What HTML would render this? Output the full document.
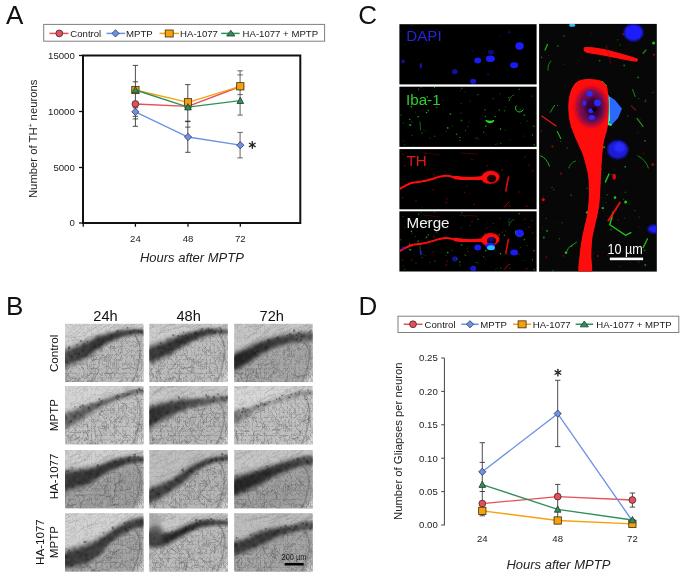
<!DOCTYPE html>
<html><head><meta charset="utf-8"><style>
html,body{margin:0;padding:0;background:#fff;}
body{width:685px;height:578px;overflow:hidden;position:relative;font-family:"Liberation Sans",sans-serif;}
svg{position:absolute;left:0;top:0;filter:blur(0.3px);}
svg text{font-family:"Liberation Sans",sans-serif;}
</style></head><body>
<svg width="685" height="578" viewBox="0 0 685 578">
<defs><filter id="b04" x="-20%" y="-20%" width="140%" height="140%"><feGaussianBlur stdDeviation="0.45"/></filter><filter id="b3" x="-20%" y="-20%" width="140%" height="140%"><feGaussianBlur stdDeviation="3"/></filter><filter id="b2" x="-20%" y="-20%" width="140%" height="140%"><feGaussianBlur stdDeviation="2.2"/></filter><filter id="b15" x="-20%" y="-20%" width="140%" height="140%"><feGaussianBlur stdDeviation="1.6"/></filter><filter id="tex0" x="0" y="0" width="100%" height="100%"><feTurbulence type="turbulence" baseFrequency="0.26 0.22" numOctaves="2" seed="3"/><feColorMatrix type="matrix" values="0 0 0 0 0.1  0 0 0 0 0.1  0 0 0 0 0.1  -4.5 0 0 0 1.1"/><feGaussianBlur stdDeviation="0.4"/></filter><filter id="mot0" x="0" y="0" width="100%" height="100%"><feTurbulence type="fractalNoise" baseFrequency="0.35" numOctaves="2" seed="11" result="n"/><feColorMatrix in="n" type="matrix" values="0 0 0 0 0  0 0 0 0 0  0 0 0 0 0  4.0 0 0 0 -1.8" result="m"/><feComposite in="m" in2="SourceAlpha" operator="in"/><feGaussianBlur stdDeviation="0.8"/></filter><filter id="tex1" x="0" y="0" width="100%" height="100%"><feTurbulence type="turbulence" baseFrequency="0.26 0.22" numOctaves="2" seed="10"/><feColorMatrix type="matrix" values="0 0 0 0 0.1  0 0 0 0 0.1  0 0 0 0 0.1  -4.5 0 0 0 1.1"/><feGaussianBlur stdDeviation="0.4"/></filter><filter id="mot1" x="0" y="0" width="100%" height="100%"><feTurbulence type="fractalNoise" baseFrequency="0.35" numOctaves="2" seed="16" result="n"/><feColorMatrix in="n" type="matrix" values="0 0 0 0 0  0 0 0 0 0  0 0 0 0 0  4.0 0 0 0 -1.8" result="m"/><feComposite in="m" in2="SourceAlpha" operator="in"/><feGaussianBlur stdDeviation="0.8"/></filter><filter id="tex2" x="0" y="0" width="100%" height="100%"><feTurbulence type="turbulence" baseFrequency="0.26 0.22" numOctaves="2" seed="17"/><feColorMatrix type="matrix" values="0 0 0 0 0.1  0 0 0 0 0.1  0 0 0 0 0.1  -4.5 0 0 0 1.1"/><feGaussianBlur stdDeviation="0.4"/></filter><filter id="mot2" x="0" y="0" width="100%" height="100%"><feTurbulence type="fractalNoise" baseFrequency="0.35" numOctaves="2" seed="21" result="n"/><feColorMatrix in="n" type="matrix" values="0 0 0 0 0  0 0 0 0 0  0 0 0 0 0  4.0 0 0 0 -1.8" result="m"/><feComposite in="m" in2="SourceAlpha" operator="in"/><feGaussianBlur stdDeviation="0.8"/></filter><filter id="tex3" x="0" y="0" width="100%" height="100%"><feTurbulence type="turbulence" baseFrequency="0.26 0.22" numOctaves="2" seed="24"/><feColorMatrix type="matrix" values="0 0 0 0 0.1  0 0 0 0 0.1  0 0 0 0 0.1  -4.5 0 0 0 1.1"/><feGaussianBlur stdDeviation="0.4"/></filter><filter id="mot3" x="0" y="0" width="100%" height="100%"><feTurbulence type="fractalNoise" baseFrequency="0.35" numOctaves="2" seed="26" result="n"/><feColorMatrix in="n" type="matrix" values="0 0 0 0 0  0 0 0 0 0  0 0 0 0 0  4.0 0 0 0 -1.8" result="m"/><feComposite in="m" in2="SourceAlpha" operator="in"/><feGaussianBlur stdDeviation="0.8"/></filter><filter id="g05" x="-50%" y="-50%" width="200%" height="200%"><feGaussianBlur stdDeviation="0.5"/></filter><filter id="g06" x="-50%" y="-50%" width="200%" height="200%"><feGaussianBlur stdDeviation="0.7"/></filter><filter id="g1" x="-50%" y="-50%" width="200%" height="200%"><feGaussianBlur stdDeviation="1.0"/></filter><filter id="g2" x="-50%" y="-50%" width="200%" height="200%"><feGaussianBlur stdDeviation="2.0"/></filter></defs>
<text x="6.1" y="24.2" font-size="26" fill="#111">A</text>
<rect x="43.7" y="24.4" width="280.90000000000003" height="16.800000000000004" fill="#fff" stroke="#7f7f7f" stroke-width="1"/>
<line x1="49.5" y1="33.4" x2="68.5" y2="33.4" stroke="#e5505a" stroke-width="1.5"/>
<circle cx="59.3" cy="33.4" r="3.4" fill="#e5505a" stroke="#3a2a2a" stroke-width="0.8"/>
<text x="70.3" y="37.3" font-size="9.6" fill="#1a1a1a">Control</text>
<line x1="106.5" y1="33.4" x2="125" y2="33.4" stroke="#6b92e4" stroke-width="1.5"/>
<path d="M115.5 29.799999999999997L119.1 33.4L115.5 37.0L111.9 33.4Z" fill="#6b92e4" stroke="#2a3550" stroke-width="0.8"/>
<text x="126.1" y="37.3" font-size="9.6" fill="#1a1a1a">MPTP</text>
<line x1="159.5" y1="33.4" x2="179" y2="33.4" stroke="#f5a10d" stroke-width="1.5"/>
<rect x="165.2" y="30.0" width="8" height="7" fill="#f5a10d" stroke="#3a2a10" stroke-width="0.8"/>
<text x="180.1" y="37.3" font-size="9.6" fill="#1a1a1a">HA-1077</text>
<line x1="221.2" y1="33.4" x2="239.6" y2="33.4" stroke="#2f8f5a" stroke-width="1.5"/>
<path d="M230.8 30.2L234.9 36.0L226.70000000000002 36.0Z" fill="#2f8f5a" stroke="#1f3a2a" stroke-width="0.8"/>
<text x="242.6" y="37.3" font-size="9.6" fill="#1a1a1a">HA-1077 + MPTP</text>
<path d="M83 55.5H300.3V223H83Z" fill="none" stroke="#111" stroke-width="2"/>
<line x1="79" y1="55.5" x2="83" y2="55.5" stroke="#111" stroke-width="1.3"/><text x="74.8" y="58.8" font-size="9.6" text-anchor="end" fill="#222">15000</text>
<line x1="79" y1="111.5" x2="83" y2="111.5" stroke="#111" stroke-width="1.3"/><text x="74.8" y="114.8" font-size="9.6" text-anchor="end" fill="#222">10000</text>
<line x1="79" y1="167.5" x2="83" y2="167.5" stroke="#111" stroke-width="1.3"/><text x="74.8" y="170.8" font-size="9.6" text-anchor="end" fill="#222">5000</text>
<line x1="79" y1="223" x2="83" y2="223" stroke="#111" stroke-width="1.3"/><text x="74.8" y="226.3" font-size="9.6" text-anchor="end" fill="#222">0</text>
<line x1="83.2" y1="223" x2="83.2" y2="226.8" stroke="#111" stroke-width="1.3"/><line x1="135.4" y1="223" x2="135.4" y2="226.8" stroke="#111" stroke-width="1.3"/><line x1="188" y1="223" x2="188" y2="226.8" stroke="#111" stroke-width="1.3"/><line x1="240.3" y1="223" x2="240.3" y2="226.8" stroke="#111" stroke-width="1.3"/><text x="135.4" y="241.5" font-size="9.6" text-anchor="middle" fill="#222">24</text>
<text x="188" y="241.5" font-size="9.6" text-anchor="middle" fill="#222">48</text>
<text x="240.3" y="241.5" font-size="9.6" text-anchor="middle" fill="#222">72</text>
<text x="191.9" y="262.4" font-size="13" font-style="italic" text-anchor="middle" fill="#222">Hours after MPTP</text>
<text transform="translate(37.2,138.8) rotate(-90)" font-size="11.3" text-anchor="middle" fill="#222">Number of TH<tspan font-size="6.5" dy="-4">+</tspan><tspan dy="4"> neurons</tspan></text>
<line x1="135.4" y1="65.4" x2="135.4" y2="126.3" stroke="#3a3a3a" stroke-width="0.9"/><line x1="132.70000000000002" y1="65.4" x2="138.1" y2="65.4" stroke="#3a3a3a" stroke-width="0.9"/><line x1="132.70000000000002" y1="81.8" x2="138.1" y2="81.8" stroke="#3a3a3a" stroke-width="0.9"/><line x1="132.70000000000002" y1="107.8" x2="138.1" y2="107.8" stroke="#3a3a3a" stroke-width="0.9"/><line x1="132.70000000000002" y1="116.3" x2="138.1" y2="116.3" stroke="#3a3a3a" stroke-width="0.9"/><line x1="132.70000000000002" y1="118.9" x2="138.1" y2="118.9" stroke="#3a3a3a" stroke-width="0.9"/><line x1="132.70000000000002" y1="126.3" x2="138.1" y2="126.3" stroke="#3a3a3a" stroke-width="0.9"/>
<line x1="187.8" y1="84.6" x2="187.8" y2="152.3" stroke="#3a3a3a" stroke-width="0.9"/><line x1="185.10000000000002" y1="84.6" x2="190.5" y2="84.6" stroke="#3a3a3a" stroke-width="0.9"/><line x1="185.10000000000002" y1="121.4" x2="190.5" y2="121.4" stroke="#3a3a3a" stroke-width="1.4"/><line x1="185.10000000000002" y1="127.1" x2="190.5" y2="127.1" stroke="#3a3a3a" stroke-width="0.9"/><line x1="185.10000000000002" y1="152.3" x2="190.5" y2="152.3" stroke="#3a3a3a" stroke-width="0.9"/>
<line x1="240.1" y1="70.8" x2="240.1" y2="115.1" stroke="#555" stroke-width="0.9"/><line x1="237.4" y1="70.8" x2="242.79999999999998" y2="70.8" stroke="#555" stroke-width="0.9"/><line x1="237.4" y1="74.9" x2="242.79999999999998" y2="74.9" stroke="#555" stroke-width="0.9"/><line x1="237.4" y1="94.6" x2="242.79999999999998" y2="94.6" stroke="#555" stroke-width="0.9"/><line x1="237.4" y1="115.1" x2="242.79999999999998" y2="115.1" stroke="#555" stroke-width="0.9"/>
<line x1="240.1" y1="132.4" x2="240.1" y2="157.9" stroke="#555" stroke-width="0.9"/><line x1="237.4" y1="132.4" x2="242.79999999999998" y2="132.4" stroke="#555" stroke-width="0.9"/><line x1="237.4" y1="157.9" x2="242.79999999999998" y2="157.9" stroke="#555" stroke-width="0.9"/>
<polyline points="135.4,104 188,106.4 240.3,86.5" fill="none" stroke="#e5505a" stroke-width="1.35"/>
<circle cx="135.4" cy="104" r="3.4" fill="#e5505a" stroke="#3a2a2a" stroke-width="0.8"/>
<circle cx="188" cy="106.4" r="3.4" fill="#e5505a" stroke="#3a2a2a" stroke-width="0.8"/>
<circle cx="240.3" cy="86.5" r="3.4" fill="#e5505a" stroke="#3a2a2a" stroke-width="0.8"/>
<polyline points="135.4,111.8 188,137 240.3,145.2" fill="none" stroke="#6b92e4" stroke-width="1.35"/>
<path d="M135.4 108.2L139.0 111.8L135.4 115.39999999999999L131.8 111.8Z" fill="#6b92e4" stroke="#2a3550" stroke-width="0.8"/>
<path d="M188 133.4L191.6 137L188 140.6L184.4 137Z" fill="#6b92e4" stroke="#2a3550" stroke-width="0.8"/>
<path d="M240.3 141.6L243.9 145.2L240.3 148.79999999999998L236.70000000000002 145.2Z" fill="#6b92e4" stroke="#2a3550" stroke-width="0.8"/>
<polyline points="135.4,90 188,102.3 240.3,86.3" fill="none" stroke="#f5a10d" stroke-width="1.35"/>
<rect x="131.75" y="86.35" width="7.3" height="7.3" fill="#f5a10d" stroke="#3a2a10" stroke-width="0.8"/>
<rect x="184.35" y="98.64999999999999" width="7.3" height="7.3" fill="#f5a10d" stroke="#3a2a10" stroke-width="0.8"/>
<rect x="236.65" y="82.64999999999999" width="7.3" height="7.3" fill="#f5a10d" stroke="#3a2a10" stroke-width="0.8"/>
<polyline points="135.4,90 188,107.1 240.3,100.7" fill="none" stroke="#2f8f5a" stroke-width="1.35"/>
<path d="M135.4 86.5L138.725 92.8L132.07500000000002 92.8Z" fill="#2f8f5a" stroke="#1f3a2a" stroke-width="0.8"/>
<path d="M188 103.6L191.325 109.89999999999999L184.675 109.89999999999999Z" fill="#2f8f5a" stroke="#1f3a2a" stroke-width="0.8"/>
<path d="M240.3 97.2L243.625 103.5L236.97500000000002 103.5Z" fill="#2f8f5a" stroke="#1f3a2a" stroke-width="0.8"/>
<line x1="252.30" y1="141.60" x2="252.30" y2="148.20" stroke="#222" stroke-width="1.35" stroke-linecap="round"/><line x1="249.44" y1="143.25" x2="255.16" y2="146.55" stroke="#222" stroke-width="1.35" stroke-linecap="round"/><line x1="255.16" y1="143.25" x2="249.44" y2="146.55" stroke="#222" stroke-width="1.35" stroke-linecap="round"/>

<text x="5.9" y="314.5" font-size="26" fill="#111">B</text>
<text x="105.5" y="320.9" font-size="14.6" text-anchor="middle" fill="#111">24h</text>
<text x="188.6" y="320.9" font-size="14.6" text-anchor="middle" fill="#111">48h</text>
<text x="271.7" y="320.9" font-size="14.6" text-anchor="middle" fill="#111">72h</text>
<text transform="translate(58.1,353.4) rotate(-90)" font-size="11.6" text-anchor="middle" fill="#111">Control</text>
<text transform="translate(58.1,415.1) rotate(-90)" font-size="11.6" text-anchor="middle" fill="#111">MPTP</text>
<text transform="translate(58.1,476.4) rotate(-90)" font-size="11.6" text-anchor="middle" fill="#111">HA-1077</text>
<text transform="translate(44.3,542.1) rotate(-90)" font-size="11.6" text-anchor="middle" fill="#111">HA-1077</text>
<text transform="translate(58.1,542.1) rotate(-90)" font-size="11.6" text-anchor="middle" fill="#111">MPTP</text>
<svg x="65.0" y="323.8" width="78.5" height="58.3" viewBox="0 0 78.5 58.3" preserveAspectRatio="none"><defs><linearGradient id="bg00" x1="0" y1="0" x2="1" y2="0"><stop offset="0" stop-color="rgb(80,80,80)"/><stop offset="0.45" stop-color="rgb(45,45,45)"/><stop offset="1" stop-color="rgb(70,70,70)"/></linearGradient></defs><rect width="78.5" height="58.3" fill="rgb(210,210,210)"/><path d="M-2 45.5 C0.1 44.7 6.6 42.6 10.7 40.8 C14.8 39.0 18.6 37.5 22.5 34.9 C26.4 32.3 30.4 28.2 34.4 25.4 C38.4 22.6 42.3 20.3 46.2 18.3 C50.1 16.3 54.1 14.8 58.0 13.6 C61.9 12.4 66.0 11.6 69.8 11.2 C73.6 10.8 79.1 11.0 81.0 11.0 L84.5 64.3 L-6 64.3 Z" fill="rgb(188,188,188)" filter="url(#b3)"/><ellipse cx="82.5" cy="62.3" rx="11" ry="16" fill="#e4e4e4" filter="url(#b3)" opacity="0.85"/><clipPath id="cl00"><path d="M-2 45.5 C0.1 44.7 6.6 42.6 10.7 40.8 C14.8 39.0 18.6 37.5 22.5 34.9 C26.4 32.3 30.4 28.2 34.4 25.4 C38.4 22.6 42.3 20.3 46.2 18.3 C50.1 16.3 54.1 14.8 58.0 13.6 C61.9 12.4 66.0 11.6 69.8 11.2 C73.6 10.8 79.1 11.0 81.0 11.0 L84.5 64.3 L-6 64.3 Z"/></clipPath><rect width="78.5" height="58.3" filter="url(#tex0)" opacity="0.18"/><rect width="78.5" height="58.3" filter="url(#tex1)" opacity="0.4" clip-path="url(#cl00)"/><path d="M69.5 11.2 C77.5 19.2 77.5 37.9 66.5 60.3" fill="none" stroke="#444" stroke-width="1.5" opacity="0.3" filter="url(#b04)"/><path d="M-2 26.0 C0.1 25.1 6.6 22.4 10.7 20.7 C14.8 19.0 18.6 17.6 22.5 16.0 C26.4 14.4 30.4 12.5 34.4 11.2 C38.4 9.9 42.3 9.2 46.2 8.3 C50.1 7.4 54.1 6.4 58.0 5.9 C61.9 5.4 66.0 5.3 69.8 5.3 C73.6 5.3 79.1 5.9 81.0 6.0 L81 11.0 C79.1 11.0 73.6 10.8 69.8 11.2 C66.0 11.6 61.9 12.4 58.0 13.6 C54.1 14.8 50.1 16.3 46.2 18.3 C42.3 20.3 38.4 22.6 34.4 25.4 C30.4 28.2 26.4 32.3 22.5 34.9 C18.6 37.5 14.8 39.0 10.7 40.8 C6.6 42.6 0.1 44.7 -2.0 45.5 Z" fill="url(#bg00)" filter="url(#b2)" opacity="0.45"/><path d="M-2 29.3 C0.1 28.4 6.6 25.8 10.7 24.1 C14.8 22.4 18.6 21.0 22.5 19.2 C26.4 17.5 30.4 15.1 34.4 13.6 C38.4 12.1 42.3 11.1 46.2 10.0 C50.1 8.9 54.1 7.8 58.0 7.2 C61.9 6.6 66.0 6.4 69.8 6.3 C73.6 6.2 79.1 6.8 81.0 6.8 L81 10.2 C79.1 10.2 73.6 9.8 69.8 10.2 C66.0 10.6 61.9 11.2 58.0 12.3 C54.1 13.4 50.1 14.8 46.2 16.6 C42.3 18.4 38.4 20.5 34.4 23.0 C30.4 25.5 26.4 29.3 22.5 31.7 C18.6 34.1 14.8 35.6 10.7 37.4 C6.6 39.1 0.1 41.4 -2.0 42.2 Z" fill="url(#bg00)" filter="url(#b15)" opacity="0.9"/><path d="M-2 26.0 C0.1 25.1 6.6 22.4 10.7 20.7 C14.8 19.0 18.6 17.6 22.5 16.0 C26.4 14.4 30.4 12.5 34.4 11.2 C38.4 9.9 42.3 9.2 46.2 8.3 C50.1 7.4 54.1 6.4 58.0 5.9 C61.9 5.4 66.0 5.3 69.8 5.3 C73.6 5.3 79.1 5.9 81.0 6.0 L81 11.0 C79.1 11.0 73.6 10.8 69.8 11.2 C66.0 11.6 61.9 12.4 58.0 13.6 C54.1 14.8 50.1 16.3 46.2 18.3 C42.3 20.3 38.4 22.6 34.4 25.4 C30.4 28.2 26.4 32.3 22.5 34.9 C18.6 37.5 14.8 39.0 10.7 40.8 C6.6 42.6 0.1 44.7 -2.0 45.5 Z" fill="#000" filter="url(#mot0)" opacity="0.45"/><path d="M48.9 47.7Q45.6 51.1 39.5 49.4M2.3 50.6Q2.3 53.0 -2.5 60.1M36.8 32.4Q33.0 34.5 35.0 40.0M21.9 56.4Q27.8 56.4 30.1 60.9M48.5 22.6Q44.9 21.7 44.8 24.2M77.1 52.3Q74.4 53.7 71.1 53.0M16.1 57.1Q14.0 56.4 7.3 58.0M28.4 34.9Q29.6 36.0 33.3 35.9M0.3 53.9Q4.0 56.4 3.8 59.2M24.8 45.2Q32.0 43.1 33.6 46.8M58.9 51.3Q56.4 53.1 55.6 53.9M0.7 45.1Q-3.7 47.0 -4.5 45.9M73.0 55.6Q74.5 60.1 75.8 61.3M8.5 54.1Q1.4 58.8 -0.2 58.2M7.2 47.6Q2.2 51.2 -0.8 49.7M42.8 32.2Q42.9 31.7 48.1 35.5M54.1 58.2Q59.6 58.7 59.2 58.9M31.9 34.8Q28.1 36.4 24.9 39.0M4.4 57.0Q6.4 56.9 4.5 61.3M57.4 56.1Q51.8 58.3 50.8 61.3M11.7 55.5Q15.2 60.6 12.6 61.5M76.6 32.5Q74.0 34.0 71.7 38.1M31.7 32.1Q31.1 32.9 25.1 32.3M39.2 34.6Q42.4 38.6 42.2 38.1M28.4 52.3Q26.6 57.7 23.0 60.0M28.5 50.0Q30.3 54.1 28.8 55.9M23.1 57.0Q19.1 61.4 20.9 65.3M19.7 51.1Q17.5 54.8 13.6 55.0M27.3 48.6Q22.5 53.0 19.4 53.3M68.3 43.7Q63.0 44.6 57.6 45.2M13.0 55.2Q14.6 61.8 13.8 65.8M57.3 21.5Q57.1 25.6 55.0 30.7M49.0 49.0Q43.4 50.3 43.6 55.6M34.6 46.7Q33.9 46.3 31.6 51.4M37.0 31.6Q37.9 30.6 41.0 33.4M15.2 39.3Q17.2 43.2 17.8 46.0M18.7 56.2Q17.9 57.6 19.8 60.0M9.0 55.5Q13.0 53.4 15.6 56.2M42.8 33.2Q40.7 33.3 34.8 34.3M63.8 41.9Q67.4 43.7 69.8 44.7" fill="none" stroke="#222" stroke-width="0.6" opacity="0.38" filter="url(#b04)"/><path d="M74.9 5.4Q83.1 -0.5 88.1 -2.4M4.0 13.3Q10.6 10.1 16.1 3.8M26.4 6.2Q32.8 2.8 35.4 0.4M75.3 5.2Q83.5 0.9 87.8 -3.3M29.7 4.2Q37.7 -0.3 47.5 -4.5M5.2 14.3Q11.9 12.0 16.4 7.1M-3.9 13.8Q2.8 11.8 7.2 11.7M17.4 2.8Q26.1 -2.7 34.0 -8.0M48.8 4.7Q56.5 -1.4 62.0 -5.9M39.5 3.3Q44.7 0.4 50.0 -1.5M57.2 3.6Q60.5 2.9 64.2 -1.2M69.1 2.9Q72.8 2.1 77.0 0.6M54.1 4.2Q60.4 2.4 67.6 1.4M66.1 1.1Q70.0 1.0 77.3 -1.8M53.0 3.0Q60.1 -0.0 64.0 -0.2M34.9 6.1Q39.5 2.8 46.8 -1.2M62.8 0.4Q69.2 -0.3 73.2 -2.4M-2.9 18.8Q7.7 15.5 16.7 15.8M65.3 1.2Q73.9 -1.6 80.8 -1.6M19.4 15.8Q23.6 12.6 28.5 12.1M47.0 0.4Q49.3 -3.7 55.0 -4.3M43.0 6.7Q50.0 0.2 57.6 -4.8M45.1 4.2Q51.7 0.2 61.8 -5.5M7.6 13.9Q14.7 12.9 21.4 11.0M17.0 10.0Q22.3 6.9 27.5 6.8" fill="none" stroke="#333" stroke-width="0.6" opacity="0.2" filter="url(#b04)"/><path d="M17.4 22.1a1.0 1.0 0 1 0 2.0 0a1.0 1.0 0 1 0 -2.0 0M13.1 30.1a1.0 1.0 0 1 0 1.9 0a1.0 1.0 0 1 0 -1.9 0M6.1 32.3a0.6 0.6 0 1 0 1.1 0a0.6 0.6 0 1 0 -1.1 0M9.1 29.8a0.7 0.7 0 1 0 1.3 0a0.7 0.7 0 1 0 -1.3 0M68.1 6.6a0.7 0.7 0 1 0 1.5 0a0.7 0.7 0 1 0 -1.5 0M61.5 3.9a1.0 1.0 0 1 0 2.0 0a1.0 1.0 0 1 0 -2.0 0M3.0 24.1a1.2 1.2 0 1 0 2.3 0a1.2 1.2 0 1 0 -2.3 0M52.9 6.8a0.6 0.6 0 1 0 1.2 0a0.6 0.6 0 1 0 -1.2 0M75.3 7.9a1.1 1.1 0 1 0 2.1 0a1.1 1.1 0 1 0 -2.1 0M10.2 29.9a0.7 0.7 0 1 0 1.5 0a0.7 0.7 0 1 0 -1.5 0M17.5 21.4a0.9 0.9 0 1 0 1.9 0a0.9 0.9 0 1 0 -1.9 0M26.8 18.0a0.6 0.6 0 1 0 1.2 0a0.6 0.6 0 1 0 -1.2 0M64.2 8.2a1.1 1.1 0 1 0 2.1 0a1.1 1.1 0 1 0 -2.1 0M33.2 20.8a0.9 0.9 0 1 0 1.7 0a0.9 0.9 0 1 0 -1.7 0M45.5 11.9a1.0 1.0 0 1 0 2.0 0a1.0 1.0 0 1 0 -2.0 0M30.5 12.0a0.5 0.5 0 1 0 1.0 0a0.5 0.5 0 1 0 -1.0 0M14.8 17.3a1.1 1.1 0 1 0 2.2 0a1.1 1.1 0 1 0 -2.2 0M37.3 17.8a0.5 0.5 0 1 0 1.0 0a0.5 0.5 0 1 0 -1.0 0M36.0 19.8a0.9 0.9 0 1 0 1.9 0a0.9 0.9 0 1 0 -1.9 0M33.1 15.8a0.6 0.6 0 1 0 1.1 0a0.6 0.6 0 1 0 -1.1 0M11.4 21.0a0.8 0.8 0 1 0 1.5 0a0.8 0.8 0 1 0 -1.5 0M29.7 23.8a0.6 0.6 0 1 0 1.2 0a0.6 0.6 0 1 0 -1.2 0M19.3 19.8a0.6 0.6 0 1 0 1.2 0a0.6 0.6 0 1 0 -1.2 0M21.7 18.0a0.8 0.8 0 1 0 1.7 0a0.8 0.8 0 1 0 -1.7 0M1.8 38.5a0.8 0.8 0 1 0 1.5 0a0.8 0.8 0 1 0 -1.5 0M72.7 8.0a1.0 1.0 0 1 0 1.9 0a1.0 1.0 0 1 0 -1.9 0M36.4 20.5a0.6 0.6 0 1 0 1.2 0a0.6 0.6 0 1 0 -1.2 0M51.5 7.6a1.0 1.0 0 1 0 1.9 0a1.0 1.0 0 1 0 -1.9 0" fill="#151515" opacity="0.4" filter="url(#b04)"/></svg>
<svg x="149.3" y="323.8" width="78.5" height="58.3" viewBox="0 0 78.5 58.3" preserveAspectRatio="none"><defs><linearGradient id="bg01" x1="0" y1="0" x2="1" y2="0"><stop offset="0" stop-color="rgb(65,65,65)"/><stop offset="0.45" stop-color="rgb(45,45,45)"/><stop offset="1" stop-color="rgb(75,75,75)"/></linearGradient></defs><rect width="78.5" height="58.3" fill="rgb(205,205,205)"/><path d="M-2 42 C0.1 41.2 6.6 38.8 10.7 37.0 C14.8 35.2 18.6 33.3 22.5 31.0 C26.4 28.7 30.4 25.3 34.4 23.0 C38.4 20.7 42.3 18.8 46.2 17.0 C50.1 15.2 54.1 13.6 58.0 12.4 C61.9 11.2 66.0 10.4 69.8 10.0 C73.6 9.6 79.1 10.0 81.0 10.0 L84.5 64.3 L-6 64.3 Z" fill="rgb(190,190,190)" filter="url(#b3)"/><ellipse cx="82.5" cy="62.3" rx="11" ry="16" fill="#e4e4e4" filter="url(#b3)" opacity="0.85"/><clipPath id="cl01"><path d="M-2 42 C0.1 41.2 6.6 38.8 10.7 37.0 C14.8 35.2 18.6 33.3 22.5 31.0 C26.4 28.7 30.4 25.3 34.4 23.0 C38.4 20.7 42.3 18.8 46.2 17.0 C50.1 15.2 54.1 13.6 58.0 12.4 C61.9 11.2 66.0 10.4 69.8 10.0 C73.6 9.6 79.1 10.0 81.0 10.0 L84.5 64.3 L-6 64.3 Z"/></clipPath><rect width="78.5" height="58.3" filter="url(#tex1)" opacity="0.18"/><rect width="78.5" height="58.3" filter="url(#tex2)" opacity="0.4" clip-path="url(#cl01)"/><path d="M69.5 10.0 C77.5 18.0 77.5 37.9 66.5 60.3" fill="none" stroke="#444" stroke-width="1.5" opacity="0.3" filter="url(#b04)"/><path d="M-2 22.0 C0.1 21.3 6.6 19.4 10.7 18.0 C14.8 16.6 18.6 14.8 22.5 13.5 C26.4 12.2 30.4 11.2 34.4 10.0 C38.4 8.8 42.3 7.4 46.2 6.5 C50.1 5.6 54.1 4.9 58.0 4.7 C61.9 4.5 66.0 5.1 69.8 5.3 C73.6 5.5 79.1 5.9 81.0 6.0 L81 10.0 C79.1 10.0 73.6 9.6 69.8 10.0 C66.0 10.4 61.9 11.2 58.0 12.4 C54.1 13.6 50.1 15.2 46.2 17.0 C42.3 18.8 38.4 20.7 34.4 23.0 C30.4 25.3 26.4 28.7 22.5 31.0 C18.6 33.3 14.8 35.2 10.7 37.0 C6.6 38.8 0.1 41.2 -2.0 42.0 Z" fill="url(#bg01)" filter="url(#b2)" opacity="0.45"/><path d="M-2 25.4 C0.1 24.7 6.6 22.7 10.7 21.2 C14.8 19.7 18.6 18.0 22.5 16.5 C26.4 15.0 30.4 13.6 34.4 12.2 C38.4 10.8 42.3 9.3 46.2 8.3 C50.1 7.3 54.1 6.4 58.0 6.0 C61.9 5.6 66.0 6.0 69.8 6.1 C73.6 6.2 79.1 6.6 81.0 6.7 L81 9.3 C79.1 9.3 73.6 8.9 69.8 9.2 C66.0 9.5 61.9 10.1 58.0 11.1 C54.1 12.1 50.1 13.6 46.2 15.2 C42.3 16.8 38.4 18.7 34.4 20.8 C30.4 22.9 26.4 25.9 22.5 28.0 C18.6 30.2 14.8 32.0 10.7 33.8 C6.6 35.5 0.1 37.8 -2.0 38.6 Z" fill="url(#bg01)" filter="url(#b15)" opacity="0.9"/><path d="M-2 22.0 C0.1 21.3 6.6 19.4 10.7 18.0 C14.8 16.6 18.6 14.8 22.5 13.5 C26.4 12.2 30.4 11.2 34.4 10.0 C38.4 8.8 42.3 7.4 46.2 6.5 C50.1 5.6 54.1 4.9 58.0 4.7 C61.9 4.5 66.0 5.1 69.8 5.3 C73.6 5.5 79.1 5.9 81.0 6.0 L81 10.0 C79.1 10.0 73.6 9.6 69.8 10.0 C66.0 10.4 61.9 11.2 58.0 12.4 C54.1 13.6 50.1 15.2 46.2 17.0 C42.3 18.8 38.4 20.7 34.4 23.0 C30.4 25.3 26.4 28.7 22.5 31.0 C18.6 33.3 14.8 35.2 10.7 37.0 C6.6 38.8 0.1 41.2 -2.0 42.0 Z" fill="#000" filter="url(#mot1)" opacity="0.45"/><path d="M37.3 45.7Q38.2 46.8 45.1 49.5M21.5 53.2Q20.5 58.4 18.7 61.6M11.4 46.2Q6.3 48.8 6.5 47.7M5.9 52.2Q8.8 52.4 7.7 58.3M4.8 56.7Q11.3 60.4 12.0 58.8M8.8 46.4Q10.9 46.5 11.6 50.6M54.7 16.0Q51.9 16.9 50.4 18.8M46.8 36.6Q51.5 39.7 53.4 37.2M76.6 42.1Q79.1 46.0 79.3 48.0M8.9 42.5Q10.7 45.8 8.7 49.1M2.2 55.1Q0.3 58.2 1.8 62.1M30.5 50.9Q28.2 54.4 29.7 55.5M2.9 45.1Q-1.1 47.8 0.2 50.9M16.4 40.9Q12.6 44.1 9.1 41.9M13.2 56.6Q17.4 60.9 18.6 60.3M0.5 45.6Q1.2 46.8 5.0 53.9M3.1 51.3Q-2.3 48.5 -7.7 51.4M25.3 52.1Q21.6 56.7 21.1 61.0M37.5 44.6Q37.0 43.0 31.7 45.5M22.9 54.8Q20.0 56.5 17.0 55.8M55.3 23.0Q58.5 26.4 59.5 27.4M10.3 55.9Q12.5 61.2 15.4 60.7M44.0 43.2Q40.3 43.4 33.6 44.5M46.2 54.2Q44.1 58.0 43.8 63.4M57.8 38.3Q58.9 41.7 55.2 41.6M70.5 54.0Q66.7 53.9 64.3 58.7M27.7 37.1Q25.0 42.2 21.8 45.8M9.8 48.5Q9.7 52.2 12.7 57.0M25.4 49.1Q26.7 51.0 30.2 50.5M59.6 42.6Q59.0 47.3 64.0 52.2M34.8 29.2Q35.3 31.9 39.0 36.8M74.1 10.4Q74.4 12.5 78.3 15.4M17.3 56.3Q13.1 59.1 12.9 62.4M47.6 51.7Q50.1 56.6 48.3 57.4M17.9 46.8Q20.4 52.2 20.9 55.6M76.3 36.8Q79.7 39.6 80.3 44.6M39.2 34.2Q40.4 35.7 44.8 36.7M19.8 33.6Q25.4 37.9 25.8 41.1M30.5 54.1Q31.0 59.3 36.0 62.8M66.2 39.7Q68.1 42.8 68.7 48.8" fill="none" stroke="#222" stroke-width="0.6" opacity="0.38" filter="url(#b04)"/><path d="M29.0 4.4Q35.7 0.0 40.0 -1.8M12.1 4.4Q19.2 1.6 29.9 -3.9M67.9 4.3Q73.0 1.0 79.7 0.5M67.3 4.3Q70.5 2.4 77.5 2.0M-3.9 3.8Q-0.0 1.0 5.5 0.6M10.4 5.6Q17.3 2.9 27.4 -1.3M39.8 3.8Q47.7 1.3 53.2 -1.3M48.1 2.9Q54.5 -0.9 61.6 -4.8M54.7 1.4Q64.7 -2.0 71.9 -6.9M74.9 3.8Q81.0 1.7 86.3 -2.5M65.1 0.7Q66.8 -3.9 71.8 -4.9M-4.3 5.5Q0.6 5.8 4.5 2.4M75.2 4.2Q81.3 -0.6 89.6 -8.8M34.7 2.0Q42.4 -2.8 49.7 -6.1M15.2 1.4Q24.7 1.1 30.2 -1.3M72.9 2.0Q79.0 1.5 84.3 -0.3M-4.0 5.0Q3.9 3.9 9.2 0.8M23.4 5.1Q32.4 2.4 41.5 2.2M47.1 3.4Q51.7 0.3 57.2 -3.7M5.6 10.6Q13.9 7.4 24.1 4.8M3.5 14.9Q10.0 10.6 16.0 5.5M43.2 2.8Q50.2 -0.9 53.3 -3.2M37.0 4.3Q40.2 1.1 45.7 -0.7M25.7 4.4Q33.1 -0.2 41.8 -6.0M28.2 6.1Q34.9 -0.6 40.2 -4.1" fill="none" stroke="#333" stroke-width="0.6" opacity="0.2" filter="url(#b04)"/><path d="M18.5 25.8a1.2 1.2 0 1 0 2.4 0a1.2 1.2 0 1 0 -2.4 0M52.1 5.0a0.8 0.8 0 1 0 1.6 0a0.8 0.8 0 1 0 -1.6 0M21.5 25.1a0.7 0.7 0 1 0 1.3 0a0.7 0.7 0 1 0 -1.3 0M14.5 24.9a0.9 0.9 0 1 0 1.9 0a0.9 0.9 0 1 0 -1.9 0M45.1 9.5a1.2 1.2 0 1 0 2.3 0a1.2 1.2 0 1 0 -2.3 0M35.2 18.9a0.8 0.8 0 1 0 1.5 0a0.8 0.8 0 1 0 -1.5 0M35.5 11.7a1.0 1.0 0 1 0 2.0 0a1.0 1.0 0 1 0 -2.0 0M58.1 4.7a0.9 0.9 0 1 0 1.7 0a0.9 0.9 0 1 0 -1.7 0M56.1 7.0a1.0 1.0 0 1 0 1.9 0a1.0 1.0 0 1 0 -1.9 0M47.6 11.3a0.7 0.7 0 1 0 1.5 0a0.7 0.7 0 1 0 -1.5 0M22.9 11.4a1.1 1.1 0 1 0 2.2 0a1.1 1.1 0 1 0 -2.2 0M60.8 5.8a1.2 1.2 0 1 0 2.4 0a1.2 1.2 0 1 0 -2.4 0M69.8 4.2a1.1 1.1 0 1 0 2.2 0a1.1 1.1 0 1 0 -2.2 0M32.4 12.4a0.7 0.7 0 1 0 1.4 0a0.7 0.7 0 1 0 -1.4 0M31.9 9.2a0.5 0.5 0 1 0 1.1 0a0.5 0.5 0 1 0 -1.1 0M8.6 21.8a0.6 0.6 0 1 0 1.2 0a0.6 0.6 0 1 0 -1.2 0M8.8 30.7a0.8 0.8 0 1 0 1.5 0a0.8 0.8 0 1 0 -1.5 0M37.3 13.8a1.2 1.2 0 1 0 2.3 0a1.2 1.2 0 1 0 -2.3 0M10.4 19.6a1.1 1.1 0 1 0 2.2 0a1.1 1.1 0 1 0 -2.2 0M70.5 8.7a0.9 0.9 0 1 0 1.7 0a0.9 0.9 0 1 0 -1.7 0M27.7 12.3a1.1 1.1 0 1 0 2.3 0a1.1 1.1 0 1 0 -2.3 0M59.0 7.1a1.1 1.1 0 1 0 2.1 0a1.1 1.1 0 1 0 -2.1 0M19.3 20.9a1.1 1.1 0 1 0 2.3 0a1.1 1.1 0 1 0 -2.3 0M7.9 27.4a0.6 0.6 0 1 0 1.3 0a0.6 0.6 0 1 0 -1.3 0M64.8 8.6a1.0 1.0 0 1 0 1.9 0a1.0 1.0 0 1 0 -1.9 0M33.4 8.3a0.8 0.8 0 1 0 1.7 0a0.8 0.8 0 1 0 -1.7 0M27.6 15.5a0.6 0.6 0 1 0 1.1 0a0.6 0.6 0 1 0 -1.1 0M71.3 6.4a0.9 0.9 0 1 0 1.8 0a0.9 0.9 0 1 0 -1.8 0" fill="#151515" opacity="0.4" filter="url(#b04)"/></svg>
<svg x="234.2" y="323.8" width="78.5" height="58.3" viewBox="0 0 78.5 58.3" preserveAspectRatio="none"><defs><linearGradient id="bg02" x1="0" y1="0" x2="1" y2="0"><stop offset="0" stop-color="rgb(30,30,30)"/><stop offset="0.45" stop-color="rgb(55,55,55)"/><stop offset="1" stop-color="rgb(105,105,105)"/></linearGradient></defs><rect width="78.5" height="58.3" fill="rgb(198,198,198)"/><path d="M-2 50 C0.1 48.9 6.6 45.7 10.7 43.2 C14.8 40.7 18.6 37.5 22.5 34.9 C26.4 32.3 30.4 29.8 34.4 27.8 C38.4 25.8 42.3 24.2 46.2 23.0 C50.1 21.8 54.1 21.5 58.0 20.7 C61.9 19.9 66.0 18.8 69.8 18.3 C73.6 17.9 79.1 18.1 81.0 18.0 L84.5 64.3 L-6 64.3 Z" fill="rgb(168,168,168)" filter="url(#b3)"/><ellipse cx="82.5" cy="62.3" rx="11" ry="16" fill="#e4e4e4" filter="url(#b3)" opacity="0.85"/><clipPath id="cl02"><path d="M-2 50 C0.1 48.9 6.6 45.7 10.7 43.2 C14.8 40.7 18.6 37.5 22.5 34.9 C26.4 32.3 30.4 29.8 34.4 27.8 C38.4 25.8 42.3 24.2 46.2 23.0 C50.1 21.8 54.1 21.5 58.0 20.7 C61.9 19.9 66.0 18.8 69.8 18.3 C73.6 17.9 79.1 18.1 81.0 18.0 L84.5 64.3 L-6 64.3 Z"/></clipPath><rect width="78.5" height="58.3" filter="url(#tex2)" opacity="0.18"/><rect width="78.5" height="58.3" filter="url(#tex3)" opacity="0.4" clip-path="url(#cl02)"/><path d="M69.5 18.3 C77.5 26.3 77.5 37.9 66.5 60.3" fill="none" stroke="#444" stroke-width="1.5" opacity="0.3" filter="url(#b04)"/><path d="M-2 29.0 C0.1 28.1 6.6 25.5 10.7 23.7 C14.8 21.9 18.6 19.9 22.5 18.3 C26.4 16.7 30.4 15.4 34.4 14.2 C38.4 13.0 42.3 12.1 46.2 11.2 C50.1 10.3 54.1 9.5 58.0 8.9 C61.9 8.3 66.0 7.9 69.8 7.7 C73.6 7.5 79.1 7.5 81.0 7.5 L81 18.0 C79.1 18.1 73.6 17.9 69.8 18.3 C66.0 18.8 61.9 19.9 58.0 20.7 C54.1 21.5 50.1 21.8 46.2 23.0 C42.3 24.2 38.4 25.8 34.4 27.8 C30.4 29.8 26.4 32.3 22.5 34.9 C18.6 37.5 14.8 40.7 10.7 43.2 C6.6 45.7 0.1 48.9 -2.0 50.0 Z" fill="url(#bg02)" filter="url(#b2)" opacity="0.45"/><path d="M-2 32.6 C0.1 31.6 6.6 28.9 10.7 27.0 C14.8 25.1 18.6 22.9 22.5 21.1 C26.4 19.4 30.4 17.8 34.4 16.5 C38.4 15.2 42.3 14.1 46.2 13.2 C50.1 12.3 54.1 11.5 58.0 10.9 C61.9 10.3 66.0 9.8 69.8 9.5 C73.6 9.2 79.1 9.3 81.0 9.3 L81 16.2 C79.1 16.3 73.6 16.1 69.8 16.5 C66.0 16.9 61.9 17.9 58.0 18.7 C54.1 19.4 50.1 19.9 46.2 21.0 C42.3 22.1 38.4 23.6 34.4 25.5 C30.4 27.3 26.4 29.7 22.5 32.1 C18.6 34.5 14.8 37.5 10.7 39.9 C6.6 42.3 0.1 45.3 -2.0 46.4 Z" fill="url(#bg02)" filter="url(#b15)" opacity="0.9"/><path d="M-2 29.0 C0.1 28.1 6.6 25.5 10.7 23.7 C14.8 21.9 18.6 19.9 22.5 18.3 C26.4 16.7 30.4 15.4 34.4 14.2 C38.4 13.0 42.3 12.1 46.2 11.2 C50.1 10.3 54.1 9.5 58.0 8.9 C61.9 8.3 66.0 7.9 69.8 7.7 C73.6 7.5 79.1 7.5 81.0 7.5 L81 18.0 C79.1 18.1 73.6 17.9 69.8 18.3 C66.0 18.8 61.9 19.9 58.0 20.7 C54.1 21.5 50.1 21.8 46.2 23.0 C42.3 24.2 38.4 25.8 34.4 27.8 C30.4 29.8 26.4 32.3 22.5 34.9 C18.6 37.5 14.8 40.7 10.7 43.2 C6.6 45.7 0.1 48.9 -2.0 50.0 Z" fill="#000" filter="url(#mot2)" opacity="0.45"/><path d="M53.2 50.4Q52.4 57.2 52.9 58.1M22.7 38.3Q23.7 39.0 26.7 42.5M8.5 48.9Q6.0 49.4 7.1 55.0M15.9 49.7Q15.5 51.7 11.4 54.7M7.8 54.6Q10.2 57.8 10.8 63.4M71.8 51.6Q65.5 52.6 62.4 53.0M57.4 50.9Q61.2 49.9 63.5 53.7M55.4 21.5Q53.3 24.9 55.8 28.6M39.3 37.8Q36.9 38.4 29.9 42.0M2.0 51.8Q-0.8 51.5 -0.9 55.6M22.3 44.4Q21.6 50.0 23.4 53.5M3.6 49.4Q-2.0 49.9 -2.7 55.6M39.7 47.1Q38.8 46.6 40.5 51.1M13.4 46.1Q17.6 49.7 20.3 48.7M53.7 24.0Q49.0 27.2 50.2 31.8M51.2 56.5Q50.6 64.4 48.9 66.7M16.5 48.9Q15.8 48.6 13.2 51.8M15.5 49.5Q18.6 51.5 23.9 53.3M20.5 55.8Q16.9 57.5 11.5 57.0M22.4 46.7Q20.0 52.3 22.9 53.7M12.1 49.6Q14.1 53.4 11.7 60.1M36.6 38.8Q37.6 43.7 39.1 44.5M76.2 21.9Q75.3 23.5 75.4 30.6M28.4 39.9Q26.7 41.8 26.5 46.2M21.5 57.8Q16.2 59.1 14.8 58.4M43.5 48.4Q40.5 47.1 36.5 51.3M53.6 44.1Q53.7 44.9 49.8 48.4M11.7 47.1Q9.8 50.8 13.1 55.1M43.0 44.0Q41.5 44.6 37.9 48.0M27.2 56.3Q26.5 59.6 28.1 61.8M62.4 24.6Q62.8 25.2 67.6 25.6M38.4 56.5Q35.2 58.5 37.8 63.7M24.3 39.8Q23.3 44.6 26.7 49.0M12.3 45.1Q17.8 45.9 20.2 47.3M5.1 54.4Q3.4 60.9 -2.3 62.2M21.3 46.7Q25.6 50.6 24.2 55.4M1.7 49.0Q5.9 52.2 8.7 49.4M73.2 57.8Q73.1 61.9 78.1 60.8M2.0 48.6Q-2.0 46.7 -6.5 50.0M2.8 56.3Q8.1 58.7 7.7 63.6" fill="none" stroke="#222" stroke-width="0.6" opacity="0.38" filter="url(#b04)"/><path d="M7.4 24.2Q9.9 22.6 14.9 19.8M35.8 3.5Q43.8 -0.3 47.8 -6.3M12.4 13.7Q16.9 10.3 22.8 9.2M36.0 1.0Q44.5 -1.3 55.1 -4.5M9.8 4.0Q14.0 3.8 21.7 0.1M16.0 3.5Q22.4 2.2 29.5 0.6M77.4 4.0Q82.4 0.9 87.2 -3.2M44.4 2.3Q49.2 2.9 52.5 0.9M65.3 3.5Q71.9 0.9 75.4 1.7M47.6 5.5Q52.0 3.6 55.2 2.2M16.3 18.7Q24.1 16.0 29.7 9.9M27.4 9.5Q32.4 8.5 34.6 3.9M72.8 1.1Q78.8 -1.3 87.1 -6.9M3.0 2.2Q7.4 -1.0 12.6 -5.3M38.0 12.2Q43.7 6.1 48.9 3.7M50.1 1.7Q57.9 -3.1 62.3 -4.8M18.6 6.6Q26.7 4.8 30.9 -0.4M73.8 5.1Q80.6 0.2 89.8 -2.0M10.8 18.1Q16.0 11.1 22.8 7.5M38.8 4.5Q44.4 0.8 50.7 -2.5M60.7 0.6Q69.7 -4.1 76.4 -6.0M19.1 18.0Q26.7 12.0 35.3 7.2M22.4 17.4Q30.2 14.6 34.7 10.7M73.3 5.0Q78.4 0.7 83.5 -3.6M46.6 9.4Q53.5 8.7 57.9 4.4" fill="none" stroke="#333" stroke-width="0.6" opacity="0.2" filter="url(#b04)"/><path d="M63.6 9.1a1.1 1.1 0 1 0 2.2 0a1.1 1.1 0 1 0 -2.2 0M52.0 11.5a0.9 0.9 0 1 0 1.8 0a0.9 0.9 0 1 0 -1.8 0M61.6 15.4a0.7 0.7 0 1 0 1.3 0a0.7 0.7 0 1 0 -1.3 0M37.7 19.4a0.6 0.6 0 1 0 1.2 0a0.6 0.6 0 1 0 -1.2 0M59.1 15.6a0.9 0.9 0 1 0 1.8 0a0.9 0.9 0 1 0 -1.8 0M74.3 8.9a0.7 0.7 0 1 0 1.4 0a0.7 0.7 0 1 0 -1.4 0M75.8 12.0a0.5 0.5 0 1 0 1.0 0a0.5 0.5 0 1 0 -1.0 0M32.9 16.4a1.1 1.1 0 1 0 2.2 0a1.1 1.1 0 1 0 -2.2 0M75.4 7.0a1.0 1.0 0 1 0 1.9 0a1.0 1.0 0 1 0 -1.9 0M66.3 7.2a0.8 0.8 0 1 0 1.6 0a0.8 0.8 0 1 0 -1.6 0M1.7 31.6a0.9 0.9 0 1 0 1.8 0a0.9 0.9 0 1 0 -1.8 0M54.7 10.5a1.0 1.0 0 1 0 1.9 0a1.0 1.0 0 1 0 -1.9 0M42.6 14.2a0.9 0.9 0 1 0 1.7 0a0.9 0.9 0 1 0 -1.7 0M62.1 15.1a0.8 0.8 0 1 0 1.6 0a0.8 0.8 0 1 0 -1.6 0M61.4 11.3a0.8 0.8 0 1 0 1.7 0a0.8 0.8 0 1 0 -1.7 0M17.3 26.5a0.5 0.5 0 1 0 1.1 0a0.5 0.5 0 1 0 -1.1 0M65.7 10.0a0.8 0.8 0 1 0 1.5 0a0.8 0.8 0 1 0 -1.5 0M66.4 13.3a0.8 0.8 0 1 0 1.6 0a0.8 0.8 0 1 0 -1.6 0M66.6 12.3a1.1 1.1 0 1 0 2.2 0a1.1 1.1 0 1 0 -2.2 0M19.5 29.4a1.2 1.2 0 1 0 2.3 0a1.2 1.2 0 1 0 -2.3 0M30.3 23.5a1.2 1.2 0 1 0 2.4 0a1.2 1.2 0 1 0 -2.4 0M45.8 17.8a0.6 0.6 0 1 0 1.2 0a0.6 0.6 0 1 0 -1.2 0M7.9 37.1a1.0 1.0 0 1 0 2.1 0a1.0 1.0 0 1 0 -2.1 0M11.5 34.8a0.6 0.6 0 1 0 1.2 0a0.6 0.6 0 1 0 -1.2 0M66.0 16.0a0.9 0.9 0 1 0 1.7 0a0.9 0.9 0 1 0 -1.7 0M22.3 27.5a1.1 1.1 0 1 0 2.2 0a1.1 1.1 0 1 0 -2.2 0M11.3 29.2a1.0 1.0 0 1 0 1.9 0a1.0 1.0 0 1 0 -1.9 0M58.8 6.9a1.1 1.1 0 1 0 2.1 0a1.1 1.1 0 1 0 -2.1 0" fill="#151515" opacity="0.4" filter="url(#b04)"/></svg>
<svg x="65.0" y="386.0" width="78.5" height="58.3" viewBox="0 0 78.5 58.3" preserveAspectRatio="none"><defs><linearGradient id="bg10" x1="0" y1="0" x2="1" y2="0"><stop offset="0" stop-color="rgb(110,110,110)"/><stop offset="0.45" stop-color="rgb(100,100,100)"/><stop offset="1" stop-color="rgb(110,110,110)"/></linearGradient></defs><rect width="78.5" height="58.3" fill="rgb(212,212,212)"/><path d="M-2 44 C0.1 43.1 6.6 40.8 10.7 38.5 C14.8 36.2 18.6 33.2 22.5 30.5 C26.4 27.8 30.4 24.8 34.4 22.5 C38.4 20.2 42.3 18.2 46.2 16.5 C50.1 14.8 54.1 13.9 58.0 12.5 C61.9 11.1 66.0 9.0 69.8 8.2 C73.6 7.4 79.1 7.6 81.0 7.5 L84.5 64.3 L-6 64.3 Z" fill="rgb(195,195,195)" filter="url(#b3)"/><ellipse cx="82.5" cy="62.3" rx="11" ry="16" fill="#e4e4e4" filter="url(#b3)" opacity="0.85"/><clipPath id="cl10"><path d="M-2 44 C0.1 43.1 6.6 40.8 10.7 38.5 C14.8 36.2 18.6 33.2 22.5 30.5 C26.4 27.8 30.4 24.8 34.4 22.5 C38.4 20.2 42.3 18.2 46.2 16.5 C50.1 14.8 54.1 13.9 58.0 12.5 C61.9 11.1 66.0 9.0 69.8 8.2 C73.6 7.4 79.1 7.6 81.0 7.5 L84.5 64.3 L-6 64.3 Z"/></clipPath><rect width="78.5" height="58.3" filter="url(#tex3)" opacity="0.18"/><rect width="78.5" height="58.3" filter="url(#tex0)" opacity="0.4" clip-path="url(#cl10)"/><path d="M69.5 8.2 C77.5 16.2 77.5 37.9 66.5 60.3" fill="none" stroke="#444" stroke-width="1.5" opacity="0.3" filter="url(#b04)"/><path d="M-2 26.2 C0.1 25.5 6.6 23.4 10.7 22.1 C14.8 20.8 18.6 19.8 22.5 18.5 C26.4 17.2 30.4 15.7 34.4 14.4 C38.4 13.1 42.3 12.0 46.2 10.8 C50.1 9.6 54.1 8.5 58.0 7.3 C61.9 6.1 66.0 4.4 69.8 3.7 C73.6 3.0 79.1 3.1 81.0 3.0 L81 7.5 C79.1 7.6 73.6 7.4 69.8 8.2 C66.0 9.0 61.9 11.1 58.0 12.5 C54.1 13.9 50.1 14.8 46.2 16.5 C42.3 18.2 38.4 20.2 34.4 22.5 C30.4 24.8 26.4 27.8 22.5 30.5 C18.6 33.2 14.8 36.2 10.7 38.5 C6.6 40.8 0.1 43.1 -2.0 44.0 Z" fill="url(#bg10)" filter="url(#b2)" opacity="0.45"/><path d="M-2 29.2 C0.1 28.5 6.6 26.3 10.7 24.9 C14.8 23.4 18.6 22.1 22.5 20.5 C26.4 19.0 30.4 17.2 34.4 15.8 C38.4 14.3 42.3 13.0 46.2 11.8 C50.1 10.5 54.1 9.4 58.0 8.2 C61.9 7.0 66.0 5.2 69.8 4.5 C73.6 3.7 79.1 3.9 81.0 3.8 L81 6.7 C79.1 6.9 73.6 6.6 69.8 7.4 C66.0 8.2 61.9 10.3 58.0 11.6 C54.1 13.0 50.1 13.9 46.2 15.5 C42.3 17.1 38.4 19.0 34.4 21.1 C30.4 23.3 26.4 26.0 22.5 28.5 C18.6 30.9 14.8 33.6 10.7 35.7 C6.6 37.8 0.1 40.1 -2.0 41.0 Z" fill="url(#bg10)" filter="url(#b15)" opacity="0.9"/><path d="M-2 26.2 C0.1 25.5 6.6 23.4 10.7 22.1 C14.8 20.8 18.6 19.8 22.5 18.5 C26.4 17.2 30.4 15.7 34.4 14.4 C38.4 13.1 42.3 12.0 46.2 10.8 C50.1 9.6 54.1 8.5 58.0 7.3 C61.9 6.1 66.0 4.4 69.8 3.7 C73.6 3.0 79.1 3.1 81.0 3.0 L81 7.5 C79.1 7.6 73.6 7.4 69.8 8.2 C66.0 9.0 61.9 11.1 58.0 12.5 C54.1 13.9 50.1 14.8 46.2 16.5 C42.3 18.2 38.4 20.2 34.4 22.5 C30.4 24.8 26.4 27.8 22.5 30.5 C18.6 33.2 14.8 36.2 10.7 38.5 C6.6 40.8 0.1 43.1 -2.0 44.0 Z" fill="#000" filter="url(#mot3)" opacity="0.45"/><path d="M25.8 57.8Q22.4 61.4 15.4 60.5M0.0 52.6Q-2.3 55.1 -3.8 56.9M42.6 41.4Q36.8 43.5 32.8 41.9M69.8 27.8Q71.4 30.4 69.8 32.7M14.5 51.7Q9.6 53.4 8.6 53.9M30.3 57.8Q27.5 57.9 25.6 59.6M16.3 46.4Q13.7 47.0 5.8 46.4M18.5 45.9Q24.0 46.9 23.6 52.8M18.4 38.3Q19.4 38.1 23.5 39.4M73.7 35.4Q73.7 39.5 77.6 42.8M57.2 16.7Q61.7 18.4 63.9 21.9M11.6 40.8Q8.5 47.9 10.4 50.2M21.7 38.7Q23.3 42.7 24.1 41.9M23.5 44.0Q21.0 45.2 20.9 47.8M21.3 53.4Q25.9 53.3 31.1 58.0M58.9 54.0Q56.4 55.8 56.3 58.1M44.9 33.0Q47.1 35.8 49.4 40.3M33.3 28.3Q37.0 28.9 39.4 30.5M32.8 54.7Q33.3 58.1 32.4 59.8M59.7 28.4Q54.5 33.5 54.4 37.4M40.6 55.8Q39.3 60.9 35.9 63.5M35.1 39.9Q39.0 39.7 42.8 40.4M33.6 42.9Q35.5 45.4 36.5 51.0M76.6 41.3Q70.7 42.6 70.6 47.8M29.7 40.0Q30.3 44.9 29.3 46.8M54.4 31.8Q53.0 31.7 46.1 37.4M45.3 24.1Q41.4 23.9 35.5 25.9M68.5 34.1Q69.8 38.6 75.8 39.1M67.4 27.7Q71.2 27.9 70.1 31.4M58.8 26.7Q64.1 31.3 63.9 36.0M0.7 48.9Q1.3 50.9 6.9 52.1M57.0 46.1Q59.4 49.1 62.3 49.5M16.7 55.6Q17.2 60.7 21.9 65.1M12.1 56.1Q15.3 61.7 14.2 64.0M58.3 17.0Q62.0 18.4 61.5 22.8M8.6 47.9Q6.3 48.3 5.6 53.3M52.5 55.4Q48.9 57.9 50.6 64.0M52.2 55.9Q46.2 54.9 44.9 56.5M22.9 49.5Q18.7 53.4 19.8 55.3M56.5 21.4Q57.0 23.8 57.9 26.4" fill="none" stroke="#222" stroke-width="0.6" opacity="0.38" filter="url(#b04)"/><path d="M74.4 0.5Q81.9 -3.7 88.4 -6.2M58.5 5.9Q60.0 4.1 65.5 1.6M57.6 3.0Q67.7 -1.3 76.5 -2.5M19.8 15.7Q23.4 12.7 31.0 7.8M17.3 2.1Q24.3 -2.1 30.6 -2.3M71.9 1.4Q77.6 -4.4 84.6 -7.1M60.2 1.0Q69.3 -3.1 74.5 -3.4M54.3 2.7Q57.7 0.8 61.8 -0.6M9.9 3.3Q12.3 2.8 18.4 -0.9M50.7 8.9Q60.3 7.8 66.9 4.6M56.5 3.5Q66.0 3.2 74.1 -0.7M62.2 1.2Q69.0 -3.8 78.3 -10.2M76.7 2.4Q80.4 0.8 85.2 -2.8M5.2 18.0Q10.9 15.8 13.2 10.8M60.6 5.5Q68.0 3.8 74.5 2.5M58.3 5.6Q65.2 0.2 71.9 -2.5M29.1 11.0Q36.7 8.9 44.4 3.8M41.2 6.7Q47.2 7.3 50.3 4.0M58.7 0.3Q64.4 -4.6 69.0 -7.0M40.6 11.9Q49.0 7.3 54.9 3.4M57.7 1.6Q64.2 -3.7 74.3 -7.1M30.4 3.5Q36.8 0.2 43.1 -5.3M38.8 3.2Q46.9 -0.1 54.1 -2.9M30.3 13.4Q37.7 11.6 41.3 7.4M5.5 19.2Q12.1 16.3 18.6 14.8" fill="none" stroke="#333" stroke-width="0.6" opacity="0.2" filter="url(#b04)"/><path d="M22.7 21.8a1.2 1.2 0 1 0 2.3 0a1.2 1.2 0 1 0 -2.3 0M14.3 21.0a1.1 1.1 0 1 0 2.1 0a1.1 1.1 0 1 0 -2.1 0M35.9 14.9a0.9 0.9 0 1 0 1.8 0a0.9 0.9 0 1 0 -1.8 0M33.4 13.0a0.9 0.9 0 1 0 1.8 0a0.9 0.9 0 1 0 -1.8 0M33.4 18.8a0.7 0.7 0 1 0 1.3 0a0.7 0.7 0 1 0 -1.3 0M8.9 30.0a1.2 1.2 0 1 0 2.4 0a1.2 1.2 0 1 0 -2.4 0M52.7 10.6a1.1 1.1 0 1 0 2.2 0a1.1 1.1 0 1 0 -2.2 0M4.8 35.5a1.2 1.2 0 1 0 2.3 0a1.2 1.2 0 1 0 -2.3 0M16.7 19.3a1.1 1.1 0 1 0 2.2 0a1.1 1.1 0 1 0 -2.2 0M71.1 4.8a0.8 0.8 0 1 0 1.5 0a0.8 0.8 0 1 0 -1.5 0M72.2 6.3a0.6 0.6 0 1 0 1.1 0a0.6 0.6 0 1 0 -1.1 0M15.3 29.2a0.7 0.7 0 1 0 1.4 0a0.7 0.7 0 1 0 -1.4 0M73.9 4.0a1.1 1.1 0 1 0 2.2 0a1.1 1.1 0 1 0 -2.2 0M9.2 20.9a0.8 0.8 0 1 0 1.6 0a0.8 0.8 0 1 0 -1.6 0M67.9 6.0a0.5 0.5 0 1 0 1.1 0a0.5 0.5 0 1 0 -1.1 0M71.5 6.7a0.6 0.6 0 1 0 1.2 0a0.6 0.6 0 1 0 -1.2 0M52.1 12.9a0.7 0.7 0 1 0 1.3 0a0.7 0.7 0 1 0 -1.3 0M55.7 8.0a0.5 0.5 0 1 0 1.0 0a0.5 0.5 0 1 0 -1.0 0M14.5 27.8a0.6 0.6 0 1 0 1.3 0a0.6 0.6 0 1 0 -1.3 0M57.6 7.5a0.6 0.6 0 1 0 1.2 0a0.6 0.6 0 1 0 -1.2 0M50.4 11.5a0.7 0.7 0 1 0 1.5 0a0.7 0.7 0 1 0 -1.5 0M77.7 5.1a0.7 0.7 0 1 0 1.4 0a0.7 0.7 0 1 0 -1.4 0M32.2 18.6a0.7 0.7 0 1 0 1.3 0a0.7 0.7 0 1 0 -1.3 0M76.3 4.5a0.8 0.8 0 1 0 1.5 0a0.8 0.8 0 1 0 -1.5 0M73.0 2.9a1.1 1.1 0 1 0 2.1 0a1.1 1.1 0 1 0 -2.1 0M51.6 9.6a0.7 0.7 0 1 0 1.5 0a0.7 0.7 0 1 0 -1.5 0M63.4 7.9a0.9 0.9 0 1 0 1.8 0a0.9 0.9 0 1 0 -1.8 0M61.4 8.5a1.0 1.0 0 1 0 2.0 0a1.0 1.0 0 1 0 -2.0 0" fill="#151515" opacity="0.4" filter="url(#b04)"/></svg>
<svg x="149.3" y="386.0" width="78.5" height="58.3" viewBox="0 0 78.5 58.3" preserveAspectRatio="none"><defs><linearGradient id="bg11" x1="0" y1="0" x2="1" y2="0"><stop offset="0" stop-color="rgb(45,45,45)"/><stop offset="0.45" stop-color="rgb(70,70,70)"/><stop offset="1" stop-color="rgb(125,125,125)"/></linearGradient></defs><rect width="78.5" height="58.3" fill="rgb(200,200,200)"/><path d="M-2 46.3 C0.1 44.7 6.6 39.3 10.7 36.8 C14.8 34.2 18.6 33.1 22.5 31.0 C26.4 28.9 30.4 26.0 34.4 24.4 C38.4 22.8 42.3 22.4 46.2 21.5 C50.1 20.6 54.1 19.9 58.0 19.1 C61.9 18.3 66.0 17.2 69.8 16.7 C73.6 16.2 79.1 16.1 81.0 16.0 L84.5 64.3 L-6 64.3 Z" fill="rgb(184,184,184)" filter="url(#b3)"/><ellipse cx="82.5" cy="62.3" rx="11" ry="16" fill="#e4e4e4" filter="url(#b3)" opacity="0.85"/><clipPath id="cl11"><path d="M-2 46.3 C0.1 44.7 6.6 39.3 10.7 36.8 C14.8 34.2 18.6 33.1 22.5 31.0 C26.4 28.9 30.4 26.0 34.4 24.4 C38.4 22.8 42.3 22.4 46.2 21.5 C50.1 20.6 54.1 19.9 58.0 19.1 C61.9 18.3 66.0 17.2 69.8 16.7 C73.6 16.2 79.1 16.1 81.0 16.0 L84.5 64.3 L-6 64.3 Z"/></clipPath><rect width="78.5" height="58.3" filter="url(#tex0)" opacity="0.18"/><rect width="78.5" height="58.3" filter="url(#tex1)" opacity="0.4" clip-path="url(#cl11)"/><path d="M69.5 16.7 C77.5 24.7 77.5 37.9 66.5 60.3" fill="none" stroke="#444" stroke-width="1.5" opacity="0.3" filter="url(#b04)"/><path d="M-2 19.0 C0.1 18.6 6.6 17.6 10.7 16.7 C14.8 15.8 18.6 14.5 22.5 13.8 C26.4 13.1 30.4 12.9 34.4 12.6 C38.4 12.3 42.3 12.2 46.2 12.0 C50.1 11.8 54.1 11.8 58.0 11.4 C61.9 11.0 66.0 10.0 69.8 9.6 C73.6 9.2 79.1 9.1 81.0 9.0 L81 16.0 C79.1 16.1 73.6 16.2 69.8 16.7 C66.0 17.2 61.9 18.3 58.0 19.1 C54.1 19.9 50.1 20.6 46.2 21.5 C42.3 22.4 38.4 22.8 34.4 24.4 C30.4 26.0 26.4 28.9 22.5 31.0 C18.6 33.1 14.8 34.2 10.7 36.8 C6.6 39.3 0.1 44.7 -2.0 46.3 Z" fill="url(#bg11)" filter="url(#b2)" opacity="0.45"/><path d="M-2 23.6 C0.1 23.1 6.6 21.3 10.7 20.1 C14.8 19.0 18.6 17.6 22.5 16.7 C26.4 15.8 30.4 15.1 34.4 14.6 C38.4 14.1 42.3 13.9 46.2 13.6 C50.1 13.3 54.1 13.2 58.0 12.7 C61.9 12.2 66.0 11.2 69.8 10.8 C73.6 10.4 79.1 10.3 81.0 10.2 L81 14.8 C79.1 14.9 73.6 15.0 69.8 15.5 C66.0 16.0 61.9 17.1 58.0 17.8 C54.1 18.5 50.1 19.1 46.2 19.9 C42.3 20.7 38.4 21.0 34.4 22.4 C30.4 23.8 26.4 26.2 22.5 28.1 C18.6 29.9 14.8 31.1 10.7 33.4 C6.6 35.6 0.1 40.3 -2.0 41.7 Z" fill="url(#bg11)" filter="url(#b15)" opacity="0.9"/><path d="M-2 19.0 C0.1 18.6 6.6 17.6 10.7 16.7 C14.8 15.8 18.6 14.5 22.5 13.8 C26.4 13.1 30.4 12.9 34.4 12.6 C38.4 12.3 42.3 12.2 46.2 12.0 C50.1 11.8 54.1 11.8 58.0 11.4 C61.9 11.0 66.0 10.0 69.8 9.6 C73.6 9.2 79.1 9.1 81.0 9.0 L81 16.0 C79.1 16.1 73.6 16.2 69.8 16.7 C66.0 17.2 61.9 18.3 58.0 19.1 C54.1 19.9 50.1 20.6 46.2 21.5 C42.3 22.4 38.4 22.8 34.4 24.4 C30.4 26.0 26.4 28.9 22.5 31.0 C18.6 33.1 14.8 34.2 10.7 36.8 C6.6 39.3 0.1 44.7 -2.0 46.3 Z" fill="#000" filter="url(#mot0)" opacity="0.45"/><path d="M3.0 53.5Q4.4 57.8 3.6 58.5M35.6 41.1Q35.2 45.3 36.4 45.2M42.9 49.5Q48.0 53.3 48.9 53.2M29.5 30.1Q31.2 34.5 29.6 37.7M39.8 43.3Q40.4 46.5 46.3 44.4M65.9 29.6Q63.1 36.8 65.2 39.8M45.9 55.8Q50.8 58.8 54.2 58.4M70.6 30.4Q66.3 35.6 66.0 36.7M61.3 20.4Q61.1 24.8 64.6 27.9M76.1 39.5Q77.8 44.6 76.2 44.3M56.1 21.1Q52.0 24.0 52.8 31.3M6.8 52.1Q2.3 53.7 2.6 55.0M34.8 25.6Q35.7 23.9 30.9 26.8M57.7 57.9Q51.9 61.0 48.0 61.5M39.1 56.1Q37.3 57.5 31.2 60.3M55.9 23.1Q52.7 24.8 50.6 24.2M45.2 31.3Q40.3 31.4 37.4 33.5M14.6 39.1Q14.4 44.0 8.7 46.9M75.3 25.7Q76.6 30.3 79.4 29.0M17.7 44.8Q20.1 45.7 22.1 45.2M40.1 55.3Q35.6 54.6 30.2 56.8M10.2 53.3Q13.9 51.1 15.3 53.4M48.9 28.5Q51.6 27.6 55.8 28.8M20.5 35.5Q16.4 36.1 15.9 42.1M21.1 50.3Q17.2 54.2 18.4 55.6M11.2 41.4Q12.4 44.7 11.9 50.5M52.5 31.6Q55.6 36.7 53.8 38.9M43.1 52.7Q40.5 56.3 37.7 59.0M16.8 56.6Q13.8 56.0 9.6 61.2M8.5 56.0Q6.6 55.7 -0.0 58.6M77.3 41.9Q75.6 46.4 76.9 51.0M36.3 34.2Q35.4 35.1 37.4 40.4M63.1 32.5Q61.8 34.2 58.0 36.6M24.3 52.5Q23.9 58.3 25.0 58.1M18.8 47.9Q20.7 50.8 26.4 49.1M61.9 26.8Q59.9 28.6 56.8 27.9M71.2 27.5Q65.7 27.0 64.0 29.5M69.2 51.7Q74.7 52.1 76.2 54.8M59.5 28.9Q57.4 30.2 56.6 33.0M34.5 40.0Q30.5 44.3 31.2 46.5" fill="none" stroke="#222" stroke-width="0.6" opacity="0.38" filter="url(#b04)"/><path d="M35.6 10.3Q39.8 9.1 46.4 6.3M51.8 6.4Q58.0 3.5 65.4 3.9M22.6 0.6Q30.4 -1.2 40.8 -4.0M12.1 14.0Q17.6 8.1 21.9 5.5M69.7 8.9Q77.1 2.7 82.3 0.2M4.3 5.4Q9.3 5.7 12.9 3.4M49.9 2.7Q56.3 1.0 60.4 -1.6M21.8 11.2Q29.2 9.5 33.9 6.5M33.4 7.5Q39.3 5.0 42.6 2.6M-3.6 15.5Q0.4 13.3 3.7 8.9M4.4 7.9Q10.2 2.7 14.9 -0.6M52.7 5.9Q59.6 -0.2 64.4 -2.3M21.1 1.4Q24.6 -3.3 27.8 -4.7M4.5 7.7Q11.7 3.2 17.6 -1.8M72.2 7.7Q82.3 1.9 89.3 -2.5M18.6 6.3Q20.9 5.4 26.5 3.7M-0.1 8.0Q4.5 6.4 10.8 6.0M20.6 1.8Q26.3 -3.2 33.9 -6.7M24.5 10.8Q27.9 7.8 32.7 4.2M18.6 1.6Q26.2 0.3 30.7 -0.5M31.2 2.2Q37.8 0.2 46.4 -2.8M3.5 5.7Q9.5 4.2 14.6 2.6M31.5 7.1Q38.6 4.4 42.9 -0.6M27.3 5.4Q35.4 -2.4 41.4 -7.5M10.9 5.8Q17.5 1.8 24.0 -2.4" fill="none" stroke="#333" stroke-width="0.6" opacity="0.2" filter="url(#b04)"/><path d="M71.5 11.9a0.7 0.7 0 1 0 1.4 0a0.7 0.7 0 1 0 -1.4 0M49.0 14.9a0.7 0.7 0 1 0 1.4 0a0.7 0.7 0 1 0 -1.4 0M55.7 9.5a1.2 1.2 0 1 0 2.4 0a1.2 1.2 0 1 0 -2.4 0M67.6 8.3a1.0 1.0 0 1 0 2.0 0a1.0 1.0 0 1 0 -2.0 0M9.4 32.9a0.8 0.8 0 1 0 1.6 0a0.8 0.8 0 1 0 -1.6 0M57.6 11.4a1.0 1.0 0 1 0 1.9 0a1.0 1.0 0 1 0 -1.9 0M1.6 33.7a0.7 0.7 0 1 0 1.4 0a0.7 0.7 0 1 0 -1.4 0M12.7 21.7a0.9 0.9 0 1 0 1.7 0a0.9 0.9 0 1 0 -1.7 0M2.8 19.5a0.8 0.8 0 1 0 1.5 0a0.8 0.8 0 1 0 -1.5 0M42.1 17.3a0.6 0.6 0 1 0 1.2 0a0.6 0.6 0 1 0 -1.2 0M63.4 11.2a1.2 1.2 0 1 0 2.4 0a1.2 1.2 0 1 0 -2.4 0M28.4 17.1a0.8 0.8 0 1 0 1.5 0a0.8 0.8 0 1 0 -1.5 0M5.4 34.1a0.9 0.9 0 1 0 1.8 0a0.9 0.9 0 1 0 -1.8 0M58.6 10.4a0.8 0.8 0 1 0 1.7 0a0.8 0.8 0 1 0 -1.7 0M21.6 16.1a0.8 0.8 0 1 0 1.6 0a0.8 0.8 0 1 0 -1.6 0M48.2 14.1a1.0 1.0 0 1 0 2.0 0a1.0 1.0 0 1 0 -2.0 0M76.5 11.7a1.1 1.1 0 1 0 2.1 0a1.1 1.1 0 1 0 -2.1 0M74.0 14.8a0.7 0.7 0 1 0 1.5 0a0.7 0.7 0 1 0 -1.5 0M65.2 13.7a0.5 0.5 0 1 0 1.0 0a0.5 0.5 0 1 0 -1.0 0M63.2 15.5a1.1 1.1 0 1 0 2.3 0a1.1 1.1 0 1 0 -2.3 0M25.4 21.8a1.1 1.1 0 1 0 2.2 0a1.1 1.1 0 1 0 -2.2 0M34.1 17.8a0.8 0.8 0 1 0 1.5 0a0.8 0.8 0 1 0 -1.5 0M71.6 11.5a0.7 0.7 0 1 0 1.3 0a0.7 0.7 0 1 0 -1.3 0M32.9 17.6a0.8 0.8 0 1 0 1.5 0a0.8 0.8 0 1 0 -1.5 0M25.1 20.6a0.7 0.7 0 1 0 1.4 0a0.7 0.7 0 1 0 -1.4 0M37.6 11.3a0.7 0.7 0 1 0 1.4 0a0.7 0.7 0 1 0 -1.4 0M8.2 24.1a0.7 0.7 0 1 0 1.5 0a0.7 0.7 0 1 0 -1.5 0M28.4 11.5a1.2 1.2 0 1 0 2.4 0a1.2 1.2 0 1 0 -2.4 0" fill="#151515" opacity="0.4" filter="url(#b04)"/></svg>
<svg x="234.2" y="386.0" width="78.5" height="58.3" viewBox="0 0 78.5 58.3" preserveAspectRatio="none"><defs><linearGradient id="bg12" x1="0" y1="0" x2="1" y2="0"><stop offset="0" stop-color="rgb(130,130,130)"/><stop offset="0.45" stop-color="rgb(165,165,165)"/><stop offset="1" stop-color="rgb(130,130,130)"/></linearGradient></defs><rect width="78.5" height="58.3" fill="rgb(214,214,214)"/><path d="M-2 42 C0.1 40.5 6.6 35.8 10.7 33.0 C14.8 30.2 18.6 27.2 22.5 25.0 C26.4 22.8 30.4 21.6 34.4 20.0 C38.4 18.4 42.3 16.8 46.2 15.5 C50.1 14.2 54.1 13.1 58.0 12.0 C61.9 10.9 66.0 9.6 69.8 9.0 C73.6 8.4 79.1 8.6 81.0 8.5 L84.5 64.3 L-6 64.3 Z" fill="rgb(194,194,194)" filter="url(#b3)"/><ellipse cx="82.5" cy="62.3" rx="11" ry="16" fill="#e4e4e4" filter="url(#b3)" opacity="0.85"/><clipPath id="cl12"><path d="M-2 42 C0.1 40.5 6.6 35.8 10.7 33.0 C14.8 30.2 18.6 27.2 22.5 25.0 C26.4 22.8 30.4 21.6 34.4 20.0 C38.4 18.4 42.3 16.8 46.2 15.5 C50.1 14.2 54.1 13.1 58.0 12.0 C61.9 10.9 66.0 9.6 69.8 9.0 C73.6 8.4 79.1 8.6 81.0 8.5 L84.5 64.3 L-6 64.3 Z"/></clipPath><rect width="78.5" height="58.3" filter="url(#tex1)" opacity="0.18"/><rect width="78.5" height="58.3" filter="url(#tex2)" opacity="0.4" clip-path="url(#cl12)"/><path d="M69.5 9.0 C77.5 17.0 77.5 37.9 66.5 60.3" fill="none" stroke="#444" stroke-width="1.5" opacity="0.3" filter="url(#b04)"/><path d="M-2 24.0 C0.1 23.7 6.6 22.9 10.7 22.0 C14.8 21.1 18.6 19.6 22.5 18.5 C26.4 17.4 30.4 16.7 34.4 15.5 C38.4 14.3 42.3 12.7 46.2 11.5 C50.1 10.3 54.1 9.5 58.0 8.5 C61.9 7.5 66.0 6.1 69.8 5.5 C73.6 4.9 79.1 5.1 81.0 5.0 L81 8.5 C79.1 8.6 73.6 8.4 69.8 9.0 C66.0 9.6 61.9 10.9 58.0 12.0 C54.1 13.1 50.1 14.2 46.2 15.5 C42.3 16.8 38.4 18.4 34.4 20.0 C30.4 21.6 26.4 22.8 22.5 25.0 C18.6 27.2 14.8 30.2 10.7 33.0 C6.6 35.8 0.1 40.5 -2.0 42.0 Z" fill="url(#bg12)" filter="url(#b2)" opacity="0.45"/><path d="M-2 27.1 C0.1 26.5 6.6 25.1 10.7 23.9 C14.8 22.6 18.6 20.9 22.5 19.6 C26.4 18.3 30.4 17.5 34.4 16.3 C38.4 15.0 42.3 13.4 46.2 12.2 C50.1 11.0 54.1 10.1 58.0 9.1 C61.9 8.1 66.0 6.7 69.8 6.1 C73.6 5.5 79.1 5.7 81.0 5.6 L81 7.9 C79.1 8.0 73.6 7.8 69.8 8.4 C66.0 9.0 61.9 10.3 58.0 11.4 C54.1 12.5 50.1 13.5 46.2 14.8 C42.3 16.1 38.4 17.7 34.4 19.2 C30.4 20.7 26.4 21.9 22.5 23.9 C18.6 25.9 14.8 28.6 10.7 31.1 C6.6 33.6 0.1 37.6 -2.0 38.9 Z" fill="url(#bg12)" filter="url(#b15)" opacity="0.9"/><path d="M-2 24.0 C0.1 23.7 6.6 22.9 10.7 22.0 C14.8 21.1 18.6 19.6 22.5 18.5 C26.4 17.4 30.4 16.7 34.4 15.5 C38.4 14.3 42.3 12.7 46.2 11.5 C50.1 10.3 54.1 9.5 58.0 8.5 C61.9 7.5 66.0 6.1 69.8 5.5 C73.6 4.9 79.1 5.1 81.0 5.0 L81 8.5 C79.1 8.6 73.6 8.4 69.8 9.0 C66.0 9.6 61.9 10.9 58.0 12.0 C54.1 13.1 50.1 14.2 46.2 15.5 C42.3 16.8 38.4 18.4 34.4 20.0 C30.4 21.6 26.4 22.8 22.5 25.0 C18.6 27.2 14.8 30.2 10.7 33.0 C6.6 35.8 0.1 40.5 -2.0 42.0 Z" fill="#000" filter="url(#mot1)" opacity="0.45"/><path d="M39.1 28.9Q42.0 34.6 45.2 34.7M6.7 43.0Q8.8 46.1 15.1 45.3M76.9 24.5Q73.2 25.4 71.6 25.0M47.7 42.5Q43.7 45.1 37.4 43.7M62.3 41.4Q63.6 46.3 67.6 46.0M55.0 17.7Q59.5 21.4 61.8 25.5M21.2 32.7Q23.0 37.7 23.4 40.4M64.3 51.3Q60.1 54.0 56.0 52.1M64.0 49.6Q63.5 49.5 62.9 54.3M28.9 40.9Q31.4 40.4 32.9 41.0M76.8 50.9Q71.2 55.1 68.8 56.6M7.7 38.3Q7.3 40.7 12.4 42.9M75.8 12.6Q73.2 13.1 70.3 13.9M32.8 51.6Q33.1 56.7 35.0 58.5M1.5 47.8Q4.6 47.0 10.0 48.1M50.6 37.1Q52.4 42.7 55.0 43.2M8.8 36.4Q9.2 35.7 13.9 37.2M57.9 56.4Q56.4 60.8 57.9 60.5M78.2 43.3Q77.8 45.6 78.3 47.5M17.6 29.2Q13.0 30.6 10.5 33.4M3.5 48.9Q1.5 51.4 4.1 58.6M66.7 44.3Q64.3 47.6 66.5 50.1M2.2 44.8Q1.4 49.5 3.0 52.2M19.5 51.5Q21.1 54.8 17.2 61.1M76.7 11.1Q77.7 12.0 83.3 15.5M29.8 22.0Q28.7 23.7 24.0 23.4M75.7 32.8Q71.4 34.3 66.9 35.9M12.3 56.6Q13.3 60.2 17.5 60.3M22.7 47.4Q20.4 50.9 14.4 49.0M17.0 29.9Q16.2 29.0 20.4 32.3M55.3 32.8Q53.5 34.9 55.3 38.6M30.5 23.8Q24.6 26.3 20.4 27.3M1.9 46.4Q0.6 50.3 3.8 54.4M19.3 46.7Q20.8 52.8 18.0 55.4M9.5 57.8Q8.9 63.9 8.6 66.4M23.5 47.1Q23.5 50.6 22.2 53.7M46.5 17.0Q46.5 18.9 48.5 22.2M24.4 34.7Q25.3 38.8 30.9 38.1M51.7 49.6Q48.3 50.5 45.8 51.7M1.7 43.3Q-2.5 48.1 -4.5 49.0" fill="none" stroke="#222" stroke-width="0.6" opacity="0.38" filter="url(#b04)"/><path d="M49.7 0.3Q55.2 -2.5 60.5 -1.3M51.0 3.8Q55.2 3.6 60.1 2.1M23.0 16.4Q28.7 14.2 36.1 8.5M48.7 10.6Q54.0 10.1 57.7 5.8M59.0 3.8Q67.3 0.5 77.1 -1.7M43.4 12.4Q51.0 7.0 57.2 4.8M40.0 8.4Q46.5 7.3 56.6 5.0M35.1 4.2Q39.7 1.9 46.7 -3.6M46.1 1.0Q50.2 -3.5 55.3 -6.9M-0.3 1.7Q5.4 2.3 12.8 -0.4M4.7 18.7Q7.8 18.8 13.7 15.5M71.6 1.2Q79.2 -0.5 90.4 -5.2M30.7 7.0Q37.8 4.0 41.6 -0.7M58.3 6.9Q64.6 4.6 68.9 3.3M49.6 6.3Q57.5 2.7 66.3 -1.8M59.3 5.5Q66.9 3.7 71.0 0.6M56.6 1.6Q61.9 -1.1 69.0 -4.2M2.8 3.3Q10.4 0.8 14.9 0.0M70.2 5.1Q74.8 0.5 81.4 -1.2M60.8 2.7Q66.5 0.3 70.3 -0.1M56.2 7.7Q62.5 7.0 70.2 3.9M61.0 6.4Q68.7 3.9 73.3 -1.3M25.6 13.2Q33.3 11.8 39.4 8.7M31.2 15.9Q37.5 12.2 45.5 9.2M77.4 2.0Q81.7 -3.7 87.3 -6.0" fill="none" stroke="#333" stroke-width="0.6" opacity="0.2" filter="url(#b04)"/><path d="M21.4 19.7a0.9 0.9 0 1 0 1.8 0a0.9 0.9 0 1 0 -1.8 0M7.0 26.3a1.2 1.2 0 1 0 2.4 0a1.2 1.2 0 1 0 -2.4 0M54.3 11.6a1.0 1.0 0 1 0 2.0 0a1.0 1.0 0 1 0 -2.0 0M12.8 23.7a0.6 0.6 0 1 0 1.3 0a0.6 0.6 0 1 0 -1.3 0M46.9 9.4a0.9 0.9 0 1 0 1.8 0a0.9 0.9 0 1 0 -1.8 0M60.3 7.4a1.0 1.0 0 1 0 2.0 0a1.0 1.0 0 1 0 -2.0 0M10.1 25.7a1.0 1.0 0 1 0 2.1 0a1.0 1.0 0 1 0 -2.1 0M74.7 7.1a0.8 0.8 0 1 0 1.7 0a0.8 0.8 0 1 0 -1.7 0M34.1 15.9a0.8 0.8 0 1 0 1.6 0a0.8 0.8 0 1 0 -1.6 0M25.7 18.7a0.6 0.6 0 1 0 1.2 0a0.6 0.6 0 1 0 -1.2 0M4.1 24.1a0.6 0.6 0 1 0 1.1 0a0.6 0.6 0 1 0 -1.1 0M5.7 29.6a0.6 0.6 0 1 0 1.3 0a0.6 0.6 0 1 0 -1.3 0M41.7 13.5a0.6 0.6 0 1 0 1.2 0a0.6 0.6 0 1 0 -1.2 0M41.7 12.8a0.8 0.8 0 1 0 1.6 0a0.8 0.8 0 1 0 -1.6 0M56.3 8.6a1.1 1.1 0 1 0 2.2 0a1.1 1.1 0 1 0 -2.2 0M73.0 4.2a0.6 0.6 0 1 0 1.2 0a0.6 0.6 0 1 0 -1.2 0M29.6 18.5a1.0 1.0 0 1 0 2.0 0a1.0 1.0 0 1 0 -2.0 0M23.2 21.6a0.7 0.7 0 1 0 1.4 0a0.7 0.7 0 1 0 -1.4 0M73.6 4.6a0.7 0.7 0 1 0 1.5 0a0.7 0.7 0 1 0 -1.5 0M35.3 15.6a0.7 0.7 0 1 0 1.4 0a0.7 0.7 0 1 0 -1.4 0M38.6 14.3a0.5 0.5 0 1 0 1.1 0a0.5 0.5 0 1 0 -1.1 0M64.4 5.9a0.9 0.9 0 1 0 1.8 0a0.9 0.9 0 1 0 -1.8 0M26.0 16.9a0.8 0.8 0 1 0 1.6 0a0.8 0.8 0 1 0 -1.6 0M23.1 20.3a1.0 1.0 0 1 0 2.1 0a1.0 1.0 0 1 0 -2.1 0M44.6 12.4a0.8 0.8 0 1 0 1.5 0a0.8 0.8 0 1 0 -1.5 0M49.3 8.6a0.5 0.5 0 1 0 1.0 0a0.5 0.5 0 1 0 -1.0 0M8.1 22.2a1.0 1.0 0 1 0 2.1 0a1.0 1.0 0 1 0 -2.1 0M64.5 7.5a0.6 0.6 0 1 0 1.1 0a0.6 0.6 0 1 0 -1.1 0" fill="#151515" opacity="0.4" filter="url(#b04)"/></svg>
<svg x="65.0" y="450.0" width="78.5" height="58.3" viewBox="0 0 78.5 58.3" preserveAspectRatio="none"><defs><linearGradient id="bg20" x1="0" y1="0" x2="1" y2="0"><stop offset="0" stop-color="rgb(60,60,60)"/><stop offset="0.45" stop-color="rgb(50,50,50)"/><stop offset="1" stop-color="rgb(65,65,65)"/></linearGradient></defs><rect width="78.5" height="58.3" fill="rgb(208,208,208)"/><path d="M-2 46.3 C0.1 45.3 6.6 42.0 10.7 40.4 C14.8 38.8 18.6 38.8 22.5 36.8 C26.4 34.8 30.4 31.2 34.4 28.6 C38.4 26.1 42.3 23.5 46.2 21.5 C50.1 19.5 54.1 18.1 58.0 16.7 C61.9 15.3 66.0 13.8 69.8 13.2 C73.6 12.6 79.1 13.0 81.0 13.0 L84.5 64.3 L-6 64.3 Z" fill="rgb(160,160,160)" filter="url(#b3)"/><ellipse cx="82.5" cy="62.3" rx="11" ry="16" fill="#e4e4e4" filter="url(#b3)" opacity="0.85"/><clipPath id="cl20"><path d="M-2 46.3 C0.1 45.3 6.6 42.0 10.7 40.4 C14.8 38.8 18.6 38.8 22.5 36.8 C26.4 34.8 30.4 31.2 34.4 28.6 C38.4 26.1 42.3 23.5 46.2 21.5 C50.1 19.5 54.1 18.1 58.0 16.7 C61.9 15.3 66.0 13.8 69.8 13.2 C73.6 12.6 79.1 13.0 81.0 13.0 L84.5 64.3 L-6 64.3 Z"/></clipPath><rect width="78.5" height="58.3" filter="url(#tex2)" opacity="0.18"/><rect width="78.5" height="58.3" filter="url(#tex3)" opacity="0.4" clip-path="url(#cl20)"/><path d="M69.5 13.2 C77.5 21.2 77.5 37.9 66.5 60.3" fill="none" stroke="#444" stroke-width="1.5" opacity="0.3" filter="url(#b04)"/><path d="M-2 19.0 C0.1 18.8 6.6 18.3 10.7 17.9 C14.8 17.5 18.6 17.3 22.5 16.7 C26.4 16.1 30.4 15.6 34.4 14.4 C38.4 13.2 42.3 10.9 46.2 9.6 C50.1 8.3 54.1 7.3 58.0 6.7 C61.9 6.1 66.0 6.2 69.8 6.1 C73.6 6.0 79.1 6.0 81.0 6.0 L81 13.0 C79.1 13.0 73.6 12.6 69.8 13.2 C66.0 13.8 61.9 15.3 58.0 16.7 C54.1 18.1 50.1 19.5 46.2 21.5 C42.3 23.5 38.4 26.1 34.4 28.6 C30.4 31.2 26.4 34.8 22.5 36.8 C18.6 38.8 14.8 38.8 10.7 40.4 C6.6 42.0 0.1 45.3 -2.0 46.3 Z" fill="url(#bg20)" filter="url(#b2)" opacity="0.45"/><path d="M-2 23.6 C0.1 23.3 6.6 22.3 10.7 21.7 C14.8 21.1 18.6 20.9 22.5 20.1 C26.4 19.3 30.4 18.2 34.4 16.8 C38.4 15.4 42.3 13.0 46.2 11.6 C50.1 10.2 54.1 9.1 58.0 8.4 C61.9 7.7 66.0 7.5 69.8 7.3 C73.6 7.1 79.1 7.2 81.0 7.2 L81 11.8 C79.1 11.8 73.6 11.5 69.8 12.0 C66.0 12.5 61.9 13.8 58.0 15.0 C54.1 16.2 50.1 17.6 46.2 19.5 C42.3 21.3 38.4 23.9 34.4 26.2 C30.4 28.5 26.4 31.7 22.5 33.4 C18.6 35.1 14.8 35.2 10.7 36.6 C6.6 38.0 0.1 40.8 -2.0 41.7 Z" fill="url(#bg20)" filter="url(#b15)" opacity="0.9"/><path d="M-2 19.0 C0.1 18.8 6.6 18.3 10.7 17.9 C14.8 17.5 18.6 17.3 22.5 16.7 C26.4 16.1 30.4 15.6 34.4 14.4 C38.4 13.2 42.3 10.9 46.2 9.6 C50.1 8.3 54.1 7.3 58.0 6.7 C61.9 6.1 66.0 6.2 69.8 6.1 C73.6 6.0 79.1 6.0 81.0 6.0 L81 13.0 C79.1 13.0 73.6 12.6 69.8 13.2 C66.0 13.8 61.9 15.3 58.0 16.7 C54.1 18.1 50.1 19.5 46.2 21.5 C42.3 23.5 38.4 26.1 34.4 28.6 C30.4 31.2 26.4 34.8 22.5 36.8 C18.6 38.8 14.8 38.8 10.7 40.4 C6.6 42.0 0.1 45.3 -2.0 46.3 Z" fill="#000" filter="url(#mot2)" opacity="0.45"/><path d="M5.9 54.6Q10.0 59.4 8.7 65.1M48.8 55.3Q49.5 52.8 54.2 55.9M34.5 32.2Q35.2 36.4 37.1 36.0M1.0 53.6Q-4.5 55.4 -5.9 61.3M29.1 32.4Q27.0 37.0 21.2 39.7M77.5 30.7Q78.0 34.4 79.3 34.5M0.2 56.4Q4.1 58.9 6.6 56.9M47.7 48.4Q46.0 54.0 50.0 55.1M45.1 27.0Q46.0 32.3 44.5 32.3M33.5 45.1Q40.6 45.3 42.2 46.9M77.4 52.7Q81.5 54.7 86.3 56.9M24.7 46.4Q25.1 50.4 23.0 52.3M63.3 49.4Q63.5 49.7 60.4 55.2M52.9 37.0Q56.0 40.0 55.9 40.9M42.2 54.9Q47.2 55.2 50.4 55.4M61.7 42.2Q67.5 41.4 70.9 43.9M11.9 53.9Q6.2 57.2 2.3 55.1M51.9 46.0Q45.1 49.1 43.4 50.8M47.0 45.5Q42.0 47.9 40.6 46.3M15.7 40.8Q10.6 40.3 11.2 42.3M58.4 29.4Q53.5 33.2 49.2 34.7M65.3 44.5Q68.7 47.3 71.3 53.2M2.3 54.6Q5.7 56.1 8.5 54.9M5.6 47.6Q1.6 54.1 2.9 57.5M19.3 46.0Q11.3 43.7 8.5 46.7M53.8 34.7Q57.8 35.3 56.6 39.4M48.9 40.3Q50.1 41.0 49.7 46.6M48.8 21.8Q49.6 22.2 52.3 23.7M42.3 28.8Q44.1 33.9 41.5 38.4M18.1 57.5Q20.5 61.3 21.8 64.6M56.0 23.6Q55.0 26.1 54.3 33.8M16.1 53.8Q15.9 56.5 14.3 60.7M0.6 45.3Q1.4 51.6 -1.9 55.0M50.9 32.9Q50.7 36.9 49.9 41.9M54.5 54.1Q46.8 55.4 44.3 56.2M28.8 37.9Q30.0 39.6 36.7 38.7M64.7 39.4Q58.0 39.1 55.6 41.7M40.8 34.3Q39.3 41.5 40.6 43.6M23.2 49.6Q16.9 50.6 15.1 53.6M76.0 36.2Q76.4 39.6 76.0 42.3" fill="none" stroke="#222" stroke-width="0.6" opacity="0.38" filter="url(#b04)"/><path d="M12.2 8.8Q17.4 6.0 20.4 6.0M13.3 13.7Q20.5 8.2 26.6 3.6M-1.7 13.9Q1.3 12.4 6.8 9.3M28.7 14.7Q33.0 11.2 35.8 11.1M48.7 0.2Q52.9 -4.0 60.2 -9.6M71.5 3.7Q74.3 3.7 80.5 1.0M18.4 10.9Q21.9 8.6 25.1 5.7M38.3 2.5Q43.3 -2.0 48.8 -3.7M69.2 1.5Q72.0 -2.3 76.6 -4.0M33.0 12.1Q39.1 10.4 42.7 5.8M33.5 11.2Q39.5 7.5 44.2 7.4M47.8 3.8Q55.9 2.0 63.1 0.7M67.0 2.2Q72.9 1.0 75.5 -1.4M66.3 4.4Q76.4 2.3 82.9 0.6M62.4 3.6Q66.7 -0.6 73.2 -3.1M6.7 14.1Q13.1 12.5 22.2 10.0M6.3 6.2Q12.8 4.0 15.9 3.8M5.1 7.6Q14.1 2.9 20.4 -3.3M5.0 17.6Q7.6 14.3 11.5 12.4M36.9 7.3Q45.3 5.5 50.4 5.0M64.1 5.2Q72.0 3.7 77.5 2.6M49.2 1.8Q55.0 -2.6 59.8 -3.1M73.8 2.6Q78.3 1.2 82.6 1.2M46.5 0.1Q50.5 -1.0 55.7 -1.3M44.9 3.8Q47.1 2.4 53.0 -1.9" fill="none" stroke="#333" stroke-width="0.6" opacity="0.2" filter="url(#b04)"/><path d="M68.4 6.7a0.5 0.5 0 1 0 1.1 0a0.5 0.5 0 1 0 -1.1 0M72.3 7.3a1.0 1.0 0 1 0 2.0 0a1.0 1.0 0 1 0 -2.0 0M20.6 16.1a0.7 0.7 0 1 0 1.4 0a0.7 0.7 0 1 0 -1.4 0M2.7 34.8a0.5 0.5 0 1 0 1.1 0a0.5 0.5 0 1 0 -1.1 0M6.5 17.2a0.7 0.7 0 1 0 1.4 0a0.7 0.7 0 1 0 -1.4 0M31.5 16.1a1.2 1.2 0 1 0 2.3 0a1.2 1.2 0 1 0 -2.3 0M37.1 15.7a0.7 0.7 0 1 0 1.5 0a0.7 0.7 0 1 0 -1.5 0M19.2 26.1a0.7 0.7 0 1 0 1.4 0a0.7 0.7 0 1 0 -1.4 0M63.5 7.6a0.7 0.7 0 1 0 1.3 0a0.7 0.7 0 1 0 -1.3 0M51.4 11.8a0.9 0.9 0 1 0 1.8 0a0.9 0.9 0 1 0 -1.8 0M62.3 9.6a0.8 0.8 0 1 0 1.6 0a0.8 0.8 0 1 0 -1.6 0M68.5 5.8a1.1 1.1 0 1 0 2.1 0a1.1 1.1 0 1 0 -2.1 0M63.3 10.6a0.8 0.8 0 1 0 1.6 0a0.8 0.8 0 1 0 -1.6 0M31.6 15.1a1.1 1.1 0 1 0 2.2 0a1.1 1.1 0 1 0 -2.2 0M0.9 21.3a0.6 0.6 0 1 0 1.3 0a0.6 0.6 0 1 0 -1.3 0M24.6 24.1a1.0 1.0 0 1 0 2.1 0a1.0 1.0 0 1 0 -2.1 0M7.4 36.5a0.9 0.9 0 1 0 1.7 0a0.9 0.9 0 1 0 -1.7 0M48.8 12.4a1.2 1.2 0 1 0 2.3 0a1.2 1.2 0 1 0 -2.3 0M53.1 14.1a0.9 0.9 0 1 0 1.9 0a0.9 0.9 0 1 0 -1.9 0M65.0 7.2a0.7 0.7 0 1 0 1.4 0a0.7 0.7 0 1 0 -1.4 0M69.0 4.6a1.0 1.0 0 1 0 2.0 0a1.0 1.0 0 1 0 -2.0 0M23.4 27.3a0.8 0.8 0 1 0 1.5 0a0.8 0.8 0 1 0 -1.5 0M50.3 10.9a0.5 0.5 0 1 0 1.1 0a0.5 0.5 0 1 0 -1.1 0M54.4 8.6a0.7 0.7 0 1 0 1.5 0a0.7 0.7 0 1 0 -1.5 0M74.7 9.7a0.9 0.9 0 1 0 1.8 0a0.9 0.9 0 1 0 -1.8 0M17.2 33.6a0.8 0.8 0 1 0 1.5 0a0.8 0.8 0 1 0 -1.5 0M2.1 21.1a1.1 1.1 0 1 0 2.2 0a1.1 1.1 0 1 0 -2.2 0M9.3 22.8a1.0 1.0 0 1 0 1.9 0a1.0 1.0 0 1 0 -1.9 0" fill="#151515" opacity="0.4" filter="url(#b04)"/></svg>
<svg x="149.3" y="450.0" width="78.5" height="58.3" viewBox="0 0 78.5 58.3" preserveAspectRatio="none"><defs><linearGradient id="bg21" x1="0" y1="0" x2="1" y2="0"><stop offset="0" stop-color="rgb(70,70,70)"/><stop offset="0.45" stop-color="rgb(60,60,60)"/><stop offset="1" stop-color="rgb(70,70,70)"/></linearGradient></defs><rect width="78.5" height="58.3" fill="rgb(190,190,190)"/><path d="M-2 55.7 C0.1 54.7 6.6 52.1 10.7 49.8 C14.8 47.4 18.6 44.4 22.5 41.6 C26.4 38.9 30.4 36.5 34.4 33.3 C38.4 30.1 42.3 25.6 46.2 22.6 C50.1 19.6 54.1 17.3 58.0 15.5 C61.9 13.7 66.0 12.8 69.8 12.0 C73.6 11.2 79.1 11.2 81.0 11.0 L84.5 64.3 L-6 64.3 Z" fill="rgb(182,182,182)" filter="url(#b3)"/><ellipse cx="82.5" cy="62.3" rx="11" ry="16" fill="#e4e4e4" filter="url(#b3)" opacity="0.85"/><clipPath id="cl21"><path d="M-2 55.7 C0.1 54.7 6.6 52.1 10.7 49.8 C14.8 47.4 18.6 44.4 22.5 41.6 C26.4 38.9 30.4 36.5 34.4 33.3 C38.4 30.1 42.3 25.6 46.2 22.6 C50.1 19.6 54.1 17.3 58.0 15.5 C61.9 13.7 66.0 12.8 69.8 12.0 C73.6 11.2 79.1 11.2 81.0 11.0 L84.5 64.3 L-6 64.3 Z"/></clipPath><rect width="78.5" height="58.3" filter="url(#tex3)" opacity="0.18"/><rect width="78.5" height="58.3" filter="url(#tex0)" opacity="0.4" clip-path="url(#cl21)"/><path d="M69.5 11.9 C77.5 19.9 77.5 37.9 66.5 60.3" fill="none" stroke="#444" stroke-width="1.5" opacity="0.3" filter="url(#b04)"/><path d="M-2 38.0 C0.1 37.2 6.6 34.9 10.7 33.3 C14.8 31.7 18.6 30.8 22.5 28.6 C26.4 26.4 30.4 22.9 34.4 20.3 C38.4 17.7 42.3 15.1 46.2 13.2 C50.1 11.3 54.1 10.2 58.0 9.0 C61.9 7.8 66.0 6.7 69.8 6.0 C73.6 5.3 79.1 5.2 81.0 5.0 L81 11.0 C79.1 11.2 73.6 11.2 69.8 12.0 C66.0 12.8 61.9 13.7 58.0 15.5 C54.1 17.3 50.1 19.6 46.2 22.6 C42.3 25.6 38.4 30.1 34.4 33.3 C30.4 36.5 26.4 38.9 22.5 41.6 C18.6 44.4 14.8 47.4 10.7 49.8 C6.6 52.1 0.1 54.7 -2.0 55.7 Z" fill="url(#bg21)" filter="url(#b2)" opacity="0.45"/><path d="M-2 41.0 C0.1 40.2 6.6 37.8 10.7 36.1 C14.8 34.4 18.6 33.1 22.5 30.8 C26.4 28.5 30.4 25.2 34.4 22.5 C38.4 19.8 42.3 16.9 46.2 14.8 C50.1 12.7 54.1 11.4 58.0 10.1 C61.9 8.8 66.0 7.7 69.8 7.0 C73.6 6.3 79.1 6.2 81.0 6.0 L81 10.0 C79.1 10.1 73.6 10.2 69.8 11.0 C66.0 11.7 61.9 12.7 58.0 14.4 C54.1 16.1 50.1 18.2 46.2 21.0 C42.3 23.8 38.4 28.0 34.4 31.1 C30.4 34.2 26.4 36.7 22.5 39.4 C18.6 42.0 14.8 44.8 10.7 47.0 C6.6 49.2 0.1 51.7 -2.0 52.7 Z" fill="url(#bg21)" filter="url(#b15)" opacity="0.9"/><path d="M-2 38.0 C0.1 37.2 6.6 34.9 10.7 33.3 C14.8 31.7 18.6 30.8 22.5 28.6 C26.4 26.4 30.4 22.9 34.4 20.3 C38.4 17.7 42.3 15.1 46.2 13.2 C50.1 11.3 54.1 10.2 58.0 9.0 C61.9 7.8 66.0 6.7 69.8 6.0 C73.6 5.3 79.1 5.2 81.0 5.0 L81 11.0 C79.1 11.2 73.6 11.2 69.8 12.0 C66.0 12.8 61.9 13.7 58.0 15.5 C54.1 17.3 50.1 19.6 46.2 22.6 C42.3 25.6 38.4 30.1 34.4 33.3 C30.4 36.5 26.4 38.9 22.5 41.6 C18.6 44.4 14.8 47.4 10.7 49.8 C6.6 52.1 0.1 54.7 -2.0 55.7 Z" fill="#000" filter="url(#mot3)" opacity="0.45"/><path d="M67.5 36.2Q68.6 39.3 71.9 38.0M73.3 28.1Q76.3 31.3 74.3 35.1M24.6 49.3Q22.3 53.2 24.4 53.3M34.4 57.1Q39.7 62.0 39.0 62.3M0.0 58.2Q-4.5 60.8 -9.7 60.6M56.2 30.5Q57.8 29.8 53.9 33.9M54.4 37.8Q53.0 42.2 50.5 43.3M33.7 45.1Q39.4 45.2 40.1 50.6M65.8 18.9Q64.2 17.6 60.7 18.9M54.6 30.1Q56.3 31.5 59.4 37.7M44.5 30.0Q46.9 32.1 46.6 37.5M57.5 19.6Q62.2 19.3 67.0 23.4M65.7 26.2Q66.2 29.0 62.9 30.3M49.2 46.4Q49.8 53.3 55.4 54.8M53.6 46.3Q58.8 49.1 62.0 52.0M76.9 42.0Q74.6 43.5 69.5 44.8M58.8 26.2Q60.3 32.0 60.7 33.9M72.9 49.2Q70.3 50.1 64.7 52.3M46.7 26.6Q44.0 26.6 45.2 31.4M19.3 55.2Q21.3 55.9 28.9 60.3M48.6 24.2Q47.7 22.3 43.6 26.3M65.4 18.5Q66.2 24.0 61.9 24.3M22.4 47.1Q24.5 48.7 28.4 54.0M14.3 56.5Q15.8 61.0 13.1 66.1M57.0 34.6Q55.6 39.6 51.1 43.3M35.9 33.1Q35.6 40.1 36.5 41.9M14.9 57.5Q19.0 64.1 18.2 65.7M51.5 33.2Q55.3 34.7 60.0 34.4M69.3 35.1Q66.3 34.6 62.1 39.3M28.4 41.8Q29.6 40.5 32.8 45.1M76.4 44.3Q75.9 46.8 71.0 52.4M4.2 55.2Q6.4 60.5 7.7 65.5M45.6 35.4Q38.6 37.6 37.5 36.8M43.9 29.0Q40.0 34.1 40.7 33.7M25.8 49.4Q28.3 51.2 32.1 56.4M43.6 38.7Q46.0 42.8 49.2 46.9M66.2 47.4Q69.4 47.9 66.9 52.7M71.1 19.9Q71.3 24.4 73.0 25.9M45.0 45.4Q44.2 51.2 40.7 51.9M5.2 52.9Q7.6 53.7 4.7 57.9" fill="none" stroke="#222" stroke-width="0.6" opacity="0.38" filter="url(#b04)"/><path d="M20.5 22.1Q27.6 21.2 36.8 16.3M45.1 12.2Q53.0 6.2 56.9 2.8M39.9 13.0Q45.5 8.4 54.9 4.7M70.6 2.1Q78.2 0.2 85.9 -2.0M62.0 5.6Q69.9 2.1 74.1 -2.4M56.0 1.9Q60.8 -3.2 66.7 -7.0M39.6 2.5Q44.6 0.9 46.3 -2.5M10.8 27.4Q18.8 23.7 22.9 18.6M-0.4 7.2Q4.0 4.3 7.9 4.5M52.3 9.4Q59.6 9.2 63.2 5.9M38.8 13.1Q42.9 7.4 49.8 5.2M20.3 3.8Q25.0 0.9 27.9 -3.0M48.3 0.3Q54.6 0.2 58.6 -3.4M35.7 2.2Q39.1 -0.2 45.6 -0.0M14.3 26.7Q23.7 22.1 29.3 19.9M13.1 16.8Q23.5 11.8 30.3 9.0M3.9 14.0Q13.5 10.4 19.6 8.5M2.9 2.3Q11.7 -2.0 22.2 -2.5M75.8 5.5Q85.0 0.8 90.7 -2.1M29.1 22.1Q36.4 16.5 43.7 13.7M43.5 6.3Q48.9 3.7 52.5 4.0M22.0 27.2Q29.4 26.9 39.7 24.0M4.9 26.4Q11.3 27.2 18.9 24.2M33.5 3.1Q36.4 1.6 40.8 -1.7M-2.5 22.1Q2.2 18.1 10.4 11.4" fill="none" stroke="#333" stroke-width="0.6" opacity="0.2" filter="url(#b04)"/><path d="M2.4 40.1a1.0 1.0 0 1 0 2.1 0a1.0 1.0 0 1 0 -2.1 0M65.6 8.4a1.0 1.0 0 1 0 2.0 0a1.0 1.0 0 1 0 -2.0 0M62.5 9.9a0.8 0.8 0 1 0 1.6 0a0.8 0.8 0 1 0 -1.6 0M66.1 10.8a0.9 0.9 0 1 0 1.8 0a0.9 0.9 0 1 0 -1.8 0M36.8 23.0a0.8 0.8 0 1 0 1.6 0a0.8 0.8 0 1 0 -1.6 0M15.0 36.8a0.7 0.7 0 1 0 1.4 0a0.7 0.7 0 1 0 -1.4 0M60.7 10.5a1.2 1.2 0 1 0 2.3 0a1.2 1.2 0 1 0 -2.3 0M25.9 30.3a1.1 1.1 0 1 0 2.1 0a1.1 1.1 0 1 0 -2.1 0M61.7 9.9a1.1 1.1 0 1 0 2.3 0a1.1 1.1 0 1 0 -2.3 0M72.6 9.6a1.0 1.0 0 1 0 1.9 0a1.0 1.0 0 1 0 -1.9 0M42.1 21.8a0.8 0.8 0 1 0 1.7 0a0.8 0.8 0 1 0 -1.7 0M8.4 43.9a0.9 0.9 0 1 0 1.7 0a0.9 0.9 0 1 0 -1.7 0M55.3 9.2a0.7 0.7 0 1 0 1.5 0a0.7 0.7 0 1 0 -1.5 0M58.3 12.8a0.8 0.8 0 1 0 1.6 0a0.8 0.8 0 1 0 -1.6 0M9.3 44.6a0.5 0.5 0 1 0 1.0 0a0.5 0.5 0 1 0 -1.0 0M47.9 15.3a0.8 0.8 0 1 0 1.7 0a0.8 0.8 0 1 0 -1.7 0M71.9 4.1a1.1 1.1 0 1 0 2.1 0a1.1 1.1 0 1 0 -2.1 0M75.3 5.3a0.9 0.9 0 1 0 1.8 0a0.9 0.9 0 1 0 -1.8 0M5.8 47.4a0.5 0.5 0 1 0 1.0 0a0.5 0.5 0 1 0 -1.0 0M18.3 39.2a1.1 1.1 0 1 0 2.3 0a1.1 1.1 0 1 0 -2.3 0M16.8 37.7a0.7 0.7 0 1 0 1.4 0a0.7 0.7 0 1 0 -1.4 0M0.0 46.4a1.0 1.0 0 1 0 1.9 0a1.0 1.0 0 1 0 -1.9 0M54.1 11.5a1.0 1.0 0 1 0 2.0 0a1.0 1.0 0 1 0 -2.0 0M20.1 39.7a0.6 0.6 0 1 0 1.3 0a0.6 0.6 0 1 0 -1.3 0M65.8 10.8a0.8 0.8 0 1 0 1.6 0a0.8 0.8 0 1 0 -1.6 0M32.1 20.0a1.2 1.2 0 1 0 2.3 0a1.2 1.2 0 1 0 -2.3 0M32.9 20.7a1.1 1.1 0 1 0 2.2 0a1.1 1.1 0 1 0 -2.2 0M40.9 21.5a1.0 1.0 0 1 0 2.0 0a1.0 1.0 0 1 0 -2.0 0" fill="#151515" opacity="0.4" filter="url(#b04)"/></svg>
<svg x="234.2" y="450.0" width="78.5" height="58.3" viewBox="0 0 78.5 58.3" preserveAspectRatio="none"><defs><linearGradient id="bg22" x1="0" y1="0" x2="1" y2="0"><stop offset="0" stop-color="rgb(35,35,35)"/><stop offset="0.45" stop-color="rgb(45,45,45)"/><stop offset="1" stop-color="rgb(85,85,85)"/></linearGradient></defs><rect width="78.5" height="58.3" fill="rgb(198,198,198)"/><path d="M-2 48.7 C0.1 47.9 6.6 45.7 10.7 43.9 C14.8 42.1 18.6 40.2 22.5 38.0 C26.4 35.8 30.4 33.1 34.4 30.9 C38.4 28.7 42.3 26.8 46.2 25.0 C50.1 23.2 54.1 21.7 58.0 20.3 C61.9 18.9 66.0 17.4 69.8 16.7 C73.6 16.0 79.1 16.1 81.0 16.0 L84.5 64.3 L-6 64.3 Z" fill="rgb(160,160,160)" filter="url(#b3)"/><ellipse cx="82.5" cy="62.3" rx="11" ry="16" fill="#e4e4e4" filter="url(#b3)" opacity="0.85"/><clipPath id="cl22"><path d="M-2 48.7 C0.1 47.9 6.6 45.7 10.7 43.9 C14.8 42.1 18.6 40.2 22.5 38.0 C26.4 35.8 30.4 33.1 34.4 30.9 C38.4 28.7 42.3 26.8 46.2 25.0 C50.1 23.2 54.1 21.7 58.0 20.3 C61.9 18.9 66.0 17.4 69.8 16.7 C73.6 16.0 79.1 16.1 81.0 16.0 L84.5 64.3 L-6 64.3 Z"/></clipPath><rect width="78.5" height="58.3" filter="url(#tex0)" opacity="0.18"/><rect width="78.5" height="58.3" filter="url(#tex1)" opacity="0.4" clip-path="url(#cl22)"/><path d="M69.5 16.7 C77.5 24.7 77.5 37.9 66.5 60.3" fill="none" stroke="#444" stroke-width="1.5" opacity="0.3" filter="url(#b04)"/><path d="M-2 26.2 C0.1 25.6 6.6 23.8 10.7 22.6 C14.8 21.4 18.6 20.3 22.5 19.1 C26.4 17.9 30.4 16.7 34.4 15.5 C38.4 14.3 42.3 13.2 46.2 12.0 C50.1 10.8 54.1 9.5 58.0 8.5 C61.9 7.5 66.0 6.6 69.8 6.0 C73.6 5.4 79.1 5.2 81.0 5.0 L81 16.0 C79.1 16.1 73.6 16.0 69.8 16.7 C66.0 17.4 61.9 18.9 58.0 20.3 C54.1 21.7 50.1 23.2 46.2 25.0 C42.3 26.8 38.4 28.7 34.4 30.9 C30.4 33.1 26.4 35.8 22.5 38.0 C18.6 40.2 14.8 42.1 10.7 43.9 C6.6 45.7 0.1 47.9 -2.0 48.7 Z" fill="url(#bg22)" filter="url(#b2)" opacity="0.45"/><path d="M-2 30.0 C0.1 29.4 6.6 27.5 10.7 26.2 C14.8 24.9 18.6 23.7 22.5 22.3 C26.4 21.0 30.4 19.5 34.4 18.1 C38.4 16.8 42.3 15.5 46.2 14.2 C50.1 12.9 54.1 11.6 58.0 10.5 C61.9 9.4 66.0 8.4 69.8 7.8 C73.6 7.2 79.1 7.0 81.0 6.9 L81 14.1 C79.1 14.3 73.6 14.2 69.8 14.9 C66.0 15.6 61.9 17.0 58.0 18.3 C54.1 19.6 50.1 21.1 46.2 22.8 C42.3 24.5 38.4 26.3 34.4 28.3 C30.4 30.3 26.4 32.8 22.5 34.8 C18.6 36.8 14.8 38.6 10.7 40.3 C6.6 42.0 0.1 44.1 -2.0 44.9 Z" fill="url(#bg22)" filter="url(#b15)" opacity="0.9"/><path d="M-2 26.2 C0.1 25.6 6.6 23.8 10.7 22.6 C14.8 21.4 18.6 20.3 22.5 19.1 C26.4 17.9 30.4 16.7 34.4 15.5 C38.4 14.3 42.3 13.2 46.2 12.0 C50.1 10.8 54.1 9.5 58.0 8.5 C61.9 7.5 66.0 6.6 69.8 6.0 C73.6 5.4 79.1 5.2 81.0 5.0 L81 16.0 C79.1 16.1 73.6 16.0 69.8 16.7 C66.0 17.4 61.9 18.9 58.0 20.3 C54.1 21.7 50.1 23.2 46.2 25.0 C42.3 26.8 38.4 28.7 34.4 30.9 C30.4 33.1 26.4 35.8 22.5 38.0 C18.6 40.2 14.8 42.1 10.7 43.9 C6.6 45.7 0.1 47.9 -2.0 48.7 Z" fill="#000" filter="url(#mot0)" opacity="0.45"/><path d="M39.7 41.9Q43.1 43.5 42.5 49.3M35.4 51.7Q30.1 52.0 27.5 54.1M23.9 39.9Q22.6 42.7 23.7 44.5M75.4 58.1Q77.1 64.5 80.2 66.2M18.4 55.1Q19.2 60.7 19.3 60.7M57.4 52.2Q61.1 55.6 60.4 58.0M56.5 24.6Q55.8 25.3 57.5 28.9M64.0 55.1Q64.8 54.1 69.3 56.8M56.8 35.1Q62.5 33.2 67.7 35.7M66.6 33.2Q68.2 33.0 65.2 38.6M18.1 56.5Q24.0 60.3 24.7 58.6M33.5 36.7Q33.7 39.6 30.6 39.7M54.3 34.7Q55.3 37.4 52.9 40.5M40.4 39.7Q34.3 43.1 30.8 41.0M63.8 34.6Q62.5 37.6 60.6 39.4M78.0 57.5Q75.8 59.4 77.5 66.4M64.4 28.6Q65.2 33.2 69.5 35.7M13.5 43.6Q14.3 50.6 16.9 54.0M16.6 54.7Q16.2 54.5 12.9 59.0M30.1 54.5Q28.3 56.1 31.6 61.8M74.3 57.8Q70.2 63.8 70.6 64.5M49.3 48.9Q54.2 52.2 56.6 55.8M23.8 40.9Q25.5 42.7 31.3 45.9M33.6 43.3Q28.5 45.3 28.1 43.7M59.2 37.5Q58.0 37.4 53.8 40.4M68.9 43.3Q65.5 41.6 63.7 44.1M75.2 48.0Q74.6 51.6 74.0 55.1M6.7 53.7Q8.6 54.7 12.3 56.9M4.2 49.7Q6.5 48.4 9.7 52.5M38.6 38.9Q38.0 39.3 35.8 44.2M9.3 53.5Q10.8 53.8 15.0 56.7M18.9 40.4Q12.9 38.8 13.0 42.9M12.0 51.5Q11.4 54.9 8.0 56.4M37.8 54.2Q42.2 58.6 47.8 58.6M50.9 37.3Q55.9 38.3 56.7 44.2M8.2 55.4Q8.0 59.2 2.9 59.9M50.7 33.1Q55.4 38.6 56.2 38.2M2.8 53.0Q-2.7 53.2 -6.9 54.1M24.0 38.3Q22.9 41.5 18.5 38.8M47.2 25.8Q44.2 29.0 40.7 28.2" fill="none" stroke="#222" stroke-width="0.6" opacity="0.38" filter="url(#b04)"/><path d="M-3.7 8.7Q1.1 6.6 7.9 2.6M60.7 6.6Q65.9 3.8 70.6 -1.7M21.7 1.2Q24.6 -1.5 31.6 -5.5M-3.3 21.2Q7.0 19.5 15.1 16.2M62.5 4.2Q68.0 1.0 73.7 -6.0M-0.7 10.1Q9.4 6.3 16.3 2.1M24.8 17.5Q31.6 17.9 36.9 14.5M44.4 9.4Q46.6 6.9 52.6 6.5M57.8 2.3Q65.1 -1.4 68.4 -1.8M8.0 14.3Q15.3 7.4 21.5 4.3M8.2 3.5Q15.8 1.4 19.8 -1.1M35.3 7.6Q40.8 6.5 44.6 4.2M28.3 13.4Q31.5 10.3 35.1 7.7M22.4 18.6Q30.4 13.8 37.5 10.8M54.9 7.1Q60.3 5.5 65.3 2.8M-4.0 10.5Q-0.6 9.1 3.8 7.2M-3.8 6.9Q2.3 3.4 7.8 1.9M71.2 0.1Q80.6 -3.9 86.9 -4.4M37.8 4.4Q43.5 2.6 45.9 0.8M71.7 0.4Q78.6 -5.9 87.1 -8.6M77.6 4.2Q85.3 2.9 90.0 -2.4M75.0 0.3Q78.9 -2.3 84.5 -5.4M15.4 0.5Q23.6 -4.9 29.1 -10.1M44.5 11.6Q50.0 6.2 58.7 0.3M46.9 10.0Q53.3 9.6 58.9 7.3" fill="none" stroke="#333" stroke-width="0.6" opacity="0.2" filter="url(#b04)"/><path d="M12.8 25.4a0.8 0.8 0 1 0 1.6 0a0.8 0.8 0 1 0 -1.6 0M41.5 15.7a1.0 1.0 0 1 0 2.0 0a1.0 1.0 0 1 0 -2.0 0M62.9 8.2a0.7 0.7 0 1 0 1.5 0a0.7 0.7 0 1 0 -1.5 0M50.7 17.6a0.9 0.9 0 1 0 1.7 0a0.9 0.9 0 1 0 -1.7 0M22.1 22.3a1.2 1.2 0 1 0 2.4 0a1.2 1.2 0 1 0 -2.4 0M3.8 38.2a0.6 0.6 0 1 0 1.1 0a0.6 0.6 0 1 0 -1.1 0M62.3 9.1a1.2 1.2 0 1 0 2.3 0a1.2 1.2 0 1 0 -2.3 0M14.7 26.5a0.6 0.6 0 1 0 1.2 0a0.6 0.6 0 1 0 -1.2 0M54.0 15.2a1.1 1.1 0 1 0 2.3 0a1.1 1.1 0 1 0 -2.3 0M21.0 21.5a0.7 0.7 0 1 0 1.5 0a0.7 0.7 0 1 0 -1.5 0M46.0 10.9a0.5 0.5 0 1 0 1.1 0a0.5 0.5 0 1 0 -1.1 0M53.6 14.8a1.0 1.0 0 1 0 1.9 0a1.0 1.0 0 1 0 -1.9 0M71.4 10.9a1.1 1.1 0 1 0 2.1 0a1.1 1.1 0 1 0 -2.1 0M72.8 12.4a0.9 0.9 0 1 0 1.7 0a0.9 0.9 0 1 0 -1.7 0M33.3 23.5a0.6 0.6 0 1 0 1.2 0a0.6 0.6 0 1 0 -1.2 0M1.9 25.5a0.6 0.6 0 1 0 1.1 0a0.6 0.6 0 1 0 -1.1 0M58.7 10.0a0.7 0.7 0 1 0 1.4 0a0.7 0.7 0 1 0 -1.4 0M62.0 9.2a0.6 0.6 0 1 0 1.2 0a0.6 0.6 0 1 0 -1.2 0M22.8 23.0a0.9 0.9 0 1 0 1.9 0a0.9 0.9 0 1 0 -1.9 0M42.4 18.5a0.6 0.6 0 1 0 1.3 0a0.6 0.6 0 1 0 -1.3 0M31.0 25.5a0.8 0.8 0 1 0 1.5 0a0.8 0.8 0 1 0 -1.5 0M31.0 21.2a0.9 0.9 0 1 0 1.8 0a0.9 0.9 0 1 0 -1.8 0M68.9 8.3a1.0 1.0 0 1 0 2.0 0a1.0 1.0 0 1 0 -2.0 0M31.5 16.4a1.0 1.0 0 1 0 2.0 0a1.0 1.0 0 1 0 -2.0 0M24.0 28.3a0.5 0.5 0 1 0 1.0 0a0.5 0.5 0 1 0 -1.0 0M47.9 15.2a0.9 0.9 0 1 0 1.8 0a0.9 0.9 0 1 0 -1.8 0M73.5 6.0a0.6 0.6 0 1 0 1.2 0a0.6 0.6 0 1 0 -1.2 0M32.4 19.0a1.2 1.2 0 1 0 2.4 0a1.2 1.2 0 1 0 -2.4 0" fill="#151515" opacity="0.4" filter="url(#b04)"/></svg>
<svg x="65.0" y="513.2" width="78.5" height="58.3" viewBox="0 0 78.5 58.3" preserveAspectRatio="none"><defs><linearGradient id="bg30" x1="0" y1="0" x2="1" y2="0"><stop offset="0" stop-color="rgb(60,60,60)"/><stop offset="0.45" stop-color="rgb(60,60,60)"/><stop offset="1" stop-color="rgb(65,65,65)"/></linearGradient></defs><rect width="78.5" height="58.3" fill="rgb(210,210,210)"/><path d="M-2 58 C0.1 57.6 6.6 56.6 10.7 55.6 C14.8 54.6 18.6 54.0 22.5 52.0 C26.4 50.0 30.4 47.3 34.4 43.8 C38.4 40.2 42.3 34.2 46.2 30.7 C50.1 27.1 54.1 24.9 58.0 22.5 C61.9 20.1 66.0 17.8 69.8 16.5 C73.6 15.2 79.1 15.2 81.0 15.0 L84.5 64.3 L-6 64.3 Z" fill="rgb(165,165,165)" filter="url(#b3)"/><ellipse cx="82.5" cy="62.3" rx="11" ry="16" fill="#e4e4e4" filter="url(#b3)" opacity="0.85"/><clipPath id="cl30"><path d="M-2 58 C0.1 57.6 6.6 56.6 10.7 55.6 C14.8 54.6 18.6 54.0 22.5 52.0 C26.4 50.0 30.4 47.3 34.4 43.8 C38.4 40.2 42.3 34.2 46.2 30.7 C50.1 27.1 54.1 24.9 58.0 22.5 C61.9 20.1 66.0 17.8 69.8 16.5 C73.6 15.2 79.1 15.2 81.0 15.0 L84.5 64.3 L-6 64.3 Z"/></clipPath><rect width="78.5" height="58.3" filter="url(#tex1)" opacity="0.18"/><rect width="78.5" height="58.3" filter="url(#tex2)" opacity="0.4" clip-path="url(#cl30)"/><path d="M69.5 16.4 C77.5 24.4 77.5 37.9 66.5 60.3" fill="none" stroke="#444" stroke-width="1.5" opacity="0.3" filter="url(#b04)"/><path d="M-2 37.8 C0.1 37.0 6.6 34.5 10.7 33.1 C14.8 31.7 18.6 31.2 22.5 29.6 C26.4 28.0 30.4 25.9 34.4 23.7 C38.4 21.5 42.3 18.9 46.2 16.5 C50.1 14.1 54.1 11.5 58.0 9.5 C61.9 7.5 66.0 5.8 69.8 4.7 C73.6 3.6 79.1 3.3 81.0 3.0 L81 15.0 C79.1 15.2 73.6 15.2 69.8 16.5 C66.0 17.8 61.9 20.1 58.0 22.5 C54.1 24.9 50.1 27.1 46.2 30.7 C42.3 34.2 38.4 40.2 34.4 43.8 C30.4 47.3 26.4 50.0 22.5 52.0 C18.6 54.0 14.8 54.6 10.7 55.6 C6.6 56.6 0.1 57.6 -2.0 58.0 Z" fill="url(#bg30)" filter="url(#b2)" opacity="0.45"/><path d="M-2 41.2 C0.1 40.5 6.6 38.2 10.7 36.9 C14.8 35.6 18.6 35.0 22.5 33.4 C26.4 31.8 30.4 29.5 34.4 27.1 C38.4 24.7 42.3 21.5 46.2 18.9 C50.1 16.3 54.1 13.7 58.0 11.7 C61.9 9.7 66.0 7.8 69.8 6.7 C73.6 5.6 79.1 5.3 81.0 5.0 L81 13.0 C79.1 13.2 73.6 13.3 69.8 14.5 C66.0 15.7 61.9 18.0 58.0 20.3 C54.1 22.6 50.1 24.9 46.2 28.3 C42.3 31.6 38.4 37.1 34.4 40.4 C30.4 43.7 26.4 46.3 22.5 48.2 C18.6 50.1 14.8 50.7 10.7 51.8 C6.6 52.8 0.1 54.1 -2.0 54.6 Z" fill="url(#bg30)" filter="url(#b15)" opacity="0.9"/><path d="M-2 37.8 C0.1 37.0 6.6 34.5 10.7 33.1 C14.8 31.7 18.6 31.2 22.5 29.6 C26.4 28.0 30.4 25.9 34.4 23.7 C38.4 21.5 42.3 18.9 46.2 16.5 C50.1 14.1 54.1 11.5 58.0 9.5 C61.9 7.5 66.0 5.8 69.8 4.7 C73.6 3.6 79.1 3.3 81.0 3.0 L81 15.0 C79.1 15.2 73.6 15.2 69.8 16.5 C66.0 17.8 61.9 20.1 58.0 22.5 C54.1 24.9 50.1 27.1 46.2 30.7 C42.3 34.2 38.4 40.2 34.4 43.8 C30.4 47.3 26.4 50.0 22.5 52.0 C18.6 54.0 14.8 54.6 10.7 55.6 C6.6 56.6 0.1 57.6 -2.0 58.0 Z" fill="#000" filter="url(#mot1)" opacity="0.45"/><path d="M28.0 56.6Q31.0 58.6 34.3 57.8M53.3 27.9Q53.5 32.9 59.4 32.2M55.3 36.6Q48.6 38.8 47.9 42.4M23.9 51.4Q19.6 55.2 15.5 55.1M42.4 44.3Q37.7 46.6 35.8 48.7M9.8 57.1Q8.7 63.7 12.3 65.6M60.6 51.9Q58.0 49.9 55.5 51.9M23.2 52.0Q20.9 54.1 13.7 53.7M41.5 44.3Q43.2 44.6 50.1 44.6M25.7 58.2Q30.7 56.0 34.5 59.4M75.3 45.3Q74.5 51.0 79.4 53.8M53.7 36.5Q50.2 38.9 48.8 38.9M69.7 44.3Q70.4 47.6 65.4 46.4M53.2 29.0Q49.2 32.7 49.7 32.0M17.4 55.7Q17.0 56.9 14.7 60.5M38.1 48.6Q33.6 47.0 30.0 51.1M72.1 46.2Q68.1 51.4 69.5 50.8M20.2 56.9Q19.4 62.8 18.0 63.0M37.2 55.2Q40.9 56.2 40.7 61.8M14.0 55.7Q11.3 56.5 12.2 63.1M36.6 42.5Q34.6 40.7 28.9 43.3M48.8 38.7Q46.5 41.9 45.5 47.6M11.8 57.2Q13.1 58.6 8.9 62.0M52.1 48.9Q45.4 48.7 44.4 49.3M12.1 57.8Q9.0 57.8 5.6 63.8M33.2 57.4Q38.1 58.5 37.3 60.0M52.1 48.7Q50.4 51.1 44.0 55.1M77.8 53.0Q78.4 53.0 83.2 57.2M24.4 52.1Q26.8 56.7 26.7 58.8M8.3 56.2Q8.3 60.5 4.2 63.4M66.4 21.9Q58.7 21.3 56.8 23.7M73.6 24.4Q75.7 23.8 81.6 25.5M69.4 25.2Q65.2 23.4 61.9 26.2M75.7 36.0Q75.1 36.5 80.3 36.6M8.2 57.0Q8.3 58.5 4.4 63.9M31.8 50.4Q31.3 55.3 31.9 55.9M40.5 41.4Q37.3 47.5 33.5 48.5M61.0 33.1Q63.6 35.6 70.4 36.9M57.3 46.7Q54.4 53.8 52.2 55.4" fill="none" stroke="#222" stroke-width="0.6" opacity="0.38" filter="url(#b04)"/><path d="M56.9 6.9Q63.6 3.6 67.6 -0.6M55.2 0.4Q61.8 -1.9 69.5 -4.5M67.2 3.5Q75.7 -3.3 81.8 -6.5M64.3 1.6Q70.5 -0.2 74.1 -5.6M61.6 1.1Q67.2 -3.6 72.1 -6.3M48.3 3.2Q57.0 -0.0 63.7 -3.2M-4.4 10.2Q1.1 7.8 6.1 6.9M25.4 11.6Q31.2 12.2 34.9 10.1M3.7 10.2Q8.1 8.6 12.8 6.8M40.8 0.3Q43.8 -1.5 48.2 -5.9M62.9 0.2Q67.0 -3.6 70.9 -4.9M62.5 6.3Q68.7 1.9 73.8 0.4M6.5 1.9Q12.9 0.7 21.9 -3.9M3.9 26.8Q11.1 19.4 17.1 15.6M-3.7 5.7Q3.4 0.6 11.7 -4.2M39.5 16.1Q46.5 9.3 52.0 6.1M16.7 15.7Q22.5 11.4 30.8 10.2M25.5 1.6Q32.8 0.0 42.6 -3.5M5.0 17.5Q9.0 13.8 13.4 10.3M69.4 1.3Q75.7 -2.5 79.5 -6.7M18.0 26.3Q25.6 23.0 32.9 22.2M58.8 1.9Q60.9 -2.7 66.1 -3.9M21.9 14.3Q30.8 9.9 37.6 3.0M2.7 4.9Q7.3 0.7 10.8 -1.5M33.2 1.3Q43.6 -0.4 50.3 -2.5" fill="none" stroke="#333" stroke-width="0.6" opacity="0.2" filter="url(#b04)"/><path d="M18.1 28.7a1.1 1.1 0 1 0 2.2 0a1.1 1.1 0 1 0 -2.2 0M60.1 15.9a0.7 0.7 0 1 0 1.3 0a0.7 0.7 0 1 0 -1.3 0M56.5 14.2a0.6 0.6 0 1 0 1.2 0a0.6 0.6 0 1 0 -1.2 0M44.1 21.3a0.6 0.6 0 1 0 1.2 0a0.6 0.6 0 1 0 -1.2 0M70.8 8.5a0.7 0.7 0 1 0 1.4 0a0.7 0.7 0 1 0 -1.4 0M11.8 38.1a0.7 0.7 0 1 0 1.4 0a0.7 0.7 0 1 0 -1.4 0M19.3 29.2a0.7 0.7 0 1 0 1.4 0a0.7 0.7 0 1 0 -1.4 0M33.4 39.1a0.8 0.8 0 1 0 1.5 0a0.8 0.8 0 1 0 -1.5 0M20.3 28.1a0.8 0.8 0 1 0 1.5 0a0.8 0.8 0 1 0 -1.5 0M46.3 23.8a0.7 0.7 0 1 0 1.4 0a0.7 0.7 0 1 0 -1.4 0M37.6 19.6a1.0 1.0 0 1 0 2.1 0a1.0 1.0 0 1 0 -2.1 0M61.9 17.5a0.9 0.9 0 1 0 1.9 0a0.9 0.9 0 1 0 -1.9 0M38.3 25.3a1.2 1.2 0 1 0 2.4 0a1.2 1.2 0 1 0 -2.4 0M-0.9 43.3a1.2 1.2 0 1 0 2.3 0a1.2 1.2 0 1 0 -2.3 0M40.3 32.1a0.9 0.9 0 1 0 1.8 0a0.9 0.9 0 1 0 -1.8 0M3.7 36.9a0.6 0.6 0 1 0 1.3 0a0.6 0.6 0 1 0 -1.3 0M46.6 14.6a1.1 1.1 0 1 0 2.1 0a1.1 1.1 0 1 0 -2.1 0M26.9 34.0a0.6 0.6 0 1 0 1.3 0a0.6 0.6 0 1 0 -1.3 0M75.0 7.4a1.1 1.1 0 1 0 2.2 0a1.1 1.1 0 1 0 -2.2 0M11.4 40.1a1.0 1.0 0 1 0 2.0 0a1.0 1.0 0 1 0 -2.0 0M63.5 13.7a1.0 1.0 0 1 0 2.1 0a1.0 1.0 0 1 0 -2.1 0M15.5 33.8a0.6 0.6 0 1 0 1.2 0a0.6 0.6 0 1 0 -1.2 0M22.4 46.6a1.0 1.0 0 1 0 2.0 0a1.0 1.0 0 1 0 -2.0 0M6.3 51.9a0.8 0.8 0 1 0 1.5 0a0.8 0.8 0 1 0 -1.5 0M20.0 42.4a1.1 1.1 0 1 0 2.3 0a1.1 1.1 0 1 0 -2.3 0M0.3 35.7a0.8 0.8 0 1 0 1.6 0a0.8 0.8 0 1 0 -1.6 0M13.9 39.3a0.7 0.7 0 1 0 1.4 0a0.7 0.7 0 1 0 -1.4 0M58.7 9.7a0.9 0.9 0 1 0 1.7 0a0.9 0.9 0 1 0 -1.7 0" fill="#151515" opacity="0.4" filter="url(#b04)"/></svg>
<svg x="149.3" y="513.2" width="78.5" height="58.3" viewBox="0 0 78.5 58.3" preserveAspectRatio="none"><defs><linearGradient id="bg31" x1="0" y1="0" x2="1" y2="0"><stop offset="0" stop-color="rgb(45,45,45)"/><stop offset="0.45" stop-color="rgb(35,35,35)"/><stop offset="1" stop-color="rgb(55,55,55)"/></linearGradient></defs><rect width="78.5" height="58.3" fill="rgb(200,200,200)"/><path d="M-2 35.5 C0.1 35.3 6.6 35.3 10.7 34.3 C14.8 33.3 18.6 31.6 22.5 29.6 C26.4 27.6 30.4 24.7 34.4 22.5 C38.4 20.3 42.3 18.2 46.2 16.6 C50.1 15.0 54.1 13.8 58.0 13.0 C61.9 12.2 66.0 12.0 69.8 11.8 C73.6 11.6 79.1 12.0 81.0 12.0 L84.5 64.3 L-6 64.3 Z" fill="rgb(188,188,188)" filter="url(#b3)"/><ellipse cx="82.5" cy="62.3" rx="11" ry="16" fill="#e4e4e4" filter="url(#b3)" opacity="0.85"/><clipPath id="cl31"><path d="M-2 35.5 C0.1 35.3 6.6 35.3 10.7 34.3 C14.8 33.3 18.6 31.6 22.5 29.6 C26.4 27.6 30.4 24.7 34.4 22.5 C38.4 20.3 42.3 18.2 46.2 16.6 C50.1 15.0 54.1 13.8 58.0 13.0 C61.9 12.2 66.0 12.0 69.8 11.8 C73.6 11.6 79.1 12.0 81.0 12.0 L84.5 64.3 L-6 64.3 Z"/></clipPath><rect width="78.5" height="58.3" filter="url(#tex2)" opacity="0.18"/><rect width="78.5" height="58.3" filter="url(#tex3)" opacity="0.4" clip-path="url(#cl31)"/><path d="M69.5 11.8 C77.5 19.8 77.5 37.9 66.5 60.3" fill="none" stroke="#444" stroke-width="1.5" opacity="0.3" filter="url(#b04)"/><path d="M-2 15.4 C0.1 16.0 6.6 18.6 10.7 19.0 C14.8 19.4 18.6 18.7 22.5 17.7 C26.4 16.7 30.4 14.6 34.4 13.0 C38.4 11.4 42.3 9.4 46.2 8.3 C50.1 7.2 54.1 6.7 58.0 6.5 C61.9 6.3 66.0 6.9 69.8 7.1 C73.6 7.3 79.1 7.4 81.0 7.5 L81 12.0 C79.1 12.0 73.6 11.6 69.8 11.8 C66.0 12.0 61.9 12.2 58.0 13.0 C54.1 13.8 50.1 15.0 46.2 16.6 C42.3 18.2 38.4 20.3 34.4 22.5 C30.4 24.7 26.4 27.6 22.5 29.6 C18.6 31.6 14.8 33.3 10.7 34.3 C6.6 35.3 0.1 35.3 -2.0 35.5 Z" fill="url(#bg31)" filter="url(#b2)" opacity="0.45"/><path d="M-2 18.8 C0.1 19.3 6.6 21.4 10.7 21.6 C14.8 21.8 18.6 20.9 22.5 19.7 C26.4 18.6 30.4 16.3 34.4 14.6 C38.4 12.9 42.3 10.9 46.2 9.7 C50.1 8.5 54.1 7.9 58.0 7.6 C61.9 7.3 66.0 7.8 69.8 7.9 C73.6 8.0 79.1 8.2 81.0 8.3 L81 11.2 C79.1 11.2 73.6 10.9 69.8 11.0 C66.0 11.1 61.9 11.2 58.0 11.9 C54.1 12.6 50.1 13.7 46.2 15.2 C42.3 16.7 38.4 18.8 34.4 20.9 C30.4 22.9 26.4 25.8 22.5 27.6 C18.6 29.4 14.8 30.9 10.7 31.7 C6.6 32.4 0.1 32.0 -2.0 32.1 Z" fill="url(#bg31)" filter="url(#b15)" opacity="0.9"/><path d="M-2 15.4 C0.1 16.0 6.6 18.6 10.7 19.0 C14.8 19.4 18.6 18.7 22.5 17.7 C26.4 16.7 30.4 14.6 34.4 13.0 C38.4 11.4 42.3 9.4 46.2 8.3 C50.1 7.2 54.1 6.7 58.0 6.5 C61.9 6.3 66.0 6.9 69.8 7.1 C73.6 7.3 79.1 7.4 81.0 7.5 L81 12.0 C79.1 12.0 73.6 11.6 69.8 11.8 C66.0 12.0 61.9 12.2 58.0 13.0 C54.1 13.8 50.1 15.0 46.2 16.6 C42.3 18.2 38.4 20.3 34.4 22.5 C30.4 24.7 26.4 27.6 22.5 29.6 C18.6 31.6 14.8 33.3 10.7 34.3 C6.6 35.3 0.1 35.3 -2.0 35.5 Z" fill="#000" filter="url(#mot2)" opacity="0.45"/><ellipse cx="6" cy="22" rx="8" ry="11" fill="rgb(80,80,80)" opacity="0.8" filter="url(#b2)"/><ellipse cx="4" cy="6" rx="8" ry="7" fill="rgb(140,140,140)" opacity="0.5" filter="url(#b2)"/><path d="M68.9 28.1Q63.1 30.4 59.5 29.5M26.3 32.4Q21.9 35.6 21.7 37.0M27.6 31.9Q28.6 37.5 30.0 38.5M72.2 22.4Q73.1 29.4 68.5 32.6M41.3 28.9Q36.8 26.6 30.8 28.9M64.6 47.5Q62.4 49.3 54.5 48.3M30.8 42.6Q28.8 47.1 25.3 47.7M40.5 42.4Q38.8 46.8 31.9 48.9M9.8 44.4Q9.6 44.3 13.8 48.8M37.8 50.2Q33.2 47.8 27.7 51.2M15.0 34.1Q19.1 38.0 20.4 42.6M45.8 52.1Q50.8 52.3 54.2 54.1M76.7 24.3Q73.4 22.5 71.1 25.7M62.5 54.6Q67.9 55.5 68.9 58.3M19.3 32.1Q20.8 34.7 26.8 38.9M55.0 58.2Q52.6 62.9 53.0 63.3M38.3 46.4Q37.5 48.3 37.2 56.2M13.0 50.6Q9.2 56.6 10.8 59.7M66.7 51.7Q63.5 54.9 62.1 59.7M14.9 49.1Q10.7 49.5 9.7 52.7M6.7 41.3Q5.2 41.0 -1.3 46.2M53.8 39.0Q51.7 38.5 47.5 40.2M65.2 32.6Q65.3 33.4 65.7 39.9M64.4 26.2Q67.8 25.5 70.5 30.0M2.3 40.0Q0.9 41.8 -3.2 48.5M35.4 48.7Q33.6 52.5 36.9 57.8M74.4 53.2Q76.9 57.4 78.1 60.6M36.3 52.9Q41.5 55.3 43.8 55.3M8.0 47.0Q6.6 51.7 3.1 56.7M33.3 57.8Q31.3 60.9 34.0 63.8M52.0 44.9Q53.9 48.0 59.4 52.8M26.3 55.6Q29.5 57.8 26.8 61.0M36.0 37.0Q39.7 36.8 39.3 42.3M5.2 53.8Q6.2 58.0 7.3 62.6M20.1 42.6Q18.2 46.2 18.3 48.8M3.2 58.0Q2.7 57.9 3.6 62.1M76.4 32.7Q75.9 35.3 79.1 37.3M78.4 56.6Q77.0 60.4 74.9 61.1M12.3 34.8Q7.3 32.7 7.6 36.2M36.3 23.8Q31.8 25.7 31.1 24.5" fill="none" stroke="#222" stroke-width="0.6" opacity="0.38" filter="url(#b04)"/><path d="M65.5 3.1Q70.2 -0.6 76.3 -4.6M42.6 5.2Q48.5 3.4 54.7 2.5M34.8 10.8Q43.3 8.0 49.3 6.3M55.3 0.7Q61.0 -3.8 67.6 -5.6M62.0 2.3Q68.4 -0.2 71.9 -5.7M10.2 7.3Q16.1 4.4 19.4 0.5M70.9 4.9Q75.1 3.6 82.4 1.6M38.0 0.9Q41.7 -3.2 48.4 -3.9M46.4 8.1Q53.8 5.3 61.3 5.8M8.8 8.4Q19.6 6.4 26.6 3.6M58.0 3.6Q61.7 2.8 67.1 -0.5M63.4 1.5Q65.5 -2.3 71.4 -3.7M74.9 6.7Q80.1 7.3 87.8 3.8M42.6 6.0Q47.0 2.6 51.0 -1.7M53.8 5.5Q61.6 -2.5 67.9 -7.3M65.7 3.7Q70.6 3.2 72.8 -0.3M72.0 3.7Q79.6 2.1 87.3 -1.7M8.7 4.3Q17.9 0.2 23.4 -0.3M78.3 2.3Q86.2 -0.9 90.1 -1.7M27.8 14.0Q34.9 10.9 43.8 5.3M11.7 7.0Q14.8 4.6 18.4 2.2M59.2 4.1Q62.9 -0.0 68.6 -1.2M8.5 17.6Q17.9 14.6 25.6 13.4M57.1 3.6Q65.7 -1.3 73.2 -3.3M67.1 4.9Q73.9 0.4 79.3 -3.4" fill="none" stroke="#333" stroke-width="0.6" opacity="0.2" filter="url(#b04)"/><path d="M16.4 26.0a1.0 1.0 0 1 0 2.0 0a1.0 1.0 0 1 0 -2.0 0M62.4 11.3a0.8 0.8 0 1 0 1.6 0a0.8 0.8 0 1 0 -1.6 0M46.0 6.9a1.0 1.0 0 1 0 1.9 0a1.0 1.0 0 1 0 -1.9 0M64.0 7.5a0.5 0.5 0 1 0 1.0 0a0.5 0.5 0 1 0 -1.0 0M55.3 7.7a0.6 0.6 0 1 0 1.3 0a0.6 0.6 0 1 0 -1.3 0M58.1 7.4a0.9 0.9 0 1 0 1.7 0a0.9 0.9 0 1 0 -1.7 0M46.1 10.0a1.0 1.0 0 1 0 1.9 0a1.0 1.0 0 1 0 -1.9 0M21.9 18.2a0.8 0.8 0 1 0 1.7 0a0.8 0.8 0 1 0 -1.7 0M62.8 6.9a0.6 0.6 0 1 0 1.3 0a0.6 0.6 0 1 0 -1.3 0M19.9 20.1a0.6 0.6 0 1 0 1.2 0a0.6 0.6 0 1 0 -1.2 0M35.6 15.5a1.2 1.2 0 1 0 2.4 0a1.2 1.2 0 1 0 -2.4 0M6.5 20.0a0.6 0.6 0 1 0 1.2 0a0.6 0.6 0 1 0 -1.2 0M28.9 21.8a0.6 0.6 0 1 0 1.2 0a0.6 0.6 0 1 0 -1.2 0M39.2 12.6a1.1 1.1 0 1 0 2.2 0a1.1 1.1 0 1 0 -2.2 0M42.6 16.1a1.1 1.1 0 1 0 2.2 0a1.1 1.1 0 1 0 -2.2 0M71.5 9.7a0.6 0.6 0 1 0 1.2 0a0.6 0.6 0 1 0 -1.2 0M7.9 30.9a0.6 0.6 0 1 0 1.3 0a0.6 0.6 0 1 0 -1.3 0M4.2 25.2a0.9 0.9 0 1 0 1.8 0a0.9 0.9 0 1 0 -1.8 0M12.5 22.6a0.8 0.8 0 1 0 1.6 0a0.8 0.8 0 1 0 -1.6 0M35.5 13.7a0.6 0.6 0 1 0 1.2 0a0.6 0.6 0 1 0 -1.2 0M50.2 8.2a1.1 1.1 0 1 0 2.2 0a1.1 1.1 0 1 0 -2.2 0M76.2 5.6a1.0 1.0 0 1 0 2.1 0a1.0 1.0 0 1 0 -2.1 0M57.1 6.6a0.9 0.9 0 1 0 1.8 0a0.9 0.9 0 1 0 -1.8 0M22.3 25.3a0.7 0.7 0 1 0 1.5 0a0.7 0.7 0 1 0 -1.5 0M49.5 7.7a1.1 1.1 0 1 0 2.2 0a1.1 1.1 0 1 0 -2.2 0M16.8 28.3a0.6 0.6 0 1 0 1.2 0a0.6 0.6 0 1 0 -1.2 0M31.4 18.9a0.8 0.8 0 1 0 1.6 0a0.8 0.8 0 1 0 -1.6 0M60.5 5.9a1.2 1.2 0 1 0 2.4 0a1.2 1.2 0 1 0 -2.4 0" fill="#151515" opacity="0.4" filter="url(#b04)"/></svg>
<svg x="234.2" y="513.2" width="78.5" height="58.3" viewBox="0 0 78.5 58.3" preserveAspectRatio="none"><defs><linearGradient id="bg32" x1="0" y1="0" x2="1" y2="0"><stop offset="0" stop-color="rgb(65,65,65)"/><stop offset="0.45" stop-color="rgb(55,55,55)"/><stop offset="1" stop-color="rgb(95,95,95)"/></linearGradient></defs><rect width="78.5" height="58.3" fill="rgb(188,188,188)"/><path d="M-2 43.8 C0.1 43.2 6.6 41.6 10.7 40.2 C14.8 38.8 18.6 37.3 22.5 35.5 C26.4 33.7 30.4 31.6 34.4 29.6 C38.4 27.6 42.3 25.3 46.2 23.7 C50.1 22.1 54.1 21.1 58.0 20.1 C61.9 19.1 66.0 18.2 69.8 17.7 C73.6 17.2 79.1 17.1 81.0 17.0 L84.5 64.3 L-6 64.3 Z" fill="rgb(166,166,166)" filter="url(#b3)"/><ellipse cx="82.5" cy="62.3" rx="11" ry="16" fill="#e4e4e4" filter="url(#b3)" opacity="0.85"/><clipPath id="cl32"><path d="M-2 43.8 C0.1 43.2 6.6 41.6 10.7 40.2 C14.8 38.8 18.6 37.3 22.5 35.5 C26.4 33.7 30.4 31.6 34.4 29.6 C38.4 27.6 42.3 25.3 46.2 23.7 C50.1 22.1 54.1 21.1 58.0 20.1 C61.9 19.1 66.0 18.2 69.8 17.7 C73.6 17.2 79.1 17.1 81.0 17.0 L84.5 64.3 L-6 64.3 Z"/></clipPath><rect width="78.5" height="58.3" filter="url(#tex3)" opacity="0.18"/><rect width="78.5" height="58.3" filter="url(#tex0)" opacity="0.4" clip-path="url(#cl32)"/><path d="M69.5 17.7 C77.5 25.7 77.5 37.9 66.5 60.3" fill="none" stroke="#444" stroke-width="1.5" opacity="0.3" filter="url(#b04)"/><path d="M-2 27.2 C0.1 26.8 6.6 26.2 10.7 24.8 C14.8 23.4 18.6 20.5 22.5 18.9 C26.4 17.3 30.4 16.4 34.4 15.4 C38.4 14.4 42.3 13.6 46.2 13.0 C50.1 12.4 54.1 12.6 58.0 11.8 C61.9 11.0 66.0 9.1 69.8 8.3 C73.6 7.5 79.1 7.2 81.0 7.0 L81 17.0 C79.1 17.1 73.6 17.2 69.8 17.7 C66.0 18.2 61.9 19.1 58.0 20.1 C54.1 21.1 50.1 22.1 46.2 23.7 C42.3 25.3 38.4 27.6 34.4 29.6 C30.4 31.6 26.4 33.7 22.5 35.5 C18.6 37.3 14.8 38.8 10.7 40.2 C6.6 41.6 0.1 43.2 -2.0 43.8 Z" fill="url(#bg32)" filter="url(#b2)" opacity="0.45"/><path d="M-2 30.0 C0.1 29.6 6.6 28.8 10.7 27.4 C14.8 26.0 18.6 23.3 22.5 21.7 C26.4 20.1 30.4 19.0 34.4 17.8 C38.4 16.7 42.3 15.6 46.2 14.8 C50.1 14.1 54.1 14.0 58.0 13.2 C61.9 12.4 66.0 10.6 69.8 9.9 C73.6 9.1 79.1 8.9 81.0 8.7 L81 15.3 C79.1 15.4 73.6 15.5 69.8 16.1 C66.0 16.7 61.9 17.7 58.0 18.7 C54.1 19.7 50.1 20.5 46.2 21.9 C42.3 23.3 38.4 25.4 34.4 27.2 C30.4 29.0 26.4 30.9 22.5 32.7 C18.6 34.4 14.8 36.2 10.7 37.6 C6.6 39.0 0.1 40.4 -2.0 41.0 Z" fill="url(#bg32)" filter="url(#b15)" opacity="0.9"/><path d="M-2 27.2 C0.1 26.8 6.6 26.2 10.7 24.8 C14.8 23.4 18.6 20.5 22.5 18.9 C26.4 17.3 30.4 16.4 34.4 15.4 C38.4 14.4 42.3 13.6 46.2 13.0 C50.1 12.4 54.1 12.6 58.0 11.8 C61.9 11.0 66.0 9.1 69.8 8.3 C73.6 7.5 79.1 7.2 81.0 7.0 L81 17.0 C79.1 17.1 73.6 17.2 69.8 17.7 C66.0 18.2 61.9 19.1 58.0 20.1 C54.1 21.1 50.1 22.1 46.2 23.7 C42.3 25.3 38.4 27.6 34.4 29.6 C30.4 31.6 26.4 33.7 22.5 35.5 C18.6 37.3 14.8 38.8 10.7 40.2 C6.6 41.6 0.1 43.2 -2.0 43.8 Z" fill="#000" filter="url(#mot3)" opacity="0.45"/><path d="M37.8 48.2Q37.7 53.0 32.9 54.9M12.8 43.6Q16.8 48.3 15.2 50.3M36.8 38.9Q38.4 39.6 35.0 44.2M35.5 39.1Q35.8 43.2 41.3 45.1M24.1 50.0Q25.3 56.8 21.5 60.0M5.0 45.9Q2.3 52.1 5.6 54.5M51.0 37.9Q54.6 37.7 57.6 41.8M52.1 56.2Q54.4 60.5 55.8 60.3M13.3 46.7Q14.3 50.2 20.4 50.7M48.8 43.4Q52.4 44.6 56.3 45.9M40.4 31.8Q41.5 35.0 40.2 36.2M73.5 32.6Q75.3 36.5 77.0 38.4M67.8 21.8Q66.3 24.1 61.9 27.2M5.6 47.0Q0.8 48.6 -0.7 52.3M28.8 33.7Q30.9 41.4 33.7 43.4M61.4 30.1Q57.2 32.5 52.3 35.6M66.6 55.2Q71.2 59.8 71.3 62.5M73.0 50.8Q68.5 52.8 64.7 53.6M58.7 36.8Q56.8 37.8 54.5 39.3M41.9 35.3Q43.5 39.9 48.1 43.0M38.4 37.2Q38.2 39.8 39.2 41.7M50.7 32.2Q53.2 35.2 55.1 33.1M58.1 55.6Q61.4 56.6 62.1 58.7M33.0 53.6Q28.9 54.5 28.5 54.4M51.5 42.4Q52.5 47.0 56.6 49.7M74.3 20.0Q69.2 17.9 69.5 20.2M39.6 37.1Q41.8 39.2 40.5 46.0M17.4 41.5Q11.8 39.9 7.7 41.6M5.7 44.7Q2.9 43.6 -5.0 46.3M5.9 58.2Q4.1 62.1 -2.5 61.5M0.9 56.3Q-4.9 55.9 -7.0 56.8M9.8 54.1Q6.4 57.5 2.4 57.4M28.7 34.0Q28.1 35.9 33.1 35.0M57.3 57.8Q59.2 59.8 65.0 63.4M26.8 36.7Q23.3 40.7 20.7 43.8M47.1 43.1Q48.4 45.7 43.9 50.7M6.5 43.7Q9.3 48.1 6.9 51.9M71.4 51.8Q74.8 53.5 76.2 56.2M12.3 40.4Q8.8 38.5 2.5 41.1M1.1 52.4Q-2.5 54.3 -5.6 53.9" fill="none" stroke="#222" stroke-width="0.6" opacity="0.38" filter="url(#b04)"/><path d="M-2.3 1.2Q7.2 -2.5 13.6 -5.1M41.2 6.6Q50.6 2.0 57.2 0.1M49.3 4.7Q55.6 -1.5 64.6 -3.7M37.1 1.9Q44.7 1.0 53.8 -1.8M51.3 6.9Q55.0 4.4 60.2 5.4M59.0 11.0Q66.6 9.8 75.6 4.9M34.5 11.1Q44.0 6.4 49.7 2.6M52.1 2.7Q55.6 1.1 61.9 -2.1M10.7 7.8Q21.6 6.7 29.0 3.5M22.2 6.2Q31.8 4.4 38.0 -0.8M31.8 2.5Q40.9 0.7 49.8 -2.3M50.9 6.3Q57.5 5.0 61.0 0.7M70.8 7.6Q78.2 2.0 82.7 0.4M66.9 0.4Q72.3 -6.5 79.1 -10.1M37.2 6.6Q46.4 3.9 53.3 -2.3M74.0 2.6Q81.6 -1.3 89.6 -8.4M42.2 2.9Q49.3 0.2 53.1 -4.0M76.1 4.9Q83.8 -2.3 92.1 -7.0M34.2 7.8Q43.3 4.8 51.4 1.1M68.4 7.4Q73.0 2.9 78.9 2.2M15.9 6.3Q23.6 4.2 34.3 3.4M50.7 1.4Q57.1 -0.1 62.3 -5.2M63.9 2.3Q68.5 0.8 73.0 -2.4M55.5 9.4Q61.1 6.5 64.7 3.6M68.7 5.9Q75.0 3.8 81.1 3.9" fill="none" stroke="#333" stroke-width="0.6" opacity="0.2" filter="url(#b04)"/><path d="M19.0 32.4a0.6 0.6 0 1 0 1.3 0a0.6 0.6 0 1 0 -1.3 0M20.6 22.8a1.1 1.1 0 1 0 2.2 0a1.1 1.1 0 1 0 -2.2 0M54.4 15.4a1.0 1.0 0 1 0 2.0 0a1.0 1.0 0 1 0 -2.0 0M67.7 10.4a1.1 1.1 0 1 0 2.2 0a1.1 1.1 0 1 0 -2.2 0M1.3 31.2a1.1 1.1 0 1 0 2.2 0a1.1 1.1 0 1 0 -2.2 0M14.6 28.4a0.8 0.8 0 1 0 1.6 0a0.8 0.8 0 1 0 -1.6 0M30.5 15.6a1.0 1.0 0 1 0 2.1 0a1.0 1.0 0 1 0 -2.1 0M75.0 15.2a1.1 1.1 0 1 0 2.3 0a1.1 1.1 0 1 0 -2.3 0M42.6 18.1a1.2 1.2 0 1 0 2.3 0a1.2 1.2 0 1 0 -2.3 0M1.6 24.7a0.9 0.9 0 1 0 1.7 0a0.9 0.9 0 1 0 -1.7 0M60.7 14.4a0.5 0.5 0 1 0 1.1 0a0.5 0.5 0 1 0 -1.1 0M43.5 17.4a1.0 1.0 0 1 0 2.0 0a1.0 1.0 0 1 0 -2.0 0M1.4 33.6a0.8 0.8 0 1 0 1.6 0a0.8 0.8 0 1 0 -1.6 0M40.0 21.2a0.7 0.7 0 1 0 1.4 0a0.7 0.7 0 1 0 -1.4 0M15.3 21.7a1.0 1.0 0 1 0 2.1 0a1.0 1.0 0 1 0 -2.1 0M56.4 12.6a0.9 0.9 0 1 0 1.8 0a0.9 0.9 0 1 0 -1.8 0M60.1 15.5a0.7 0.7 0 1 0 1.4 0a0.7 0.7 0 1 0 -1.4 0M35.5 18.4a0.6 0.6 0 1 0 1.1 0a0.6 0.6 0 1 0 -1.1 0M50.3 12.9a1.0 1.0 0 1 0 1.9 0a1.0 1.0 0 1 0 -1.9 0M46.0 14.6a0.7 0.7 0 1 0 1.5 0a0.7 0.7 0 1 0 -1.5 0M60.9 13.3a1.1 1.1 0 1 0 2.2 0a1.1 1.1 0 1 0 -2.2 0M71.4 12.1a1.0 1.0 0 1 0 2.1 0a1.0 1.0 0 1 0 -2.1 0M49.6 16.0a0.8 0.8 0 1 0 1.6 0a0.8 0.8 0 1 0 -1.6 0M50.7 17.7a0.6 0.6 0 1 0 1.2 0a0.6 0.6 0 1 0 -1.2 0M58.3 17.1a1.2 1.2 0 1 0 2.4 0a1.2 1.2 0 1 0 -2.4 0M50.1 19.9a0.9 0.9 0 1 0 1.8 0a0.9 0.9 0 1 0 -1.8 0M0.7 32.7a1.0 1.0 0 1 0 2.0 0a1.0 1.0 0 1 0 -2.0 0M25.5 21.7a0.9 0.9 0 1 0 1.8 0a0.9 0.9 0 1 0 -1.8 0" fill="#151515" opacity="0.4" filter="url(#b04)"/></svg>
<rect x="284.7" y="563" width="19" height="2.5" fill="#000"/>
<text x="281.6" y="560.2" font-size="8.4" textLength="24.8" lengthAdjust="spacingAndGlyphs" fill="#1a1a1a">200 µm</text>

<text x="358.3" y="24.2" font-size="26" fill="#111">C</text>
<rect x="399.4" y="24.2" width="137.20000000000005" height="60.2" fill="#000"/><rect x="399.4" y="86.7" width="137.20000000000005" height="60.2" fill="#000"/><rect x="399.4" y="149.1" width="137.20000000000005" height="60.2" fill="#000"/><rect x="399.4" y="211.3" width="137.20000000000005" height="60.2" fill="#000"/><rect x="539.1" y="23.9" width="117.69999999999993" height="247.70000000000002" fill="#070707"/>
<svg x="399.4" y="24.2" width="137.20000000000005" height="60.2" viewBox="399.4 24.2 137.20000000000005 60.2"><ellipse cx="519.6" cy="46.1" rx="4.2" ry="3.8" fill="#1e1eff" opacity="1.0" filter="url(#g06)"/><ellipse cx="490.4" cy="58.8" rx="4.5" ry="3.2" fill="#1e1eff" opacity="1.0" filter="url(#g06)"/><ellipse cx="491" cy="52.2" rx="3" ry="2.4" fill="#1e1eff" opacity="0.45" filter="url(#g06)"/><ellipse cx="477.7" cy="60.4" rx="3.4" ry="3" fill="#1e1eff" opacity="0.95" filter="url(#g06)"/><ellipse cx="514.1" cy="65.3" rx="4" ry="3" fill="#1e1eff" opacity="0.95" filter="url(#g06)"/><ellipse cx="454.8" cy="71.7" rx="2.8" ry="2.6" fill="#1e1eff" opacity="0.6" filter="url(#g06)"/><ellipse cx="473.2" cy="81.3" rx="3" ry="2.6" fill="#1e1eff" opacity="0.8" filter="url(#g06)"/><ellipse cx="420.9" cy="65.5" rx="1.2" ry="2.6" fill="#1e1eff" opacity="0.7" filter="url(#g06)"/><ellipse cx="403.1" cy="61.4" rx="1.6" ry="2" fill="#1e1eff" opacity="0.6" filter="url(#g06)"/><ellipse cx="509.4" cy="32.2" rx="1.3" ry="1.3" fill="#1e1eff" opacity="0.4" filter="url(#g06)"/><circle cx="401.1" cy="31.0" r="0.60" fill="#1e1eff" opacity="0.44"/><circle cx="418.4" cy="31.0" r="0.52" fill="#1e1eff" opacity="0.45"/><circle cx="419.6" cy="68.8" r="0.73" fill="#1e1eff" opacity="0.33"/><circle cx="472.9" cy="51.2" r="0.61" fill="#1e1eff" opacity="0.50"/><circle cx="412.2" cy="25.4" r="0.87" fill="#1e1eff" opacity="0.38"/><circle cx="426.6" cy="44.1" r="0.58" fill="#1e1eff" opacity="0.49"/><circle cx="428.3" cy="37.3" r="0.69" fill="#1e1eff" opacity="0.41"/><circle cx="530.3" cy="74.7" r="0.58" fill="#1e1eff" opacity="0.34"/><circle cx="514.2" cy="83.7" r="0.42" fill="#1e1eff" opacity="0.45"/><circle cx="518.5" cy="63.4" r="0.51" fill="#1e1eff" opacity="0.46"/><circle cx="499.5" cy="35.9" r="0.72" fill="#1e1eff" opacity="0.34"/><circle cx="405.1" cy="44.4" r="0.57" fill="#1e1eff" opacity="0.38"/><circle cx="488.1" cy="74.5" r="0.88" fill="#1e1eff" opacity="0.50"/><circle cx="535.7" cy="71.7" r="0.55" fill="#1e1eff" opacity="0.34"/><circle cx="485.0" cy="57.1" r="0.74" fill="#1e1eff" opacity="0.32"/></svg><text x="406.2" y="41" font-size="15.2" fill="#2323d8">DAPI</text>
<svg x="399.4" y="86.7" width="137.20000000000005" height="60.2" viewBox="399.4 86.7 137.20000000000005 60.2"><path d="M486 120.5 Q490 124.5 494 120.5 Q490 122 486 120.5" transform="translate(0,0)" fill="none" stroke="#22dd22" stroke-width="1.2" opacity="1.0" stroke-linecap="round"/><path d="M516 106 A3.8 3.8 0 1 0 523 110" transform="translate(0,0)" fill="none" stroke="#22dd22" stroke-width="1.0" opacity="0.9" stroke-linecap="round"/><path d="M509 101 Q510 96 514 95" transform="translate(0,0)" fill="none" stroke="#22dd22" stroke-width="0.8" opacity="0.6" stroke-linecap="round"/><path d="M420 122 L420.5 130" transform="translate(0,0)" fill="none" stroke="#22dd22" stroke-width="0.8" opacity="0.6" stroke-linecap="round"/><circle cx="422" cy="133" r="0.7" fill="#22dd22" opacity="0.6"/><circle cx="452" cy="126" r="0.6" fill="#22dd22" opacity="0.5"/><circle cx="461" cy="113" r="0.6" fill="#22dd22" opacity="0.5"/><circle cx="470" cy="101" r="0.5" fill="#22dd22" opacity="0.5"/><circle cx="430" cy="138" r="0.5" fill="#22dd22" opacity="0.5"/><circle cx="500" cy="94" r="0.5" fill="#22dd22" opacity="0.5"/><circle cx="527" cy="121" r="0.6" fill="#22dd22" opacity="0.5"/><circle cx="446" cy="131" r="0.5" fill="#22dd22" opacity="0.5"/><circle cx="412" cy="109" r="0.5" fill="#22dd22" opacity="0.4"/><circle cx="478" cy="138" r="0.5" fill="#22dd22" opacity="0.4"/><circle cx="505" cy="130" r="0.5" fill="#22dd22" opacity="0.4"/><circle cx="440" cy="104" r="0.5" fill="#22dd22" opacity="0.4"/><circle cx="465" cy="92" r="0.5" fill="#22dd22" opacity="0.4"/><circle cx="532" cy="96" r="0.6" fill="#22dd22" opacity="0.5"/><circle cx="403" cy="141" r="0.5" fill="#22dd22" opacity="0.4"/><circle cx="510" cy="140" r="0.5" fill="#22dd22" opacity="0.4"/><circle cx="461.5" cy="120.4" r="0.86" fill="#22dd22" opacity="0.53"/><circle cx="469.1" cy="122.1" r="0.49" fill="#22dd22" opacity="0.56"/><circle cx="485.8" cy="134.4" r="0.45" fill="#22dd22" opacity="0.45"/><circle cx="411.8" cy="135.4" r="0.75" fill="#22dd22" opacity="0.32"/><circle cx="534.2" cy="144.8" r="0.73" fill="#22dd22" opacity="0.61"/><circle cx="421.0" cy="87.6" r="0.66" fill="#22dd22" opacity="0.33"/><circle cx="425.5" cy="101.3" r="0.42" fill="#22dd22" opacity="0.53"/><circle cx="459.8" cy="137.4" r="0.66" fill="#22dd22" opacity="0.62"/><circle cx="468.0" cy="126.6" r="0.63" fill="#22dd22" opacity="0.44"/><circle cx="536.3" cy="146.6" r="0.82" fill="#22dd22" opacity="0.65"/><circle cx="442.7" cy="100.5" r="0.54" fill="#22dd22" opacity="0.34"/><circle cx="504.5" cy="110.8" r="0.82" fill="#22dd22" opacity="0.49"/><circle cx="530.8" cy="137.7" r="0.40" fill="#22dd22" opacity="0.40"/><circle cx="524.3" cy="115.0" r="0.89" fill="#22dd22" opacity="0.50"/><circle cx="409.4" cy="124.6" r="0.79" fill="#22dd22" opacity="0.43"/><circle cx="411.4" cy="106.7" r="0.88" fill="#22dd22" opacity="0.68"/><circle cx="415.6" cy="101.5" r="0.45" fill="#22dd22" opacity="0.33"/><circle cx="508.8" cy="97.4" r="0.68" fill="#22dd22" opacity="0.52"/><circle cx="425.6" cy="130.8" r="0.47" fill="#22dd22" opacity="0.62"/><circle cx="415.4" cy="112.0" r="0.51" fill="#22dd22" opacity="0.43"/><circle cx="532.6" cy="135.1" r="0.55" fill="#22dd22" opacity="0.74"/><circle cx="428.3" cy="110.4" r="0.83" fill="#22dd22" opacity="0.62"/><circle cx="413.2" cy="146.3" r="0.51" fill="#22dd22" opacity="0.43"/><circle cx="505.4" cy="106.5" r="0.55" fill="#22dd22" opacity="0.34"/><circle cx="411.8" cy="121.8" r="0.52" fill="#22dd22" opacity="0.60"/><circle cx="450.4" cy="114.0" r="0.88" fill="#22dd22" opacity="0.54"/><circle cx="478.2" cy="138.9" r="0.49" fill="#22dd22" opacity="0.38"/><circle cx="524.0" cy="135.9" r="0.52" fill="#22dd22" opacity="0.39"/><circle cx="500.8" cy="143.3" r="0.50" fill="#22dd22" opacity="0.78"/><circle cx="520.4" cy="123.0" r="0.61" fill="#22dd22" opacity="0.35"/><circle cx="404.7" cy="144.7" r="0.52" fill="#22dd22" opacity="0.65"/><circle cx="434.7" cy="136.3" r="0.70" fill="#22dd22" opacity="0.45"/><circle cx="423.5" cy="130.1" r="0.43" fill="#22dd22" opacity="0.41"/><circle cx="476.1" cy="138.0" r="0.71" fill="#22dd22" opacity="0.44"/><circle cx="525.3" cy="99.0" r="0.41" fill="#22dd22" opacity="0.43"/><circle cx="460.6" cy="90.3" r="0.49" fill="#22dd22" opacity="0.48"/><circle cx="477.9" cy="94.6" r="0.58" fill="#22dd22" opacity="0.75"/><circle cx="533.9" cy="126.2" r="0.75" fill="#22dd22" opacity="0.59"/><circle cx="418.7" cy="88.8" r="0.41" fill="#22dd22" opacity="0.76"/><circle cx="495.6" cy="144.7" r="0.41" fill="#22dd22" opacity="0.62"/><circle cx="465.6" cy="130.7" r="0.56" fill="#22dd22" opacity="0.80"/><circle cx="409.7" cy="119.6" r="0.77" fill="#22dd22" opacity="0.75"/><circle cx="500.5" cy="129.1" r="0.80" fill="#22dd22" opacity="0.76"/><circle cx="447.7" cy="127.9" r="0.85" fill="#22dd22" opacity="0.74"/><circle cx="456.6" cy="134.3" r="0.83" fill="#22dd22" opacity="0.59"/><circle cx="485.1" cy="109.7" r="0.69" fill="#22dd22" opacity="0.60"/><circle cx="410.4" cy="125.2" r="0.90" fill="#22dd22" opacity="0.74"/><circle cx="499.3" cy="110.1" r="0.77" fill="#22dd22" opacity="0.59"/><circle cx="459.8" cy="137.2" r="0.44" fill="#22dd22" opacity="0.68"/><circle cx="403.5" cy="122.9" r="0.64" fill="#22dd22" opacity="0.42"/><circle cx="495.2" cy="116.6" r="0.71" fill="#22dd22" opacity="0.76"/><circle cx="434.5" cy="87.4" r="0.55" fill="#22dd22" opacity="0.64"/><circle cx="427.2" cy="96.9" r="0.85" fill="#22dd22" opacity="0.63"/><circle cx="460.0" cy="140.4" r="0.56" fill="#22dd22" opacity="0.63"/><circle cx="426.6" cy="112.6" r="0.80" fill="#22dd22" opacity="0.76"/><circle cx="520.2" cy="109.8" r="0.69" fill="#22dd22" opacity="0.46"/><circle cx="418.1" cy="116.6" r="0.82" fill="#22dd22" opacity="0.72"/><circle cx="497.0" cy="143.9" r="0.54" fill="#22dd22" opacity="0.38"/><circle cx="461.2" cy="103.3" r="0.51" fill="#22dd22" opacity="0.51"/><circle cx="485.3" cy="116.4" r="0.56" fill="#22dd22" opacity="0.72"/><circle cx="534.1" cy="113.9" r="0.44" fill="#22dd22" opacity="0.32"/><circle cx="519.2" cy="89.2" r="0.75" fill="#22dd22" opacity="0.59"/><circle cx="441.8" cy="134.3" r="0.41" fill="#22dd22" opacity="0.37"/><circle cx="461.8" cy="88.2" r="0.81" fill="#22dd22" opacity="0.42"/><circle cx="418.7" cy="89.5" r="0.71" fill="#22dd22" opacity="0.52"/><circle cx="485.8" cy="126.1" r="0.80" fill="#22dd22" opacity="0.78"/><circle cx="493.3" cy="98.7" r="0.64" fill="#22dd22" opacity="0.39"/><circle cx="400.9" cy="115.1" r="0.76" fill="#22dd22" opacity="0.39"/><circle cx="436.8" cy="107.5" r="0.75" fill="#22dd22" opacity="0.56"/><circle cx="483.7" cy="132.2" r="0.60" fill="#22dd22" opacity="0.70"/></svg><text x="406" y="105.2" font-size="15.2" fill="#2ecc2e">Iba-1</text>
<svg x="399.4" y="149.1" width="137.20000000000005" height="60.2" viewBox="399.4 149.1 137.20000000000005 60.2"><path d="M400.3 188.6 C404 186.5 408 184 412 182.8 C415 182 418 182 421.4 181.6 C425 181 429 180 433 178.7 C438 177 443 175.5 447 175.8 C451 176 453 177.3 456.4 177.5 C460 178 464 178.7 468 178.7 C472 178.5 476 177.8 482 177.3" transform="translate(0,0)" fill="none" stroke="#ff0c0c" stroke-width="2" stroke-linecap="round" filter="url(#g05)"/><path d="M455 177.4 C462 178.6 470 179.6 483 178" fill="none" stroke="#ff0c0c" stroke-width="3.6" stroke-linecap="round" filter="url(#g05)"/><ellipse cx="490.3" cy="177.3" rx="9.3" ry="6.5" transform="rotate(-6 490.3 177.3)" fill="#ff0c0c" filter="url(#g05)"/><ellipse cx="491.6" cy="178.6" rx="4.6" ry="3.9" fill="#1a0000" filter="url(#g06)"/><path d="M508.6 176.4 L505.7 191.4" stroke="#ff0c0c" stroke-width="1.6" opacity="0.85" filter="url(#g05)"/><path d="M504 207.5 L509.5 201.5" stroke="#ff0c0c" stroke-width="1" opacity="0.7"/><path d="M460 153 L478 154" stroke="#ff0c0c" stroke-width="0.6" opacity="0.4"/><path d="M423 152.5 L440 155" stroke="#ff0c0c" stroke-width="0.6" opacity="0.35"/><circle cx="529" cy="165" r="0.7" fill="#ff0c0c" opacity="0.5"/><circle cx="487" cy="166" r="0.7" fill="#ff0c0c" opacity="0.5"/><circle cx="519" cy="192" r="0.7" fill="#ff0c0c" opacity="0.5"/><circle cx="416" cy="201" r="0.7" fill="#ff0c0c" opacity="0.5"/><circle cx="447" cy="199" r="0.7" fill="#ff0c0c" opacity="0.5"/><circle cx="467" cy="186" r="0.7" fill="#ff0c0c" opacity="0.5"/><circle cx="433" cy="190" r="0.7" fill="#ff0c0c" opacity="0.5"/><circle cx="525" cy="157" r="0.7" fill="#ff0c0c" opacity="0.5"/><circle cx="526.3" cy="206.2" r="0.85" fill="#ff0c0c" opacity="0.33"/><circle cx="480.6" cy="174.6" r="0.67" fill="#ff0c0c" opacity="0.34"/><circle cx="425.7" cy="175.9" r="0.51" fill="#ff0c0c" opacity="0.44"/><circle cx="402.8" cy="154.3" r="0.76" fill="#ff0c0c" opacity="0.43"/><circle cx="469.7" cy="193.3" r="0.58" fill="#ff0c0c" opacity="0.32"/><circle cx="506.8" cy="184.6" r="0.73" fill="#ff0c0c" opacity="0.49"/><circle cx="532.6" cy="170.9" r="0.78" fill="#ff0c0c" opacity="0.41"/><circle cx="477.9" cy="188.9" r="0.56" fill="#ff0c0c" opacity="0.33"/><circle cx="464.4" cy="192.3" r="0.70" fill="#ff0c0c" opacity="0.43"/><circle cx="487.5" cy="160.1" r="0.49" fill="#ff0c0c" opacity="0.40"/><circle cx="511.3" cy="160.9" r="0.46" fill="#ff0c0c" opacity="0.33"/><circle cx="404.7" cy="165.7" r="0.69" fill="#ff0c0c" opacity="0.55"/><circle cx="444.8" cy="171.4" r="0.54" fill="#ff0c0c" opacity="0.39"/><circle cx="506.1" cy="182.1" r="0.53" fill="#ff0c0c" opacity="0.33"/><circle cx="506.9" cy="191.7" r="0.81" fill="#ff0c0c" opacity="0.37"/><circle cx="474.2" cy="204.4" r="0.70" fill="#ff0c0c" opacity="0.58"/><circle cx="422.3" cy="207.8" r="0.43" fill="#ff0c0c" opacity="0.42"/><circle cx="402.6" cy="197.8" r="0.74" fill="#ff0c0c" opacity="0.59"/><circle cx="509.8" cy="206.2" r="0.67" fill="#ff0c0c" opacity="0.60"/><circle cx="502.2" cy="169.9" r="0.89" fill="#ff0c0c" opacity="0.41"/><circle cx="425.9" cy="153.7" r="0.63" fill="#ff0c0c" opacity="0.36"/><circle cx="527.5" cy="206.3" r="0.51" fill="#ff0c0c" opacity="0.33"/><circle cx="472.0" cy="159.3" r="0.67" fill="#ff0c0c" opacity="0.54"/><circle cx="434.1" cy="174.5" r="0.85" fill="#ff0c0c" opacity="0.43"/><circle cx="446.4" cy="202.8" r="0.81" fill="#ff0c0c" opacity="0.57"/></svg><text x="406.5" y="166.2" font-size="15.2" fill="#e01818">TH</text>
<svg x="399.4" y="211.3" width="137.20000000000005" height="60.2" viewBox="399.4 211.3 137.20000000000005 60.2"><path d="M486 120.5 Q490 124.5 494 120.5 Q490 122 486 120.5" transform="translate(0,124.60000000000001)" fill="none" stroke="#22dd22" stroke-width="1.2" opacity="0.9" stroke-linecap="round"/><path d="M516 106 A3.8 3.8 0 1 0 523 110" transform="translate(0,124.60000000000001)" fill="none" stroke="#22dd22" stroke-width="1.0" opacity="0.81" stroke-linecap="round"/><path d="M509 101 Q510 96 514 95" transform="translate(0,124.60000000000001)" fill="none" stroke="#22dd22" stroke-width="0.8" opacity="0.54" stroke-linecap="round"/><path d="M420 122 L420.5 130" transform="translate(0,124.60000000000001)" fill="none" stroke="#22dd22" stroke-width="0.8" opacity="0.54" stroke-linecap="round"/><circle cx="422" cy="257.6" r="0.7" fill="#22dd22" opacity="0.54"/><circle cx="452" cy="250.60000000000002" r="0.6" fill="#22dd22" opacity="0.45"/><circle cx="461" cy="237.60000000000002" r="0.6" fill="#22dd22" opacity="0.45"/><circle cx="470" cy="225.60000000000002" r="0.5" fill="#22dd22" opacity="0.45"/><circle cx="430" cy="262.6" r="0.5" fill="#22dd22" opacity="0.45"/><circle cx="500" cy="218.60000000000002" r="0.5" fill="#22dd22" opacity="0.45"/><circle cx="527" cy="245.60000000000002" r="0.6" fill="#22dd22" opacity="0.45"/><circle cx="446" cy="255.60000000000002" r="0.5" fill="#22dd22" opacity="0.45"/><circle cx="412" cy="233.60000000000002" r="0.5" fill="#22dd22" opacity="0.36000000000000004"/><circle cx="478" cy="262.6" r="0.5" fill="#22dd22" opacity="0.36000000000000004"/><circle cx="505" cy="254.60000000000002" r="0.5" fill="#22dd22" opacity="0.36000000000000004"/><circle cx="440" cy="228.60000000000002" r="0.5" fill="#22dd22" opacity="0.36000000000000004"/><circle cx="465" cy="216.60000000000002" r="0.5" fill="#22dd22" opacity="0.36000000000000004"/><circle cx="532" cy="220.60000000000002" r="0.6" fill="#22dd22" opacity="0.45"/><circle cx="403" cy="265.6" r="0.5" fill="#22dd22" opacity="0.36000000000000004"/><circle cx="510" cy="264.6" r="0.5" fill="#22dd22" opacity="0.36000000000000004"/><circle cx="461.5" cy="245.0" r="0.86" fill="#22dd22" opacity="0.53"/><circle cx="469.1" cy="246.7" r="0.49" fill="#22dd22" opacity="0.56"/><circle cx="485.8" cy="259.0" r="0.45" fill="#22dd22" opacity="0.45"/><circle cx="411.8" cy="260.0" r="0.75" fill="#22dd22" opacity="0.32"/><circle cx="534.2" cy="269.4" r="0.73" fill="#22dd22" opacity="0.61"/><circle cx="421.0" cy="212.2" r="0.66" fill="#22dd22" opacity="0.33"/><circle cx="425.5" cy="225.9" r="0.42" fill="#22dd22" opacity="0.53"/><circle cx="459.8" cy="262.0" r="0.66" fill="#22dd22" opacity="0.62"/><circle cx="468.0" cy="251.2" r="0.63" fill="#22dd22" opacity="0.44"/><circle cx="536.3" cy="271.2" r="0.82" fill="#22dd22" opacity="0.65"/><circle cx="442.7" cy="225.1" r="0.54" fill="#22dd22" opacity="0.34"/><circle cx="504.5" cy="235.4" r="0.82" fill="#22dd22" opacity="0.49"/><circle cx="530.8" cy="262.3" r="0.40" fill="#22dd22" opacity="0.40"/><circle cx="524.3" cy="239.6" r="0.89" fill="#22dd22" opacity="0.50"/><circle cx="409.4" cy="249.2" r="0.79" fill="#22dd22" opacity="0.43"/><circle cx="411.4" cy="231.3" r="0.88" fill="#22dd22" opacity="0.68"/><circle cx="415.6" cy="226.1" r="0.45" fill="#22dd22" opacity="0.33"/><circle cx="508.8" cy="222.0" r="0.68" fill="#22dd22" opacity="0.52"/><circle cx="425.6" cy="255.4" r="0.47" fill="#22dd22" opacity="0.62"/><circle cx="415.4" cy="236.6" r="0.51" fill="#22dd22" opacity="0.43"/><circle cx="532.6" cy="259.7" r="0.55" fill="#22dd22" opacity="0.74"/><circle cx="428.3" cy="235.0" r="0.83" fill="#22dd22" opacity="0.62"/><circle cx="413.2" cy="270.9" r="0.51" fill="#22dd22" opacity="0.43"/><circle cx="505.4" cy="231.1" r="0.55" fill="#22dd22" opacity="0.34"/><circle cx="411.8" cy="246.4" r="0.52" fill="#22dd22" opacity="0.60"/><circle cx="450.4" cy="238.6" r="0.88" fill="#22dd22" opacity="0.54"/><circle cx="478.2" cy="263.5" r="0.49" fill="#22dd22" opacity="0.38"/><circle cx="524.0" cy="260.5" r="0.52" fill="#22dd22" opacity="0.39"/><circle cx="500.8" cy="267.9" r="0.50" fill="#22dd22" opacity="0.78"/><circle cx="520.4" cy="247.6" r="0.61" fill="#22dd22" opacity="0.35"/><circle cx="404.7" cy="269.3" r="0.52" fill="#22dd22" opacity="0.65"/><circle cx="434.7" cy="260.9" r="0.70" fill="#22dd22" opacity="0.45"/><circle cx="423.5" cy="254.7" r="0.43" fill="#22dd22" opacity="0.41"/><circle cx="476.1" cy="262.6" r="0.71" fill="#22dd22" opacity="0.44"/><circle cx="525.3" cy="223.6" r="0.41" fill="#22dd22" opacity="0.43"/><circle cx="460.6" cy="214.9" r="0.49" fill="#22dd22" opacity="0.48"/><circle cx="477.9" cy="219.2" r="0.58" fill="#22dd22" opacity="0.75"/><circle cx="533.9" cy="250.8" r="0.75" fill="#22dd22" opacity="0.59"/><circle cx="418.7" cy="213.4" r="0.41" fill="#22dd22" opacity="0.76"/><circle cx="495.6" cy="269.3" r="0.41" fill="#22dd22" opacity="0.62"/><circle cx="465.6" cy="255.3" r="0.56" fill="#22dd22" opacity="0.80"/><circle cx="409.7" cy="244.2" r="0.77" fill="#22dd22" opacity="0.75"/><circle cx="500.5" cy="253.7" r="0.80" fill="#22dd22" opacity="0.76"/><circle cx="447.7" cy="252.5" r="0.85" fill="#22dd22" opacity="0.74"/><circle cx="456.6" cy="258.9" r="0.83" fill="#22dd22" opacity="0.59"/><circle cx="485.1" cy="234.3" r="0.69" fill="#22dd22" opacity="0.60"/><circle cx="410.4" cy="249.8" r="0.90" fill="#22dd22" opacity="0.74"/><circle cx="499.3" cy="234.7" r="0.77" fill="#22dd22" opacity="0.59"/><circle cx="459.8" cy="261.8" r="0.44" fill="#22dd22" opacity="0.68"/><circle cx="403.5" cy="247.5" r="0.64" fill="#22dd22" opacity="0.42"/><circle cx="495.2" cy="241.2" r="0.71" fill="#22dd22" opacity="0.76"/><circle cx="434.5" cy="212.0" r="0.55" fill="#22dd22" opacity="0.64"/><circle cx="427.2" cy="221.5" r="0.85" fill="#22dd22" opacity="0.63"/><circle cx="460.0" cy="265.0" r="0.56" fill="#22dd22" opacity="0.63"/><circle cx="426.6" cy="237.2" r="0.80" fill="#22dd22" opacity="0.76"/><circle cx="520.2" cy="234.4" r="0.69" fill="#22dd22" opacity="0.46"/><circle cx="418.1" cy="241.2" r="0.82" fill="#22dd22" opacity="0.72"/><circle cx="497.0" cy="268.5" r="0.54" fill="#22dd22" opacity="0.38"/><circle cx="461.2" cy="227.9" r="0.51" fill="#22dd22" opacity="0.51"/><circle cx="485.3" cy="241.0" r="0.56" fill="#22dd22" opacity="0.72"/><circle cx="534.1" cy="238.5" r="0.44" fill="#22dd22" opacity="0.32"/><circle cx="519.2" cy="213.8" r="0.75" fill="#22dd22" opacity="0.59"/><circle cx="441.8" cy="258.9" r="0.41" fill="#22dd22" opacity="0.37"/><circle cx="461.8" cy="212.8" r="0.81" fill="#22dd22" opacity="0.42"/><circle cx="418.7" cy="214.1" r="0.71" fill="#22dd22" opacity="0.52"/><circle cx="485.8" cy="250.7" r="0.80" fill="#22dd22" opacity="0.78"/><circle cx="493.3" cy="223.3" r="0.64" fill="#22dd22" opacity="0.39"/><circle cx="400.9" cy="239.7" r="0.76" fill="#22dd22" opacity="0.39"/><circle cx="436.8" cy="232.1" r="0.75" fill="#22dd22" opacity="0.56"/><circle cx="483.7" cy="256.8" r="0.60" fill="#22dd22" opacity="0.70"/><circle cx="526.3" cy="268.4" r="0.85" fill="#ff0c0c" opacity="0.33"/><circle cx="480.6" cy="236.8" r="0.67" fill="#ff0c0c" opacity="0.34"/><circle cx="425.7" cy="238.1" r="0.51" fill="#ff0c0c" opacity="0.44"/><circle cx="402.8" cy="216.5" r="0.76" fill="#ff0c0c" opacity="0.43"/><circle cx="469.7" cy="255.5" r="0.58" fill="#ff0c0c" opacity="0.32"/><circle cx="506.8" cy="246.8" r="0.73" fill="#ff0c0c" opacity="0.49"/><circle cx="532.6" cy="233.1" r="0.78" fill="#ff0c0c" opacity="0.41"/><circle cx="477.9" cy="251.1" r="0.56" fill="#ff0c0c" opacity="0.33"/><circle cx="464.4" cy="254.5" r="0.70" fill="#ff0c0c" opacity="0.43"/><circle cx="487.5" cy="222.3" r="0.49" fill="#ff0c0c" opacity="0.40"/><circle cx="511.3" cy="223.1" r="0.46" fill="#ff0c0c" opacity="0.33"/><circle cx="404.7" cy="227.9" r="0.69" fill="#ff0c0c" opacity="0.55"/><circle cx="444.8" cy="233.6" r="0.54" fill="#ff0c0c" opacity="0.39"/><circle cx="506.1" cy="244.3" r="0.53" fill="#ff0c0c" opacity="0.33"/><circle cx="506.9" cy="253.9" r="0.81" fill="#ff0c0c" opacity="0.37"/><circle cx="474.2" cy="266.6" r="0.70" fill="#ff0c0c" opacity="0.58"/><circle cx="422.3" cy="270.0" r="0.43" fill="#ff0c0c" opacity="0.42"/><circle cx="402.6" cy="260.0" r="0.74" fill="#ff0c0c" opacity="0.59"/><circle cx="509.8" cy="268.4" r="0.67" fill="#ff0c0c" opacity="0.60"/><circle cx="502.2" cy="232.1" r="0.89" fill="#ff0c0c" opacity="0.41"/><circle cx="425.9" cy="215.9" r="0.63" fill="#ff0c0c" opacity="0.36"/><circle cx="527.5" cy="268.5" r="0.51" fill="#ff0c0c" opacity="0.33"/><circle cx="472.0" cy="221.5" r="0.67" fill="#ff0c0c" opacity="0.54"/><circle cx="434.1" cy="236.7" r="0.85" fill="#ff0c0c" opacity="0.43"/><circle cx="446.4" cy="265.0" r="0.81" fill="#ff0c0c" opacity="0.57"/><path d="M400.3 188.6 C404 186.5 408 184 412 182.8 C415 182 418 182 421.4 181.6 C425 181 429 180 433 178.7 C438 177 443 175.5 447 175.8 C451 176 453 177.3 456.4 177.5 C460 178 464 178.7 468 178.7 C472 178.5 476 177.8 482 177.3" transform="translate(0,62.20000000000002)" fill="none" stroke="#ff0c0c" stroke-width="2" stroke-linecap="round" filter="url(#g05)"/><path d="M455 239.60000000000002 C462 240.8 470 241.8 483 240.20000000000002" fill="none" stroke="#ff0c0c" stroke-width="3.6" stroke-linecap="round" filter="url(#g05)"/><ellipse cx="490.3" cy="239.50000000000003" rx="9.3" ry="6.5" transform="rotate(-6 490.3 239.50000000000003)" fill="#ff0c0c" filter="url(#g05)"/><ellipse cx="491.6" cy="240.8" rx="4.6" ry="3.9" fill="#1a0000" filter="url(#g06)"/><path d="M508.6 238.60000000000002 L505.7 253.60000000000002" stroke="#ff0c0c" stroke-width="1.6" opacity="0.85" filter="url(#g05)"/><path d="M504 269.70000000000005 L509.5 263.70000000000005" stroke="#ff0c0c" stroke-width="1" opacity="0.7"/><path d="M460 215.20000000000002 L478 216.20000000000002" stroke="#ff0c0c" stroke-width="0.6" opacity="0.4"/><path d="M423 214.70000000000002 L440 217.20000000000002" stroke="#ff0c0c" stroke-width="0.6" opacity="0.35"/><circle cx="529" cy="227.20000000000002" r="0.7" fill="#ff0c0c" opacity="0.5"/><circle cx="487" cy="228.20000000000002" r="0.7" fill="#ff0c0c" opacity="0.5"/><circle cx="519" cy="254.20000000000002" r="0.7" fill="#ff0c0c" opacity="0.5"/><circle cx="416" cy="263.20000000000005" r="0.7" fill="#ff0c0c" opacity="0.5"/><circle cx="447" cy="261.20000000000005" r="0.7" fill="#ff0c0c" opacity="0.5"/><circle cx="467" cy="248.20000000000002" r="0.7" fill="#ff0c0c" opacity="0.5"/><circle cx="433" cy="252.20000000000002" r="0.7" fill="#ff0c0c" opacity="0.5"/><circle cx="525" cy="219.20000000000002" r="0.7" fill="#ff0c0c" opacity="0.5"/><ellipse cx="519.6" cy="233.20000000000002" rx="4.2" ry="3.8" fill="#1e1eff" opacity="1.0" filter="url(#g06)"/><ellipse cx="490.4" cy="245.90000000000003" rx="4.5" ry="3.2" fill="#1e1eff" opacity="1.0" filter="url(#g06)"/><ellipse cx="491" cy="239.3" rx="3" ry="2.4" fill="#1e1eff" opacity="0.45" filter="url(#g06)"/><ellipse cx="477.7" cy="247.50000000000003" rx="3.4" ry="3" fill="#1e1eff" opacity="0.95" filter="url(#g06)"/><ellipse cx="514.1" cy="252.40000000000003" rx="4" ry="3" fill="#1e1eff" opacity="0.95" filter="url(#g06)"/><ellipse cx="454.8" cy="258.8" rx="2.8" ry="2.6" fill="#1e1eff" opacity="0.6" filter="url(#g06)"/><ellipse cx="473.2" cy="268.40000000000003" rx="3" ry="2.6" fill="#1e1eff" opacity="0.8" filter="url(#g06)"/><ellipse cx="420.9" cy="252.60000000000002" rx="1.2" ry="2.6" fill="#1e1eff" opacity="0.7" filter="url(#g06)"/><ellipse cx="403.1" cy="248.50000000000003" rx="1.6" ry="2" fill="#1e1eff" opacity="0.6" filter="url(#g06)"/><ellipse cx="509.4" cy="219.3" rx="1.3" ry="1.3" fill="#1e1eff" opacity="0.4" filter="url(#g06)"/><ellipse cx="491" cy="247.70000000000002" rx="4" ry="2.5" fill="#20c0ff" filter="url(#g05)"/></svg><text x="406.5" y="227.6" font-size="15.2" fill="#f2f2f2">Merge</text>
<svg x="539.1" y="23.9" width="117.69999999999993" height="247.70000000000002" viewBox="539.1 23.9 117.69999999999993 247.70000000000002"><circle cx="583.9" cy="81.0" r="0.60" fill="#22dd22" opacity="0.66"/><circle cx="607.1" cy="194.8" r="0.83" fill="#22dd22" opacity="0.39"/><circle cx="625.2" cy="166.7" r="0.97" fill="#22dd22" opacity="0.53"/><circle cx="637.9" cy="132.7" r="0.59" fill="#22dd22" opacity="0.27"/><circle cx="624.2" cy="65.4" r="0.89" fill="#22dd22" opacity="0.51"/><circle cx="546.1" cy="218.2" r="0.52" fill="#22dd22" opacity="0.63"/><circle cx="638.1" cy="77.4" r="0.94" fill="#22dd22" opacity="0.57"/><circle cx="553.8" cy="189.8" r="0.57" fill="#22dd22" opacity="0.66"/><circle cx="620.2" cy="266.6" r="0.53" fill="#22dd22" opacity="0.36"/><circle cx="612.1" cy="174.6" r="0.61" fill="#22dd22" opacity="0.64"/><circle cx="638.7" cy="98.6" r="0.59" fill="#22dd22" opacity="0.53"/><circle cx="587.0" cy="188.2" r="0.80" fill="#22dd22" opacity="0.40"/><circle cx="541.6" cy="57.3" r="0.78" fill="#22dd22" opacity="0.56"/><circle cx="589.2" cy="208.3" r="0.82" fill="#22dd22" opacity="0.64"/><circle cx="616.2" cy="103.6" r="0.58" fill="#22dd22" opacity="0.23"/><circle cx="543.8" cy="237.5" r="1.02" fill="#22dd22" opacity="0.58"/><circle cx="552.0" cy="187.5" r="0.58" fill="#22dd22" opacity="0.64"/><circle cx="616.2" cy="209.6" r="0.87" fill="#22dd22" opacity="0.41"/><circle cx="639.0" cy="262.1" r="0.65" fill="#22dd22" opacity="0.42"/><circle cx="625.4" cy="192.3" r="0.75" fill="#22dd22" opacity="0.43"/><circle cx="653.0" cy="92.3" r="0.63" fill="#22dd22" opacity="0.54"/><circle cx="571.7" cy="246.2" r="0.70" fill="#22dd22" opacity="0.66"/><circle cx="583.8" cy="243.1" r="0.95" fill="#22dd22" opacity="0.57"/><circle cx="564.3" cy="64.6" r="0.52" fill="#22dd22" opacity="0.29"/><circle cx="617.6" cy="39.8" r="0.64" fill="#22dd22" opacity="0.48"/><circle cx="557.4" cy="105.4" r="0.64" fill="#22dd22" opacity="0.54"/><circle cx="553.0" cy="271.0" r="0.86" fill="#22dd22" opacity="0.56"/><circle cx="604.1" cy="147.2" r="1.08" fill="#22dd22" opacity="0.65"/><circle cx="635.8" cy="31.3" r="0.85" fill="#22dd22" opacity="0.67"/><circle cx="614.2" cy="151.0" r="0.89" fill="#22dd22" opacity="0.29"/><circle cx="624.7" cy="218.0" r="0.54" fill="#22dd22" opacity="0.45"/><circle cx="609.2" cy="111.1" r="0.91" fill="#22dd22" opacity="0.66"/><circle cx="645.8" cy="100.1" r="0.59" fill="#22dd22" opacity="0.63"/><circle cx="611.1" cy="229.4" r="1.02" fill="#22dd22" opacity="0.34"/><circle cx="608.2" cy="99.0" r="0.98" fill="#22dd22" opacity="0.55"/><circle cx="567.2" cy="147.8" r="0.86" fill="#22dd22" opacity="0.32"/><circle cx="560.6" cy="141.4" r="0.54" fill="#22dd22" opacity="0.45"/><circle cx="649.7" cy="228.5" r="0.53" fill="#22dd22" opacity="0.61"/><circle cx="623.4" cy="199.3" r="0.52" fill="#22dd22" opacity="0.58"/><circle cx="562.1" cy="222.8" r="0.69" fill="#22dd22" opacity="0.38"/><circle cx="559.4" cy="238.8" r="0.63" fill="#22dd22" opacity="0.64"/><circle cx="599.6" cy="60.7" r="0.89" fill="#22dd22" opacity="0.47"/><circle cx="542.3" cy="227.9" r="0.66" fill="#22dd22" opacity="0.21"/><circle cx="629.3" cy="204.0" r="0.73" fill="#22dd22" opacity="0.29"/><circle cx="601.1" cy="169.2" r="0.91" fill="#22dd22" opacity="0.44"/><circle cx="605.9" cy="202.4" r="0.61" fill="#22dd22" opacity="0.29"/><circle cx="596.1" cy="210.7" r="0.98" fill="#22dd22" opacity="0.63"/><circle cx="590.8" cy="200.7" r="0.56" fill="#22dd22" opacity="0.39"/><circle cx="547.0" cy="230.8" r="1.10" fill="#22dd22" opacity="0.53"/><circle cx="627.7" cy="116.1" r="0.98" fill="#22dd22" opacity="0.24"/><circle cx="582.7" cy="110.8" r="1.02" fill="#22dd22" opacity="0.29"/><circle cx="557.8" cy="46.0" r="1.01" fill="#22dd22" opacity="0.36"/><circle cx="645.4" cy="101.4" r="1.00" fill="#22dd22" opacity="0.30"/><circle cx="645.3" cy="265.1" r="1.03" fill="#22dd22" opacity="0.55"/><circle cx="644.6" cy="250.4" r="1.08" fill="#22dd22" opacity="0.34"/><circle cx="639.1" cy="217.0" r="0.71" fill="#22dd22" opacity="0.28"/><circle cx="645.0" cy="140.9" r="0.82" fill="#22dd22" opacity="0.64"/><circle cx="596.0" cy="86.4" r="0.91" fill="#22dd22" opacity="0.47"/><circle cx="571.2" cy="195.3" r="1.04" fill="#22dd22" opacity="0.32"/><circle cx="634.8" cy="210.6" r="0.81" fill="#22dd22" opacity="0.30"/><circle cx="543.6" cy="196.4" r="0.60" fill="#ff0c0c" opacity="0.39"/><circle cx="618.2" cy="220.3" r="0.82" fill="#ff0c0c" opacity="0.40"/><circle cx="541.4" cy="131.0" r="0.76" fill="#ff0c0c" opacity="0.54"/><circle cx="603.5" cy="211.0" r="0.80" fill="#ff0c0c" opacity="0.27"/><circle cx="639.2" cy="227.1" r="0.76" fill="#ff0c0c" opacity="0.24"/><circle cx="599.4" cy="146.8" r="1.04" fill="#ff0c0c" opacity="0.44"/><circle cx="598.7" cy="166.4" r="0.76" fill="#ff0c0c" opacity="0.22"/><circle cx="546.3" cy="257.2" r="1.09" fill="#ff0c0c" opacity="0.32"/><circle cx="643.7" cy="153.3" r="0.57" fill="#ff0c0c" opacity="0.54"/><circle cx="607.9" cy="255.0" r="0.98" fill="#ff0c0c" opacity="0.24"/><circle cx="612.4" cy="218.8" r="1.13" fill="#ff0c0c" opacity="0.33"/><circle cx="601.4" cy="197.6" r="0.62" fill="#ff0c0c" opacity="0.54"/><circle cx="631.0" cy="36.3" r="0.91" fill="#ff0c0c" opacity="0.35"/><circle cx="561.0" cy="173.6" r="1.18" fill="#ff0c0c" opacity="0.42"/><circle cx="552.4" cy="146.5" r="1.05" fill="#ff0c0c" opacity="0.58"/><circle cx="623.3" cy="34.1" r="1.18" fill="#ff0c0c" opacity="0.44"/><circle cx="548.9" cy="55.4" r="0.56" fill="#ff0c0c" opacity="0.47"/><circle cx="557.2" cy="223.9" r="0.58" fill="#ff0c0c" opacity="0.41"/><circle cx="591.3" cy="33.3" r="0.50" fill="#ff0c0c" opacity="0.56"/><circle cx="654.0" cy="54.7" r="1.01" fill="#ff0c0c" opacity="0.60"/><circle cx="645.5" cy="243.1" r="0.74" fill="#ff0c0c" opacity="0.49"/><circle cx="597.7" cy="256.1" r="0.99" fill="#ff0c0c" opacity="0.54"/><circle cx="640.0" cy="119.4" r="1.00" fill="#ff0c0c" opacity="0.24"/><circle cx="563.4" cy="255.9" r="0.78" fill="#ff0c0c" opacity="0.47"/><circle cx="606.9" cy="88.4" r="0.91" fill="#ff0c0c" opacity="0.56"/><path d="M545 50 L547.5 44.5" fill="none" stroke="#22dd22" stroke-width="1.3" opacity="0.8" stroke-linecap="round" filter="url(#g05)"/><path d="M548 70 Q547.5 64 551 61" fill="none" stroke="#22dd22" stroke-width="1.0" opacity="0.6" stroke-linecap="round" filter="url(#g05)"/><path d="M602 81.5 L606.5 86" fill="none" stroke="#22dd22" stroke-width="1.2" opacity="0.9" stroke-linecap="round" filter="url(#g05)"/><path d="M550.3 112.3 L554.6 105.3" fill="none" stroke="#22dd22" stroke-width="1.0" opacity="0.7" stroke-linecap="round" filter="url(#g05)"/><path d="M557.3 131.6 L560.8 138.6" fill="none" stroke="#22dd22" stroke-width="1.1" opacity="0.8" stroke-linecap="round" filter="url(#g05)"/><path d="M632.6 89.5 L635.2 96.5" fill="none" stroke="#22dd22" stroke-width="1.0" opacity="0.6" stroke-linecap="round" filter="url(#g05)"/><path d="M637 118.4 L643 126.3" fill="none" stroke="#22dd22" stroke-width="1.1" opacity="0.7" stroke-linecap="round" filter="url(#g05)"/><path d="M540.6 155.8 Q547 158 549.4 166.3" fill="none" stroke="#22dd22" stroke-width="1.0" opacity="0.8" stroke-linecap="round" filter="url(#g05)"/><path d="M568.7 168 Q571 162 575.7 161" fill="none" stroke="#22dd22" stroke-width="0.9" opacity="0.6" stroke-linecap="round" filter="url(#g05)"/><path d="M605.4 182 L609 174" fill="none" stroke="#22dd22" stroke-width="1.4" opacity="0.9" stroke-linecap="round" filter="url(#g05)"/><path d="M637.9 155.8 Q646 160 648.4 168" fill="none" stroke="#22dd22" stroke-width="1.0" opacity="0.6" stroke-linecap="round" filter="url(#g05)"/><path d="M613.3 211.6 L609.8 224.8 L625.6 235.3 L630.9 232.7" fill="none" stroke="#22dd22" stroke-width="1.4" opacity="0.9" stroke-linecap="round" filter="url(#g05)"/><path d="M647.5 238.8 L643.1 247.6" fill="none" stroke="#22dd22" stroke-width="1.4" opacity="0.8" stroke-linecap="round" filter="url(#g05)"/><path d="M566 252.8 L568.7 247.6 L576.5 242.3" fill="none" stroke="#22dd22" stroke-width="1.0" opacity="0.7" stroke-linecap="round" filter="url(#g05)"/><path d="M643 53.5 L646 50" fill="none" stroke="#22dd22" stroke-width="1.2" opacity="0.6" stroke-linecap="round" filter="url(#g05)"/><path d="M602.8 83.3 L606 87" fill="none" stroke="#22dd22" stroke-width="1.0" opacity="0.6" stroke-linecap="round" filter="url(#g05)"/><circle cx="653.6" cy="43" r="1.6" fill="#22dd22" opacity="0.8" filter="url(#g05)"/><circle cx="615" cy="197.6" r="1.3" fill="#22dd22" opacity="0.9" filter="url(#g05)"/><circle cx="625.6" cy="202" r="1.5" fill="#22dd22" opacity="0.9" filter="url(#g05)"/><circle cx="602.8" cy="208.1" r="1.2" fill="#22dd22" opacity="0.8" filter="url(#g05)"/><circle cx="587" cy="212.5" r="1.2" fill="#22dd22" opacity="0.8" filter="url(#g05)"/><circle cx="566" cy="252.8" r="1.3" fill="#22dd22" opacity="0.8" filter="url(#g05)"/><circle cx="588" cy="211.8" r="1" fill="#22dd22" opacity="0.7" filter="url(#g05)"/><circle cx="564" cy="36" r="0.8" fill="#22dd22" opacity="0.5" filter="url(#g05)"/><circle cx="620" cy="45" r="0.7" fill="#22dd22" opacity="0.4" filter="url(#g05)"/><ellipse cx="633.5" cy="32.5" rx="9.6" ry="8.6" fill="#1e1eff" filter="url(#g1)"/><ellipse cx="617.7" cy="149.6" rx="10.5" ry="9.4" fill="#1a1ad8" filter="url(#g1)"/><ellipse cx="619.5" cy="147.5" rx="5" ry="5" fill="#2a2aff" filter="url(#g1)"/><ellipse cx="615.5" cy="145.6" rx="10.5" ry="8.5" fill="#1e1eff" opacity="0" /><ellipse cx="654" cy="229" rx="6" ry="4" fill="#1e1eff" filter="url(#g1)"/><ellipse cx="572.2" cy="25.2" rx="3" ry="1.6" fill="#30c0ff" filter="url(#g05)"/><path d="M585 47 C592 46.5 600 48 610 50.5 C620 53 630 56 637.5 58.5 C638.5 60 637.5 61.8 636 61.8 C628 60.5 618 58.5 608 56.5 C598 54.5 590 53.5 586 52.5 C583 51.5 583 47.8 585 47 Z" fill="#ff0c0c" filter="url(#g06)"/><path d="M606 45 L611 64" stroke="#a01010" stroke-width="1" opacity="0.5"/><path d="M541.5 115.8 L556.4 126.3" stroke="#e01818" stroke-width="1.4" filter="url(#g05)"/><path d="M630.9 105.3 L636.1 110.5" stroke="#c01515" stroke-width="1.2" opacity="0.6"/><path d="M608 221.3 L620.3 202" stroke="#ff0c0c" stroke-width="2" filter="url(#g05)" opacity="0.9"/><ellipse cx="614.2" cy="176.8" rx="1.8" ry="3" fill="#ff0c0c" opacity="0.8" filter="url(#g05)"/><circle cx="543.3" cy="199.6" r="1.6" fill="#ff0c0c" opacity="0.8" filter="url(#g05)"/><circle cx="652.8" cy="164.5" r="1.5" fill="#ff0c0c" opacity="0.5" filter="url(#g05)"/><path d="M607.5 95 L615 100 L622 108.8 L618 118 L611.6 125 L608 124 Z" fill="#2a6aff" filter="url(#g06)"/><path d="M607.5 95 L608 124 L611.6 125" fill="none" stroke="#30ff70" stroke-width="2.2" filter="url(#g06)"/><path d="M609 97 L609.5 121" fill="none" stroke="#40ffd0" stroke-width="1.2" filter="url(#g05)"/><path d="M588.5 79.1 C591.0 79.0 593.8 79.2 596.0 79.6 C598.2 80.0 600.2 80.3 602.0 81.4 C603.8 82.5 605.5 83.7 606.6 86.3 C607.7 88.9 608.1 93.1 608.5 97.0 C608.9 100.9 608.9 104.4 608.8 109.5 C608.6 114.6 608.3 122.6 607.6 127.5 C606.9 132.4 605.3 135.2 604.5 139.0 C603.7 142.8 603.3 145.5 602.8 150.0 C602.3 154.5 601.9 160.2 601.5 166.0 C601.1 171.8 600.9 178.8 600.6 185.0 C600.3 191.2 600.0 198.0 599.5 203.0 C599.0 208.0 598.3 210.8 597.5 215.0 C596.7 219.2 595.4 224.0 594.5 228.0 C593.6 232.0 592.8 234.5 592.3 239.0 C591.8 243.5 591.5 249.2 591.4 255.0 C591.2 260.8 593.4 270.8 591.4 274.0 C589.4 277.2 581.2 277.2 579.2 274.0 C577.2 270.8 579.2 260.8 579.6 255.0 C580.0 249.2 581.0 243.8 581.8 239.0 C582.6 234.2 583.5 230.5 584.5 226.0 C585.5 221.5 586.8 217.5 587.5 212.0 C588.2 206.5 588.9 198.7 589.0 193.0 C589.1 187.3 588.8 182.5 588.3 178.0 C587.8 173.5 587.0 170.0 586.0 166.0 C585.0 162.0 583.7 157.3 582.5 154.0 C581.3 150.7 580.4 149.3 579.0 146.0 C577.6 142.7 575.5 138.5 573.9 134.3 C572.3 130.1 570.5 125.9 569.6 121.0 C568.7 116.1 568.1 109.8 568.3 105.0 C568.4 100.2 569.4 95.6 570.5 92.0 C571.6 88.4 573.2 85.5 575.0 83.5 C576.8 81.5 578.8 80.7 581.0 80.0 C583.2 79.3 586.0 79.2 588.5 79.1Z" fill="#ff0c0c" filter="url(#g06)"/><ellipse cx="591.5" cy="107" rx="15" ry="19" fill="#5a0f60" opacity="0.85" filter="url(#g2)"/><ellipse cx="593" cy="108" rx="8" ry="11" fill="#200630" opacity="0.8" filter="url(#g2)"/><ellipse cx="589.6" cy="93.8" rx="3.2" ry="2.8" fill="#2a2aff" filter="url(#g06)"/><ellipse cx="597.5" cy="102.8" rx="3.4" ry="3.4" fill="#2a2aff" filter="url(#g06)"/><ellipse cx="590.8" cy="110.7" rx="2.6" ry="2.2" fill="#2a2aff" filter="url(#g06)"/><ellipse cx="591.9" cy="117.4" rx="3" ry="2.4" fill="#2a2aff" filter="url(#g06)"/><ellipse cx="584.5" cy="103" rx="1.8" ry="2.5" fill="#2a2aff" filter="url(#g06)"/><circle cx="594.5" cy="109.5" r="2.2" fill="#08020f" filter="url(#g06)"/></svg>
<text x="607.6" y="254.3" font-size="13.9" textLength="35.2" lengthAdjust="spacingAndGlyphs" fill="#fff">10 µm</text><rect x="609.8" y="257.6" width="33.3" height="2.6" fill="#fff"/>

<text x="358.4" y="314.5" font-size="26" fill="#111">D</text>
<rect x="398" y="316.2" width="280.79999999999995" height="16.30000000000001" fill="#fff" stroke="#7f7f7f" stroke-width="1"/>
<line x1="403.7" y1="324.25" x2="422.5" y2="324.25" stroke="#e5505a" stroke-width="1.5"/>
<circle cx="413" cy="324.25" r="3.4" fill="#e5505a" stroke="#3a2a2a" stroke-width="0.8"/>
<text x="424.6" y="328.15" font-size="9.6" fill="#1a1a1a">Control</text>
<line x1="461.2" y1="324.25" x2="478.7" y2="324.25" stroke="#6b92e4" stroke-width="1.5"/>
<path d="M470 320.65L473.6 324.25L470 327.85L466.4 324.25Z" fill="#6b92e4" stroke="#2a3550" stroke-width="0.8"/>
<text x="480.3" y="328.15" font-size="9.6" fill="#1a1a1a">MPTP</text>
<line x1="513" y1="324.25" x2="531" y2="324.25" stroke="#f5a10d" stroke-width="1.5"/>
<rect x="518.1" y="320.85" width="8" height="7" fill="#f5a10d" stroke="#3a2a10" stroke-width="0.8"/>
<text x="532.8000000000001" y="328.15" font-size="9.6" fill="#1a1a1a">HA-1077</text>
<line x1="575.6" y1="324.25" x2="593.2" y2="324.25" stroke="#2f8f5a" stroke-width="1.5"/>
<path d="M584.3 321.05L588.4 326.85L580.1999999999999 326.85Z" fill="#2f8f5a" stroke="#1f3a2a" stroke-width="0.8"/>
<text x="596.3000000000001" y="328.15" font-size="9.6" fill="#1a1a1a">HA-1077 + MPTP</text>
<line x1="444.4" y1="358" x2="444.4" y2="525.3" stroke="#444" stroke-width="1"/>
<line x1="441.2" y1="358.0" x2="444.4" y2="358.0" stroke="#444" stroke-width="1"/><text x="437.8" y="361.3" font-size="9.6" text-anchor="end" fill="#222">0.25</text>
<line x1="441.2" y1="391.4" x2="444.4" y2="391.4" stroke="#444" stroke-width="1"/><text x="437.8" y="394.7" font-size="9.6" text-anchor="end" fill="#222">0.20</text>
<line x1="441.2" y1="424.8" x2="444.4" y2="424.8" stroke="#444" stroke-width="1"/><text x="437.8" y="428.1" font-size="9.6" text-anchor="end" fill="#222">0.15</text>
<line x1="441.2" y1="458.2" x2="444.4" y2="458.2" stroke="#444" stroke-width="1"/><text x="437.8" y="461.5" font-size="9.6" text-anchor="end" fill="#222">0.10</text>
<line x1="441.2" y1="491.6" x2="444.4" y2="491.6" stroke="#444" stroke-width="1"/><text x="437.8" y="494.90000000000003" font-size="9.6" text-anchor="end" fill="#222">0.05</text>
<line x1="441.2" y1="525.0" x2="444.4" y2="525.0" stroke="#444" stroke-width="1"/><text x="437.8" y="528.3" font-size="9.6" text-anchor="end" fill="#222">0.00</text>
<text x="482.3" y="542.3" font-size="9.6" text-anchor="middle" fill="#222">24</text>
<text x="557.7" y="542.3" font-size="9.6" text-anchor="middle" fill="#222">48</text>
<text x="632.4" y="542.3" font-size="9.6" text-anchor="middle" fill="#222">72</text>
<text x="558.4" y="568.8" font-size="13" font-style="italic" text-anchor="middle" fill="#222">Hours after MPTP</text>
<text transform="translate(402.2,441.2) rotate(-90)" font-size="11.3" text-anchor="middle" fill="#222">Number of Gliapses per neuron</text>
<line x1="482.3" y1="442.7" x2="482.3" y2="515.8" stroke="#3a3a3a" stroke-width="0.9"/><line x1="479.6" y1="442.7" x2="485.0" y2="442.7" stroke="#3a3a3a" stroke-width="0.9"/><line x1="479.6" y1="462.4" x2="485.0" y2="462.4" stroke="#3a3a3a" stroke-width="0.9"/><line x1="479.6" y1="491.5" x2="485.0" y2="491.5" stroke="#3a3a3a" stroke-width="0.9"/><line x1="479.6" y1="515.8" x2="485.0" y2="515.8" stroke="#3a3a3a" stroke-width="0.9"/>
<line x1="557.7" y1="380.3" x2="557.7" y2="446.6" stroke="#3a3a3a" stroke-width="0.9"/><line x1="555.0" y1="380.3" x2="560.4000000000001" y2="380.3" stroke="#3a3a3a" stroke-width="0.9"/><line x1="555.0" y1="446.6" x2="560.4000000000001" y2="446.6" stroke="#3a3a3a" stroke-width="0.9"/>
<line x1="557.7" y1="484.4" x2="557.7" y2="518" stroke="#3a3a3a" stroke-width="0.9"/><line x1="555.0" y1="484.4" x2="560.4000000000001" y2="484.4" stroke="#3a3a3a" stroke-width="0.9"/>
<line x1="632.4" y1="493" x2="632.4" y2="507.1" stroke="#3a3a3a" stroke-width="0.9"/><line x1="629.6999999999999" y1="493" x2="635.1" y2="493" stroke="#3a3a3a" stroke-width="0.9"/><line x1="629.6999999999999" y1="507.1" x2="635.1" y2="507.1" stroke="#3a3a3a" stroke-width="0.9"/>
<polyline points="482.3,503.6 557.7,496.6 632.4,500" fill="none" stroke="#e5505a" stroke-width="1.35"/>
<circle cx="482.3" cy="503.6" r="3.4" fill="#e5505a" stroke="#3a2a2a" stroke-width="0.8"/>
<circle cx="557.7" cy="496.6" r="3.4" fill="#e5505a" stroke="#3a2a2a" stroke-width="0.8"/>
<circle cx="632.4" cy="500" r="3.4" fill="#e5505a" stroke="#3a2a2a" stroke-width="0.8"/>
<polyline points="482.3,471.8 557.7,413.6 632.4,521" fill="none" stroke="#6b92e4" stroke-width="1.35"/>
<path d="M482.3 468.2L485.90000000000003 471.8L482.3 475.40000000000003L478.7 471.8Z" fill="#6b92e4" stroke="#2a3550" stroke-width="0.8"/>
<path d="M557.7 410.0L561.3000000000001 413.6L557.7 417.20000000000005L554.1 413.6Z" fill="#6b92e4" stroke="#2a3550" stroke-width="0.8"/>
<path d="M632.4 517.4L636.0 521L632.4 524.6L628.8 521Z" fill="#6b92e4" stroke="#2a3550" stroke-width="0.8"/>
<polyline points="482.3,510.9 557.7,520.5 632.4,523.8" fill="none" stroke="#f5a10d" stroke-width="1.35"/>
<rect x="478.65000000000003" y="507.25" width="7.3" height="7.3" fill="#f5a10d" stroke="#3a2a10" stroke-width="0.8"/>
<rect x="554.0500000000001" y="516.85" width="7.3" height="7.3" fill="#f5a10d" stroke="#3a2a10" stroke-width="0.8"/>
<rect x="628.75" y="520.15" width="7.3" height="7.3" fill="#f5a10d" stroke="#3a2a10" stroke-width="0.8"/>
<polyline points="482.3,484.6 557.7,509.4 632.4,520" fill="none" stroke="#2f8f5a" stroke-width="1.35"/>
<path d="M482.3 481.1L485.625 487.40000000000003L478.975 487.40000000000003Z" fill="#2f8f5a" stroke="#1f3a2a" stroke-width="0.8"/>
<path d="M557.7 505.9L561.0250000000001 512.1999999999999L554.375 512.1999999999999Z" fill="#2f8f5a" stroke="#1f3a2a" stroke-width="0.8"/>
<path d="M632.4 516.5L635.725 522.8L629.0749999999999 522.8Z" fill="#2f8f5a" stroke="#1f3a2a" stroke-width="0.8"/>
<line x1="557.90" y1="369.30" x2="557.90" y2="375.90" stroke="#222" stroke-width="1.35" stroke-linecap="round"/><line x1="555.04" y1="370.95" x2="560.76" y2="374.25" stroke="#222" stroke-width="1.35" stroke-linecap="round"/><line x1="560.76" y1="370.95" x2="555.04" y2="374.25" stroke="#222" stroke-width="1.35" stroke-linecap="round"/>

</svg>
</body></html>
